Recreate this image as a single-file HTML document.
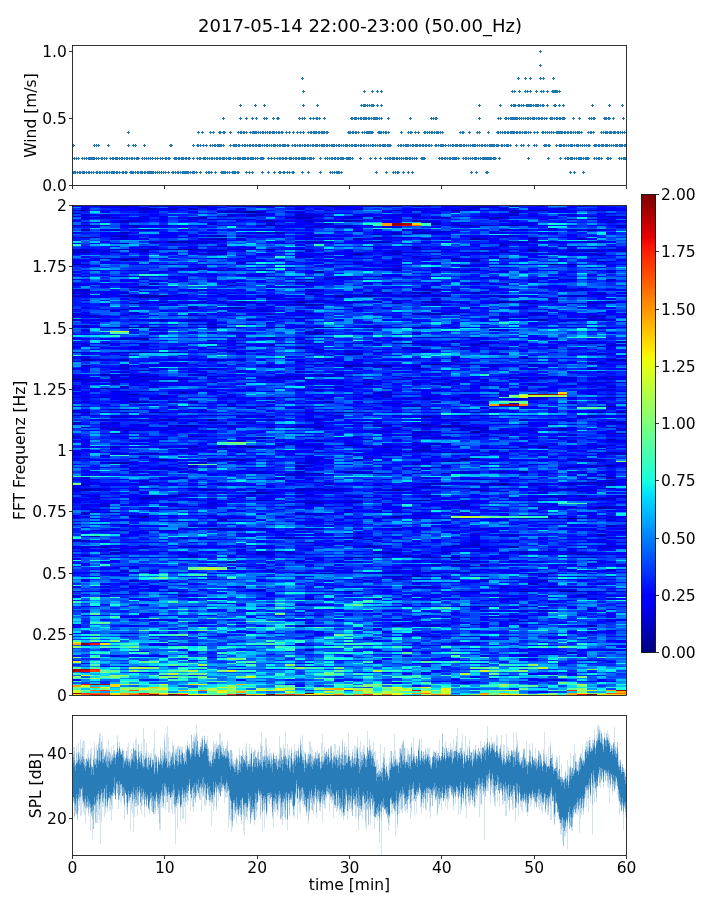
<!DOCTYPE html>
<html><head><meta charset="utf-8"><title>Spectrogram 2017-05-14</title>
<style>html,body{margin:0;padding:0;background:#fff;width:720px;height:900px;overflow:hidden}svg{display:block}</style>
</head><body>
<svg width="720" height="900" viewBox="0 0 720 900" font-family="'DejaVu Sans', 'Liberation Sans', sans-serif" font-size="15.5" fill="#000">
<clipPath id="cs"><rect x="72.5" y="205.5" width="554" height="490"/></clipPath><g clip-path="url(#cs)"><g transform="translate(71.018 206.2470) scale(9.732 1.49390)" fill="none" stroke-width="1" shape-rendering="crispEdges"><path stroke="#000096" d="M18 4h1M49 39h1M37 106h1M18 161h1M44 186h1M51 258h1"/><path stroke="#0000ad" d="M20 0h1M26 0h1M41 1h1M1 3h1M39 3h1M48 3h1M20 10h1M28 10h1M35 10h1M41 13h2M45 13h1M53 16h1M1 21h1M15 22h1M41 22h1M10 24h2M5 25h1M5 29h1M7 29h1M11 29h2M20 29h1M42 29h1M47 29h1M47 30h1M1 31h1M29 32h1M6 35h1M5 36h1M51 39h1M40 40h1M15 43h1M19 43h1M25 44h1M24 49h1M23 51h2M36 58h1M7 60h3M27 60h1M30 60h1M7 61h1M23 64h1M37 64h1M44 64h1M6 65h1M24 66h1M37 72h1M57 72h1M48 76h1M5 81h4M14 81h2M25 81h2M35 81h2M25 85h1M20 88h1M7 89h1M34 92h1M42 92h1M53 92h1M6 98h2M9 98h2M46 102h1M1 103h1M28 107h1M32 107h1M7 114h1M0 116h1M5 116h1M3 122h1M6 126h1M6 131h1M19 134h1M36 134h1M55 134h1M4 136h1M1 138h1M27 138h2M56 138h1M40 140h1M36 141h1M14 143h1M36 146h1M38 147h2M22 148h1M50 149h1M41 151h1M56 152h1M12 154h1M19 155h1M28 160h1M15 161h1M48 161h1M39 165h1M55 165h1M40 169h2M16 170h1M40 170h1M4 172h2M51 175h1M28 178h1M46 178h1M24 179h1M31 179h1M53 185h1M55 185h1M1 190h1M33 190h1M19 192h1M19 197h1M36 197h1M54 202h1M11 203h1M7 208h1M33 208h1M48 209h1M50 209h2M14 216h1M54 220h1M45 228h1M31 231h1M29 235h1M38 235h2M16 238h1M35 248h1M10 258h1M28 258h1M46 258h1M50 258h1M23 281h1"/><path stroke="#0000c8" d="M5 0h1M18 0h2M22 0h1M27 0h1M30 0h1M32 0h2M13 1h1M7 2h2M10 2h1M12 2h1M50 2h1M0 3h1M16 3h1M33 3h1M45 3h1M47 3h1M53 3h3M15 4h1M17 4h1M19 4h1M45 4h1M0 5h1M18 6h2M23 6h1M45 6h1M3 7h1M15 7h1M29 7h1M35 7h1M53 7h1M55 7h2M13 8h1M23 8h2M31 8h1M43 8h1M17 9h1M51 9h1M54 9h1M5 10h2M24 10h1M29 10h1M36 10h1M5 11h1M36 11h2M55 11h1M26 12h1M37 12h1M0 13h4M9 13h1M19 13h3M25 13h1M28 13h1M30 13h1M39 13h2M44 13h1M56 13h1M6 14h1M27 14h2M1 16h1M4 16h1M7 16h1M35 16h1M44 16h1M29 17h1M38 17h1M5 18h1M19 18h1M21 18h1M33 18h1M35 18h2M31 19h1M33 19h1M4 20h2M14 20h2M17 20h1M25 20h1M44 20h1M2 21h1M5 21h1M24 21h1M31 21h2M14 22h1M29 22h1M36 22h1M42 22h1M47 22h1M52 22h1M25 24h1M31 24h2M45 24h1M47 24h1M53 24h2M44 26h1M35 28h1M0 29h2M8 29h1M10 29h1M17 29h2M23 29h1M51 29h1M55 29h1M1 30h1M7 30h1M15 30h1M51 30h3M56 30h1M0 31h1M4 31h1M32 31h1M37 31h1M41 31h2M14 32h1M33 32h1M54 33h1M3 35h1M37 35h1M39 35h1M44 35h1M39 36h1M41 36h1M41 37h1M54 37h2M0 39h2M11 42h1M13 42h1M2 43h1M33 43h1M39 43h1M1 47h1M6 47h2M20 47h1M28 47h1M50 49h1M55 49h1M41 51h1M8 52h1M16 53h1M7 54h1M1 56h1M37 56h1M32 58h1M35 58h1M41 58h1M54 59h1M0 60h1M6 60h1M35 60h1M37 60h1M51 60h2M57 60h1M44 61h1M25 63h1M13 64h1M17 64h1M29 64h1M36 64h1M46 64h1M55 64h1M7 65h1M19 65h1M33 65h1M47 65h1M53 65h1M23 66h1M25 66h1M12 68h1M16 68h2M5 69h1M19 69h1M39 71h2M20 72h1M35 72h2M38 72h1M47 72h1M1 73h2M12 73h1M53 74h1M23 75h1M9 76h1M12 76h1M54 76h1M12 79h1M14 79h1M1 80h1M1 81h1M3 81h2M12 81h1M20 81h1M23 81h2M29 81h3M33 81h1M40 81h1M51 81h2M54 81h1M43 83h1M24 84h1M24 85h1M17 88h1M36 88h3M41 88h1M5 89h1M33 89h1M14 90h1M56 91h2M0 92h1M3 92h1M14 92h1M24 92h2M29 92h1M35 92h1M52 92h1M20 93h1M36 93h1M41 93h1M38 94h1M54 94h1M23 95h1M25 96h1M44 96h1M16 97h1M36 97h1M1 98h1M4 98h1M8 98h1M35 98h1M28 99h2M47 102h1M2 103h1M5 103h1M14 103h1M55 103h2M53 105h1M36 106h1M39 106h3M46 106h2M29 107h1M31 107h1M35 107h1M14 109h1M53 109h1M7 110h1M3 113h1M25 113h1M22 114h1M26 114h1M21 115h1M46 115h1M48 115h1M1 116h1M7 116h1M9 116h3M24 116h1M30 116h1M33 116h1M4 117h1M10 118h1M14 118h1M54 118h2M57 118h1M30 119h1M47 119h1M42 120h2M51 120h1M5 121h1M25 123h1M11 125h1M5 126h1M9 127h1M30 127h1M32 127h1M1 128h1M3 128h1M20 128h1M22 128h1M41 128h2M47 128h1M55 128h2M25 129h1M36 129h1M46 129h1M7 131h1M10 131h1M12 131h1M26 131h1M37 131h1M51 132h1M57 132h1M10 134h1M12 134h1M16 134h1M34 134h2M46 134h1M5 136h1M37 136h1M3 138h1M5 138h1M8 138h2M24 138h1M29 138h1M41 138h1M14 140h1M27 140h1M42 140h1M53 140h1M4 141h1M3 143h1M9 143h2M20 143h1M38 143h1M46 143h1M12 144h1M55 144h1M0 145h1M56 145h1M3 146h1M46 146h1M49 146h1M11 147h2M16 147h1M23 147h1M25 147h1M31 147h1M36 147h1M40 147h1M1 148h1M3 148h1M12 148h1M20 148h1M25 148h1M41 148h1M55 148h1M4 149h1M7 150h1M9 150h1M13 150h1M39 150h1M42 150h1M47 150h1M36 151h1M4 152h1M44 152h1M55 152h1M0 154h1M7 154h1M13 154h1M35 154h1M55 156h1M25 157h1M37 159h1M21 160h1M23 160h2M55 160h1M4 161h1M12 161h1M19 161h1M30 161h1M32 161h1M36 161h1M46 161h1M54 161h1M57 161h1M44 162h1M51 162h1M12 163h1M36 163h1M35 164h2M17 165h1M25 165h1M32 165h1M38 165h1M43 165h1M8 166h1M56 166h1M1 169h1M6 169h1M9 170h1M14 170h1M17 170h1M29 170h1M39 170h1M52 170h2M14 171h1M20 171h1M36 171h1M38 171h2M13 172h1M35 173h1M23 174h1M53 174h3M36 175h2M9 176h1M23 178h1M29 178h1M44 178h1M25 179h1M40 179h1M22 180h1M54 181h1M1 182h1M55 182h1M41 183h1M25 185h1M54 185h1M26 186h1M36 186h3M41 186h1M43 186h1M51 186h1M1 187h1M31 187h1M47 187h1M55 187h1M36 188h1M0 189h1M24 189h1M40 189h1M48 189h1M51 189h1M55 189h1M2 190h2M13 190h2M23 190h1M26 190h1M34 190h1M41 190h2M50 190h1M52 191h1M18 192h1M11 193h1M8 194h1M10 194h1M36 194h1M49 194h2M52 194h1M7 195h2M7 196h1M53 196h3M35 197h1M47 197h1M24 198h2M29 198h1M24 199h2M3 201h1M12 201h1M22 201h1M40 201h1M48 201h1M54 201h1M55 202h1M2 203h1M8 203h1M28 203h1M2 205h1M4 205h1M1 206h1M23 206h1M25 206h1M9 207h1M14 207h1M15 209h2M35 209h1M38 209h3M46 209h2M49 209h1M52 209h3M15 210h1M10 211h2M5 213h1M55 214h1M15 216h1M17 216h1M19 216h1M33 216h1M5 217h1M7 217h1M9 217h1M17 217h1M41 217h1M28 219h1M45 220h1M2 221h1M22 222h1M29 222h1M14 223h1M1 224h1M28 225h1M41 226h1M28 227h1M30 227h1M39 227h1M41 227h1M1 228h1M3 228h1M30 228h2M42 229h1M4 230h1M21 231h1M39 231h1M46 231h1M48 231h1M4 232h2M19 232h1M22 232h1M32 232h1M46 232h1M51 232h1M3 233h1M19 233h1M50 233h1M52 233h2M1 234h1M12 234h1M34 234h1M31 235h2M36 235h2M40 235h2M53 235h1M39 238h1M37 240h1M39 240h1M42 240h1M40 241h2M55 243h1M5 245h1M7 245h1M24 245h1M32 245h2M36 245h1M39 245h1M26 246h1M47 246h3M33 248h2M14 250h1M33 250h1M42 250h1M6 251h1M48 251h1M47 253h1M35 255h2M19 257h1M50 257h1M11 258h1M26 258h1M29 258h1M39 258h1M41 258h1M47 258h1M53 258h1M55 258h1M57 258h1M53 260h1M52 261h1M24 263h1M42 268h1M46 268h1M48 271h1M46 278h1M33 281h1M36 281h2M53 281h1M37 288h1M40 288h1M39 293h1M23 294h1M24 297h1M55 297h1M51 299h1M46 301h1M36 304h1"/><path stroke="#0000df" d="M3 0h2M13 0h1M16 0h2M21 0h1M23 0h1M31 0h1M35 0h1M42 0h1M45 0h1M5 1h2M14 1h1M40 1h1M42 1h2M1 2h1M17 2h1M23 2h1M29 2h1M40 2h2M44 2h1M6 3h2M26 3h1M35 3h2M38 3h1M40 3h1M44 3h1M46 3h1M52 3h1M57 3h1M7 4h1M16 4h1M23 4h1M39 4h1M26 5h1M45 5h1M55 5h1M1 6h1M3 6h1M16 6h1M24 6h2M30 6h1M33 6h1M35 6h1M44 6h1M51 6h1M0 7h1M9 7h1M16 7h1M18 7h1M23 7h4M28 7h1M32 7h1M42 7h1M47 7h1M1 8h4M7 8h1M12 8h1M22 8h1M28 8h1M37 8h2M44 8h1M1 9h1M12 9h1M14 9h1M53 9h1M55 9h1M19 10h1M25 10h3M55 10h1M1 11h1M47 11h1M54 11h1M14 12h1M20 12h1M39 12h1M46 12h1M6 13h1M10 13h1M17 13h1M27 13h1M43 13h1M46 13h2M57 13h1M24 14h2M32 14h1M56 14h1M49 15h1M8 16h1M34 16h1M46 16h1M49 16h1M51 16h2M54 16h1M36 17h2M39 17h1M20 18h1M37 18h1M43 18h1M32 19h1M45 20h1M0 21h1M33 21h2M38 21h1M41 21h1M47 21h1M5 22h1M13 22h1M17 22h1M31 22h1M17 23h1M57 23h1M8 24h1M12 24h3M23 24h2M30 24h1M46 24h1M48 24h2M52 24h1M12 25h2M21 25h2M24 25h1M44 25h1M14 27h2M30 27h1M34 27h1M50 27h2M53 27h3M57 28h1M2 29h3M6 29h1M9 29h1M13 29h1M16 29h1M24 29h1M35 29h2M38 29h1M43 29h1M45 29h1M49 29h1M53 29h1M56 29h1M0 30h1M3 30h1M14 30h1M24 30h1M33 30h1M44 30h1M54 30h1M23 31h1M30 31h1M33 31h3M44 31h1M13 32h1M15 32h1M26 32h1M49 32h2M53 32h2M57 33h1M23 34h2M35 34h1M5 35h1M14 35h2M29 35h1M36 35h1M43 35h1M6 36h1M33 36h1M18 37h1M32 37h1M40 37h1M53 37h1M17 38h1M29 38h1M9 39h2M13 39h1M26 39h1M44 39h1M50 39h1M33 40h1M41 40h1M43 41h1M12 42h1M16 42h1M32 42h2M37 42h1M5 43h3M10 43h1M22 43h1M38 43h1M40 43h2M49 43h1M53 43h1M55 43h1M44 44h1M55 44h1M19 45h1M5 47h1M10 47h1M19 47h1M29 47h3M33 47h2M26 48h2M0 49h1M23 49h1M26 49h1M29 49h1M47 49h1M51 49h1M53 49h1M47 50h1M55 50h1M16 51h1M22 51h1M30 51h1M32 51h2M37 51h1M0 52h1M44 52h1M24 53h1M6 54h1M21 54h2M48 54h1M35 55h1M52 55h1M0 56h1M12 56h2M24 56h2M36 56h1M39 56h1M50 56h3M55 56h1M1 57h1M24 57h2M31 57h1M0 58h2M5 58h1M30 58h1M34 58h1M42 58h1M54 58h1M3 59h1M11 59h1M15 59h1M24 59h2M53 59h1M5 60h1M10 60h1M19 60h1M28 60h2M31 60h1M33 60h2M38 60h1M43 60h2M46 60h1M50 60h1M8 61h1M20 61h1M27 61h1M20 62h1M22 62h1M49 62h1M1 63h1M34 63h1M9 64h1M11 64h1M15 64h1M18 64h1M24 64h1M26 64h1M28 64h1M31 64h1M33 64h1M43 64h1M45 64h1M49 64h1M53 64h2M57 64h1M12 65h1M16 65h1M28 65h1M40 65h1M51 65h2M9 66h1M22 66h1M36 66h2M47 67h1M29 68h1M46 68h1M12 69h1M18 69h1M4 70h1M19 70h2M23 70h1M6 71h1M48 71h1M0 72h1M6 72h1M24 72h1M31 72h1M48 72h1M5 73h1M11 73h1M13 73h1M16 73h2M47 73h1M53 73h2M2 74h1M44 74h3M54 74h1M24 75h1M53 75h1M0 76h1M8 76h1M13 76h1M18 76h1M47 76h1M51 76h1M53 76h1M55 76h1M1 77h1M9 77h1M12 77h1M24 77h1M29 77h1M50 77h1M14 78h1M30 78h1M7 79h1M13 79h1M31 80h1M16 81h1M21 81h1M34 81h1M37 81h1M39 81h1M42 81h2M54 82h1M44 83h1M25 84h1M9 85h1M16 85h1M35 85h1M24 86h1M8 88h1M21 88h2M24 88h1M35 88h1M39 88h2M44 88h1M6 89h1M20 89h1M23 89h1M16 90h1M24 90h1M39 91h1M42 91h1M4 92h1M7 92h1M17 92h1M21 92h1M23 92h1M31 92h1M33 92h1M36 92h1M41 92h1M51 92h1M54 92h1M1 93h1M7 93h1M55 93h2M2 94h1M14 94h2M17 94h1M39 94h1M10 95h1M34 95h2M40 95h1M43 95h1M49 95h1M35 96h1M40 96h1M51 96h1M18 97h1M28 97h1M0 98h1M5 98h1M11 98h1M14 98h1M17 98h1M25 98h1M28 98h2M44 99h1M53 99h2M5 100h1M1 101h1M10 102h1M12 102h1M25 102h1M35 102h1M39 102h1M45 102h1M48 102h1M3 103h1M15 103h1M17 103h1M26 103h1M0 104h1M14 104h1M23 104h1M39 104h1M47 104h1M10 105h2M54 105h1M9 106h1M11 106h1M24 106h2M28 106h3M38 106h1M43 106h1M1 107h1M5 107h1M8 107h1M20 107h1M27 107h1M30 107h1M43 107h1M47 107h2M5 108h1M7 108h1M5 109h1M9 109h1M35 109h2M42 109h1M47 109h1M57 109h1M8 110h1M5 111h1M17 111h1M23 111h1M54 111h1M29 112h1M37 112h1M4 113h3M12 113h2M27 113h1M0 114h1M4 114h1M8 114h1M14 114h2M21 114h1M23 114h1M28 114h1M49 114h1M55 114h1M57 114h1M0 115h1M4 115h1M6 115h1M8 115h1M19 115h2M23 115h1M34 115h2M45 115h1M51 115h1M54 115h2M2 116h1M8 116h1M20 116h1M37 116h2M40 116h3M47 116h1M50 116h1M53 116h1M57 116h1M1 117h2M7 117h1M31 117h1M39 117h1M51 117h1M1 118h1M4 118h1M9 118h1M19 118h1M25 118h3M35 118h1M56 118h1M4 119h1M8 119h1M35 119h1M37 119h2M42 119h1M53 119h1M8 121h1M27 121h1M55 121h1M0 122h1M4 122h1M13 123h1M18 123h1M23 123h1M35 123h1M37 123h1M46 123h1M48 123h1M54 123h2M4 124h2M7 124h2M10 124h3M14 124h1M20 124h1M40 124h1M43 124h1M31 125h2M28 126h2M32 126h2M40 126h1M44 126h1M53 126h1M55 126h1M16 127h1M37 127h1M0 128h1M2 128h1M5 128h1M8 128h1M10 128h1M15 128h1M23 128h1M26 128h1M30 128h1M32 128h1M34 128h1M36 128h1M39 128h1M48 128h1M51 128h1M57 128h1M8 129h1M34 129h1M39 129h1M47 129h2M1 131h1M20 131h1M42 131h1M16 132h1M31 132h1M33 132h1M41 132h1M55 132h1M8 133h1M35 133h1M0 134h2M11 134h1M15 134h1M17 134h1M24 134h1M45 134h1M54 134h1M18 135h1M23 135h1M0 137h1M13 137h1M43 137h1M54 137h1M0 138h1M6 138h1M12 138h1M14 138h1M23 138h1M25 138h2M30 138h1M53 138h3M0 140h2M5 140h4M12 140h1M17 140h3M26 140h1M33 140h1M39 140h1M43 140h1M54 140h1M56 140h1M5 141h1M17 141h1M20 141h1M34 141h1M37 141h1M52 141h2M55 141h1M10 142h1M43 142h1M51 142h1M6 143h3M18 143h1M24 143h2M39 143h3M50 143h1M51 144h1M4 145h1M14 145h2M17 145h2M25 145h1M29 145h3M39 145h1M54 145h2M0 146h1M6 146h1M35 146h1M37 146h1M55 146h1M7 147h1M10 147h1M24 147h1M32 147h1M34 147h2M37 147h1M4 148h1M10 148h1M14 148h1M23 148h2M38 148h1M40 148h1M42 148h1M6 149h1M10 149h1M33 149h1M40 149h3M49 149h1M56 149h1M5 150h2M11 150h1M14 150h1M30 150h2M34 150h1M40 150h1M44 150h1M49 150h2M32 151h1M35 151h1M37 151h1M42 151h1M5 152h1M18 152h1M23 152h1M35 152h1M39 152h1M45 152h1M54 152h1M57 152h1M35 153h2M42 153h1M51 153h1M6 154h1M9 154h1M23 154h1M25 154h1M41 154h2M36 155h3M46 155h1M50 155h1M9 156h1M24 156h1M30 156h1M17 157h1M51 157h1M55 157h1M28 158h1M22 159h1M35 159h1M17 160h1M29 160h1M36 160h1M52 160h2M1 161h1M7 161h1M9 161h1M11 161h1M17 161h1M25 161h1M31 161h1M34 161h1M42 161h1M13 162h2M36 162h1M42 162h1M45 162h1M10 163h1M32 163h1M35 163h1M11 164h1M22 164h1M41 164h1M4 165h1M11 165h1M31 165h1M33 165h3M37 165h1M42 165h1M44 165h1M53 165h2M56 165h1M0 166h1M5 166h1M7 166h1M55 166h1M3 167h1M23 167h1M29 167h1M32 167h2M57 168h1M0 169h1M25 169h1M30 169h2M51 169h1M15 170h1M18 170h1M24 170h1M38 170h1M42 170h1M51 170h1M54 170h1M17 171h1M24 171h2M31 171h1M50 171h1M53 171h2M3 172h1M12 172h1M23 172h2M35 172h1M47 173h1M56 173h1M12 174h1M24 174h1M10 175h1M12 175h1M14 175h1M19 175h1M35 175h1M38 175h1M44 175h1M50 175h1M8 176h1M23 176h1M6 178h1M11 178h1M16 178h1M18 178h2M30 178h1M40 178h2M43 178h1M51 178h2M18 179h2M22 179h2M30 179h1M32 179h1M35 179h1M38 179h1M52 179h1M54 179h1M23 180h1M25 180h1M53 181h1M11 182h1M21 182h1M36 182h1M2 183h1M20 183h1M24 183h1M32 183h1M42 183h2M53 183h1M7 184h1M55 184h1M7 185h1M52 185h1M1 186h1M7 186h2M15 186h1M42 186h1M47 186h2M52 186h4M57 186h1M3 187h1M42 187h1M54 187h1M35 188h1M37 188h1M1 189h2M8 189h1M12 189h1M23 189h1M25 189h1M27 189h2M33 189h1M38 189h1M45 189h1M52 189h1M54 189h1M0 190h1M6 190h1M17 190h1M19 190h1M24 190h2M27 190h1M31 190h2M48 190h2M51 190h1M53 190h1M27 191h1M42 191h1M44 191h1M14 192h2M20 192h1M23 192h1M48 192h1M1 193h1M2 194h1M18 194h1M23 194h2M28 194h2M37 194h1M56 194h1M9 195h1M26 195h1M29 195h3M39 195h2M44 195h1M47 195h1M50 195h1M55 195h3M2 196h1M8 196h1M14 196h1M1 197h1M12 197h2M18 197h1M24 197h1M28 197h1M40 197h1M48 197h1M51 197h1M57 197h1M4 198h1M23 198h1M27 198h2M40 198h1M3 199h1M7 199h1M10 199h1M14 199h1M32 199h1M34 199h2M1 200h1M3 200h1M10 200h1M14 200h1M39 200h2M1 201h1M13 201h2M23 201h1M26 201h1M47 201h1M49 201h2M55 201h2M51 202h1M53 202h1M1 203h1M6 203h1M10 203h1M37 203h1M31 204h1M1 205h1M3 205h1M28 205h1M33 205h1M40 205h1M24 206h1M36 206h1M5 207h2M35 207h1M46 207h1M6 208h1M32 208h1M55 208h1M2 209h1M14 209h1M17 209h1M29 209h1M31 209h1M37 209h1M44 210h1M55 210h1M24 211h1M56 211h1M37 212h1M0 213h1M3 213h2M20 213h1M24 213h1M29 213h1M52 213h1M12 214h1M14 214h1M56 214h1M38 215h2M11 216h1M16 216h1M23 216h3M42 216h1M56 216h1M3 217h1M8 217h1M10 217h1M15 217h1M42 217h1M53 217h2M7 219h1M17 219h1M25 219h1M29 219h1M41 220h1M44 220h1M11 222h1M21 222h1M23 222h1M28 222h1M31 222h1M55 222h2M30 223h1M52 223h1M54 223h1M0 224h1M31 224h1M41 224h1M7 225h1M23 225h2M54 225h1M56 225h1M18 227h1M20 227h1M24 227h1M40 227h1M51 227h1M55 227h1M2 228h1M7 228h2M11 228h2M17 228h1M19 228h1M38 228h3M54 228h2M6 229h1M54 229h1M56 229h1M33 230h1M42 230h1M9 231h1M19 231h1M38 231h1M41 231h1M45 231h1M47 231h1M49 231h1M51 231h1M11 232h1M20 232h1M31 232h1M33 232h1M38 232h1M44 232h1M52 232h1M20 233h1M23 233h1M36 233h1M48 233h1M55 233h1M57 233h1M36 234h1M9 235h1M12 235h1M16 235h2M25 235h1M27 235h2M30 235h1M35 235h1M44 235h1M56 235h1M43 236h1M23 238h1M29 238h1M40 238h2M45 238h1M53 239h2M34 240h1M56 240h1M6 241h1M17 241h2M35 241h1M33 242h1M42 243h1M46 243h1M5 244h1M20 244h1M26 244h1M33 244h1M35 244h1M51 244h1M53 244h1M55 244h1M6 245h1M28 245h4M37 245h2M40 245h2M23 246h1M25 246h1M31 246h1M37 246h1M40 246h1M35 247h1M32 248h1M36 248h1M42 248h1M50 248h1M52 248h1M55 248h1M33 249h1M1 250h1M34 250h2M9 251h1M30 251h1M42 251h1M36 252h1M57 252h1M54 253h1M17 255h1M37 255h1M44 255h1M49 255h1M51 255h1M53 255h1M5 256h1M57 256h1M46 257h1M51 257h1M24 258h1M40 258h1M52 258h1M54 258h1M4 260h1M6 260h1M3 261h1M11 261h1M57 261h1M24 262h1M31 263h1M44 263h2M53 263h1M55 263h1M49 265h1M15 266h1M36 266h1M24 267h1M12 268h1M39 268h3M47 268h1M14 270h1M53 270h1M1 271h1M42 271h1M46 271h1M13 274h1M23 274h1M25 274h1M36 274h1M45 274h1M43 275h1M8 277h2M33 277h1M45 277h1M55 277h1M45 278h1M47 278h1M55 278h1M12 279h1M35 279h1M33 280h1M38 280h1M41 280h1M24 281h1M46 281h1M55 284h1M53 285h1M5 286h2M35 286h1M49 286h1M36 288h1M41 288h1M44 288h1M30 290h1M42 290h1M41 292h1M24 294h1M36 294h1M47 296h1M32 298h1M34 298h1M49 300h1M4 301h1M34 301h1M42 301h1M52 304h2M24 306h1M42 306h1M24 308h1M36 312h1M49 317h2M55 318h1M40 319h1"/><path stroke="#0000fa" d="M1 0h1M6 0h1M9 0h1M14 0h1M24 0h2M28 0h1M36 0h1M43 0h1M48 0h1M51 0h1M1 1h1M7 1h1M10 1h2M27 1h1M29 1h1M38 1h1M47 1h1M54 1h2M57 1h1M5 2h1M14 2h1M27 2h2M35 2h2M47 2h1M49 2h1M54 2h1M3 3h1M5 3h1M9 3h2M15 3h1M24 3h1M32 3h1M41 3h2M49 3h1M56 3h1M8 4h1M22 4h1M32 4h1M36 4h1M49 4h1M19 5h1M28 5h1M37 5h1M42 5h1M44 5h1M2 6h1M50 6h1M57 6h1M21 7h2M27 7h1M30 7h1M33 7h2M37 7h1M48 7h1M51 7h1M57 7h1M6 8h1M11 8h1M29 8h1M33 8h1M35 8h1M42 8h1M48 8h1M7 9h1M15 9h1M23 9h2M27 9h1M33 9h1M43 9h1M48 9h1M4 10h1M7 10h1M11 10h2M32 10h2M44 10h1M54 10h1M56 10h1M2 11h1M4 11h1M14 11h1M24 11h1M32 11h1M39 11h1M56 11h1M24 12h1M5 13h1M7 13h1M12 13h2M15 13h2M23 13h1M26 13h1M29 13h1M48 13h2M51 13h1M55 13h1M2 14h1M5 14h1M7 14h1M26 14h1M29 14h1M33 14h1M37 14h1M40 14h2M3 16h1M14 16h1M17 16h2M21 16h2M55 16h1M27 17h1M35 17h1M3 18h2M6 18h1M10 18h2M14 18h1M18 18h1M23 18h1M31 18h1M44 18h2M48 18h2M55 18h1M9 19h1M11 19h1M37 19h1M51 19h1M3 20h1M8 20h2M18 20h1M26 20h3M40 20h1M46 20h1M51 20h1M57 20h1M9 21h2M18 21h2M23 21h1M35 21h1M44 21h1M46 21h1M4 22h1M23 22h2M26 22h2M30 22h1M32 22h1M38 22h1M43 22h1M15 23h2M43 23h1M9 24h1M15 24h1M20 24h1M26 24h1M36 24h1M44 24h1M55 24h1M2 25h1M27 25h1M29 25h1M34 25h1M42 25h2M45 25h2M50 25h1M23 26h1M46 26h1M7 27h1M35 27h1M38 27h1M40 27h1M52 27h1M8 28h1M16 28h2M31 28h1M42 28h2M48 28h1M56 28h1M19 29h1M22 29h1M46 29h1M48 29h1M2 30h1M17 30h1M28 30h1M31 30h2M38 30h1M46 30h1M49 30h1M55 30h1M3 31h1M6 31h1M12 31h1M14 31h2M27 31h1M40 31h1M45 31h1M50 31h1M1 32h1M5 32h1M10 32h1M19 32h1M23 32h1M27 32h2M30 32h1M32 32h1M41 32h2M47 32h1M51 32h2M19 33h1M23 33h3M28 33h1M34 33h1M40 33h1M47 33h1M51 33h1M53 33h1M55 33h2M26 34h2M36 34h1M38 34h1M47 34h2M4 35h1M7 35h1M9 35h1M12 35h1M17 35h2M30 35h1M35 35h1M40 35h1M42 35h1M46 35h1M50 35h1M54 35h1M0 36h1M2 36h1M7 36h1M19 36h1M21 36h1M25 36h1M40 36h1M57 36h1M3 37h1M17 37h1M19 37h2M22 37h1M28 37h2M34 37h1M39 37h1M8 38h1M24 38h1M36 38h2M11 39h2M21 39h2M27 39h2M30 39h2M34 39h1M42 39h2M48 39h1M52 39h1M55 39h1M1 40h1M25 40h2M31 40h1M51 40h1M13 41h1M19 41h1M22 41h1M53 41h1M14 42h1M29 42h2M38 42h2M41 42h1M12 43h1M14 43h1M16 43h3M20 43h1M24 43h1M32 43h1M36 43h1M42 43h1M47 43h1M54 43h1M37 44h1M43 44h1M46 44h1M5 45h1M8 45h1M13 45h1M27 45h1M36 45h1M0 46h1M18 46h2M32 46h1M11 47h1M14 47h1M21 47h1M27 47h1M32 47h1M35 47h1M37 47h1M40 47h1M57 47h1M10 48h1M28 48h1M42 48h1M48 48h2M57 48h1M7 49h1M14 49h1M28 49h1M45 49h1M48 49h1M5 50h1M11 50h1M14 50h1M17 50h1M27 50h1M51 50h1M57 50h1M19 51h1M25 51h1M31 51h1M34 51h1M38 51h1M48 51h2M2 52h2M5 52h2M23 52h2M27 52h1M30 52h1M40 52h1M1 53h1M37 53h1M8 54h1M33 54h1M41 54h1M50 54h1M8 55h1M32 55h1M42 55h2M20 56h1M29 56h1M38 56h1M0 57h1M3 57h2M7 57h1M23 57h1M28 57h1M3 58h1M16 58h1M24 58h1M38 58h1M53 58h1M56 58h2M1 59h1M6 59h2M28 59h1M55 59h1M1 60h2M11 60h1M14 60h1M16 60h1M20 60h1M22 60h1M26 60h1M47 60h1M53 60h1M56 60h1M6 61h1M12 61h1M16 61h2M19 61h1M28 61h1M42 61h1M45 61h1M48 61h1M5 62h1M9 62h1M13 62h1M23 62h1M32 62h1M54 62h2M14 63h1M23 63h1M47 63h1M20 64h1M22 64h1M30 64h1M38 64h2M47 64h1M56 64h1M3 65h1M8 65h1M14 65h2M21 65h1M43 65h1M48 65h1M54 65h1M10 66h1M53 66h1M28 67h1M53 67h1M1 68h1M19 68h2M30 68h1M32 68h1M54 68h1M0 69h1M3 69h1M6 69h1M14 69h1M20 69h1M28 69h2M39 69h1M48 69h1M11 70h1M16 70h1M29 70h1M38 70h3M1 71h1M24 71h1M33 71h1M38 71h1M41 71h1M47 71h1M50 71h1M19 72h1M25 72h1M53 72h1M56 72h1M10 73h1M15 73h1M22 73h2M25 73h1M32 73h2M51 73h1M0 74h1M3 74h2M20 74h1M43 74h1M52 74h1M21 75h1M42 75h1M1 76h2M6 76h1M14 76h1M19 76h1M27 76h1M50 76h1M52 76h1M3 77h1M11 77h1M23 77h1M36 77h1M42 77h1M56 77h1M2 78h1M15 78h1M20 78h1M8 79h1M22 79h1M42 79h1M48 79h1M51 79h1M53 79h1M0 80h1M23 80h1M25 80h1M30 80h1M2 81h1M9 81h1M11 81h1M27 81h1M32 81h1M41 81h1M44 81h1M48 81h3M53 81h1M55 81h1M57 81h1M55 82h1M8 83h1M54 84h1M8 85h1M17 85h1M30 85h1M1 86h1M25 86h1M33 86h1M35 86h1M5 88h1M12 88h1M19 88h1M26 88h1M32 88h1M42 88h1M45 88h1M48 88h1M0 89h1M3 89h2M19 89h1M31 89h1M41 89h1M48 89h1M53 89h1M32 90h1M39 90h1M16 91h1M38 91h1M43 91h1M46 91h1M50 91h1M1 92h1M6 92h1M12 92h2M15 92h2M28 92h1M30 92h1M37 92h1M43 92h1M50 92h1M55 92h1M38 93h1M40 93h1M47 93h1M49 93h1M6 94h1M41 94h2M46 94h1M55 94h1M3 95h1M5 95h3M11 95h1M24 95h1M47 95h1M52 95h1M55 95h1M2 96h1M6 96h1M8 96h2M11 96h1M14 96h1M36 96h1M41 96h1M43 96h1M25 97h2M57 97h1M2 98h1M12 98h2M31 98h2M36 98h1M56 98h1M19 99h1M27 99h1M31 99h1M43 99h1M33 100h1M51 100h1M0 101h1M22 101h1M30 101h1M1 102h1M17 102h1M26 102h1M43 102h1M49 102h2M53 102h2M4 103h1M8 103h1M10 103h2M16 103h1M19 103h1M29 103h1M33 103h1M37 103h1M39 103h1M53 103h1M24 104h1M29 104h1M48 104h2M55 104h2M9 105h1M26 105h1M28 105h2M37 105h2M50 105h2M5 106h1M10 106h1M12 106h1M17 106h1M31 106h1M34 106h2M44 106h2M48 106h1M55 106h1M57 106h1M6 107h2M9 107h3M13 107h1M19 107h1M21 107h1M33 107h2M42 107h1M44 107h2M3 108h1M20 108h1M28 108h1M32 108h1M43 108h1M0 109h1M4 109h1M11 109h1M23 109h1M33 109h1M43 109h1M46 109h1M55 109h2M1 110h1M17 110h1M37 110h1M13 111h1M24 111h1M27 111h1M34 111h1M7 112h1M27 112h1M46 112h1M52 112h1M0 113h1M8 113h1M16 113h1M23 113h2M26 113h1M36 113h2M45 113h1M47 113h1M18 114h2M24 114h2M27 114h1M41 114h1M44 114h1M2 115h1M7 115h1M9 115h1M11 115h1M22 115h1M38 115h2M50 115h1M53 115h1M4 116h1M6 116h1M14 116h1M16 116h2M21 116h1M23 116h1M34 116h1M46 116h1M51 116h1M54 116h3M0 117h1M3 117h1M5 117h1M20 117h1M24 117h1M27 117h1M30 117h1M42 117h1M5 118h4M18 118h1M20 118h2M29 118h2M36 118h1M40 118h1M43 118h2M52 118h2M1 119h1M3 119h1M9 119h2M12 119h1M26 119h2M39 119h1M46 119h1M48 119h1M52 119h1M54 119h1M0 120h1M7 120h2M10 120h2M28 120h2M41 120h1M47 120h1M50 120h1M54 120h2M0 121h1M26 121h1M29 121h2M50 121h2M53 121h1M1 122h2M5 122h1M18 122h1M32 122h1M39 122h1M41 122h1M45 122h2M48 122h1M2 123h1M14 123h1M16 123h2M24 123h1M27 123h1M33 123h1M38 123h1M41 123h2M49 123h1M53 123h1M6 124h1M30 124h1M32 124h1M39 124h1M44 124h1M47 124h1M49 124h1M52 124h1M0 125h1M4 125h1M10 125h1M36 125h1M53 125h1M3 126h2M14 126h1M25 126h2M35 126h1M41 126h1M57 126h1M1 127h1M4 127h3M10 127h1M27 127h1M31 127h1M44 127h1M4 128h1M13 128h1M16 128h3M24 128h1M35 128h1M38 128h1M40 128h1M43 128h1M50 128h1M54 128h1M5 129h2M17 129h1M20 129h1M29 129h1M31 129h1M33 129h1M35 129h1M37 129h1M41 129h1M44 129h2M51 129h1M54 129h1M5 131h1M11 131h1M15 131h1M17 131h1M22 131h1M25 131h1M29 131h1M41 131h1M47 131h1M54 131h1M0 132h1M2 132h1M15 132h1M24 132h2M32 132h1M42 132h1M45 132h1M48 132h2M56 132h1M33 133h2M13 134h1M18 134h1M20 134h1M25 134h1M30 134h1M39 134h2M43 134h2M47 134h1M10 135h1M42 135h1M46 135h1M55 135h1M3 136h1M8 136h1M13 136h1M30 136h1M41 136h1M8 137h1M11 137h1M20 137h1M39 137h1M44 137h2M51 137h3M56 137h1M13 138h1M15 138h1M17 138h1M32 138h2M36 138h2M40 138h1M42 138h2M49 138h1M57 138h1M2 140h1M4 140h1M15 140h1M35 140h1M38 140h1M41 140h1M47 140h1M50 140h1M55 140h1M6 141h1M10 141h2M18 141h2M24 141h1M35 141h1M57 141h1M8 142h1M24 142h1M37 142h1M2 143h1M4 143h1M11 143h3M16 143h2M26 143h1M28 143h1M30 143h1M36 143h2M47 143h1M43 144h2M13 145h1M26 145h1M37 145h1M47 145h2M57 145h1M1 146h1M19 146h2M44 146h1M47 146h1M56 146h1M3 147h1M6 147h1M13 147h1M17 147h1M20 147h1M28 147h1M41 147h1M47 147h2M5 148h2M8 148h1M11 148h1M17 148h1M26 148h2M33 148h1M39 148h1M51 148h1M3 149h1M5 149h1M8 149h1M11 149h2M46 149h2M51 149h1M53 149h1M1 150h1M12 150h1M28 150h2M32 150h1M45 150h1M48 150h1M56 150h1M10 151h1M13 151h2M30 151h1M43 151h5M24 152h1M36 152h1M38 152h1M41 152h1M43 152h1M13 153h1M33 153h1M37 153h1M49 153h1M8 154h1M24 154h1M55 154h1M17 155h2M27 155h3M39 155h1M1 156h1M8 156h1M13 156h1M21 156h1M27 156h1M0 157h2M7 157h1M19 157h1M21 157h1M24 157h1M33 157h1M54 157h1M56 157h1M23 158h1M46 158h1M56 158h1M1 159h1M6 159h2M21 159h1M25 159h1M29 159h1M32 159h1M36 159h1M38 159h1M53 159h1M26 160h2M35 160h1M47 160h1M49 160h1M54 160h1M2 161h1M5 161h2M8 161h1M10 161h1M14 161h1M26 161h1M33 161h1M35 161h1M38 161h2M47 161h1M51 161h1M12 162h1M35 162h1M55 162h1M16 163h1M38 163h1M40 163h1M2 164h1M12 164h1M14 164h1M16 164h2M24 164h1M31 164h3M37 164h1M39 164h2M43 164h1M48 164h1M52 164h1M2 165h2M24 165h1M26 165h2M4 166h1M6 166h1M9 166h1M12 166h1M28 166h1M30 166h2M33 166h1M44 166h1M48 166h1M57 166h1M0 167h1M35 167h2M39 167h1M47 167h1M51 167h2M54 167h1M35 168h1M37 168h1M7 169h1M16 169h1M18 169h1M20 169h1M23 169h1M32 169h1M36 169h1M38 169h1M44 169h1M8 170h1M12 170h1M25 170h2M37 170h1M45 170h4M26 171h1M28 171h1M37 171h1M43 171h1M48 171h1M52 171h1M6 172h1M56 172h1M25 173h1M32 173h1M34 173h1M42 173h1M44 173h1M48 173h1M55 173h1M38 174h1M46 174h1M51 174h2M8 175h1M20 175h1M23 175h1M34 175h1M52 175h1M10 176h1M25 176h1M30 176h1M34 176h1M57 176h1M24 177h1M2 178h1M7 178h2M12 178h1M17 178h1M20 178h2M27 178h1M39 178h1M55 178h1M14 179h2M29 179h1M33 179h1M45 179h1M53 179h1M55 179h1M3 180h1M7 180h1M14 180h1M16 180h1M24 180h1M48 180h1M51 180h1M23 181h1M55 181h1M9 182h2M23 182h2M45 182h1M0 183h2M9 183h1M13 183h1M40 183h1M44 183h1M47 183h1M1 184h1M6 184h1M22 184h2M1 185h1M8 185h2M23 185h2M39 185h2M2 186h3M6 186h1M10 186h1M14 186h1M22 186h1M27 186h2M31 186h2M35 186h1M45 186h1M49 186h2M56 186h1M4 187h1M9 187h1M12 187h2M16 187h2M25 187h1M33 187h2M50 187h2M20 188h1M52 188h1M3 189h1M5 189h3M18 189h1M35 189h1M37 189h1M39 189h1M41 189h2M44 189h1M46 189h1M49 189h1M53 189h1M57 189h1M12 190h1M15 190h2M28 190h1M46 190h2M52 190h1M56 190h1M0 191h1M19 191h1M22 191h3M28 191h1M37 191h1M43 191h1M48 191h1M33 192h4M47 192h1M24 193h1M7 194h1M9 194h1M11 194h2M17 194h1M25 194h1M42 194h1M48 194h1M51 194h1M55 194h1M3 195h1M5 195h2M10 195h1M20 195h1M23 195h1M36 195h1M41 195h1M45 195h1M52 195h1M54 195h1M0 196h1M9 196h1M32 196h1M47 196h1M51 196h1M0 197h1M3 197h2M8 197h1M14 197h2M20 197h2M41 197h1M45 197h2M50 197h1M52 197h2M7 198h1M22 198h1M26 198h1M39 198h1M41 198h1M6 199h1M21 199h1M33 199h1M38 199h1M40 199h1M55 199h1M6 200h1M15 200h1M24 200h1M36 200h3M49 200h1M17 201h1M27 201h1M29 201h1M32 201h1M41 201h1M43 201h1M1 202h1M8 202h1M14 202h1M24 202h1M34 202h1M38 202h1M40 202h1M48 202h1M56 202h1M3 203h1M7 203h1M21 203h1M32 203h2M42 203h1M48 203h2M2 204h1M28 204h1M33 204h1M42 204h3M47 204h1M55 204h1M12 205h1M27 205h1M32 205h1M35 205h2M48 205h1M52 205h2M19 206h1M26 206h1M35 206h1M37 206h1M39 206h1M44 206h1M52 206h2M4 207h1M8 207h1M36 207h1M41 207h1M50 207h1M53 207h1M0 208h2M10 208h1M14 208h1M16 208h1M21 208h1M30 208h1M35 208h1M49 208h1M53 208h1M56 208h1M7 209h2M13 209h1M23 209h2M30 209h1M43 209h2M4 210h3M19 210h1M25 210h1M43 210h1M14 211h2M23 211h1M25 211h2M29 211h1M38 211h1M47 211h1M49 211h2M24 212h1M28 212h1M27 213h1M45 213h1M51 213h1M5 214h3M9 214h1M13 214h1M32 214h1M38 214h1M47 214h1M53 214h1M34 215h2M44 215h1M12 216h1M18 216h1M20 216h1M32 216h1M35 216h1M47 216h1M52 216h2M4 217h1M18 217h3M35 217h1M40 217h1M43 217h1M1 218h1M6 218h1M23 218h1M39 218h1M43 218h1M54 218h2M1 219h1M4 219h1M21 219h1M56 219h1M5 220h1M21 220h1M23 220h2M43 220h1M55 220h1M5 221h1M33 221h1M41 221h1M44 221h1M52 221h2M27 222h1M48 222h1M13 223h1M15 223h1M37 223h1M46 223h1M48 223h1M53 223h1M3 224h1M19 224h1M35 224h1M53 224h1M55 224h1M5 225h2M8 225h1M25 225h1M27 225h1M32 225h2M40 225h3M44 225h2M53 225h1M55 225h1M57 225h1M25 226h2M34 226h1M55 226h1M4 227h1M7 227h1M12 227h1M16 227h1M19 227h1M26 227h1M29 227h1M32 227h1M52 227h3M57 227h1M0 228h1M13 228h1M20 228h1M29 228h1M41 228h4M49 228h1M56 228h1M0 229h2M7 229h1M23 229h1M32 229h1M51 229h1M55 229h1M5 230h1M24 230h1M41 230h1M43 230h1M51 230h1M55 230h1M0 231h1M3 231h1M14 231h1M20 231h1M22 231h1M32 231h1M35 231h1M40 231h1M43 231h1M6 232h1M10 232h1M17 232h1M37 232h1M45 232h1M47 232h1M49 232h2M54 232h1M56 232h1M0 233h2M11 233h1M30 233h1M33 233h1M46 233h1M49 233h1M51 233h1M54 233h1M56 233h1M20 234h1M4 235h1M6 235h3M10 235h2M13 235h3M22 235h1M26 235h1M42 235h2M51 235h2M0 236h1M24 236h1M28 236h1M39 236h1M36 237h1M40 237h1M46 237h1M53 237h1M27 238h1M35 238h1M37 238h1M42 238h1M44 238h1M47 238h1M51 238h1M21 240h1M36 240h1M38 240h1M40 240h1M44 240h1M46 240h1M50 240h2M53 240h1M5 241h1M32 241h3M42 241h1M52 241h1M4 242h1M16 242h1M19 242h1M44 243h1M47 243h1M56 243h1M34 244h1M41 244h1M43 244h3M52 244h1M54 244h1M1 245h1M8 245h1M10 245h1M12 245h2M23 245h1M34 245h1M45 245h1M14 246h1M24 246h1M30 246h1M32 246h2M35 246h2M5 247h1M20 248h1M24 248h1M51 248h1M57 248h1M28 250h2M39 250h1M46 250h1M50 250h1M54 250h1M19 251h1M41 251h1M47 251h1M35 252h1M38 252h1M41 252h1M44 252h2M47 252h1M3 253h1M12 253h1M25 253h1M35 253h1M8 254h1M26 254h1M42 254h1M44 254h1M3 255h1M8 255h2M29 255h1M31 255h2M34 255h1M48 255h1M50 255h1M8 256h1M26 256h1M34 256h1M36 256h1M55 256h2M3 257h1M8 257h1M13 257h1M43 257h2M49 257h1M2 258h1M9 258h1M17 258h1M27 258h1M37 258h2M44 258h2M48 258h1M5 260h1M33 260h1M35 260h1M39 260h2M52 260h1M54 260h1M35 261h1M38 261h1M43 261h2M56 261h1M37 262h1M51 262h1M12 263h1M15 263h1M19 263h1M35 263h1M38 263h1M46 263h1M42 264h3M51 264h1M41 266h1M7 267h1M23 267h1M1 268h2M32 268h1M36 268h1M43 268h1M45 268h1M41 269h1M45 269h1M55 270h1M18 271h1M32 271h1M36 271h1M44 271h1M49 271h1M54 271h1M7 273h1M48 273h1M1 274h3M8 274h1M14 274h1M46 274h1M5 275h1M42 275h1M44 275h2M55 275h1M16 277h1M23 277h1M56 277h2M44 278h1M24 279h1M39 279h2M42 279h1M44 279h1M50 279h1M0 280h1M34 280h2M37 280h1M45 280h1M13 281h1M25 281h1M35 281h1M42 281h1M51 281h2M40 282h1M31 283h1M23 285h1M25 285h1M32 285h1M37 285h1M55 285h1M10 286h1M21 286h1M25 286h1M36 286h1M9 288h1M14 288h1M34 288h1M42 288h1M45 288h1M50 288h1M42 289h1M50 289h1M43 290h2M31 291h1M39 292h1M53 292h1M57 292h1M40 293h1M8 294h2M12 294h1M26 294h1M34 294h1M37 294h1M47 294h1M45 296h1M48 297h1M53 297h2M29 298h1M31 298h1M50 298h1M12 299h1M47 300h1M9 301h1M28 301h1M45 301h1M32 303h1M39 303h1M47 303h1M12 304h1M40 304h1M47 304h1M1 306h1M7 308h1M10 308h2M17 308h1M25 308h1M17 310h1M47 313h1M51 313h1M44 314h1M47 316h1M17 317h1M53 318h2M22 320h1"/><path stroke="#0000ff" d="M0 0h1M2 0h1M8 0h1M10 0h1M12 0h1M29 0h1M38 0h4M52 0h1M54 0h1M3 1h2M15 1h1M19 1h2M23 1h1M28 1h1M44 1h1M51 1h1M6 2h1M9 2h1M25 2h1M34 2h1M37 2h3M48 2h1M55 2h2M4 3h1M8 3h1M11 3h1M17 3h1M34 3h1M43 3h1M50 3h2M3 4h1M12 4h1M34 4h1M37 4h1M46 4h1M50 4h2M14 5h1M20 5h1M23 5h2M27 5h1M47 5h1M54 5h1M4 6h2M8 6h1M17 6h1M20 6h1M29 6h1M31 6h2M34 6h1M42 6h2M47 6h1M54 6h1M1 7h1M7 7h2M39 7h1M41 7h1M44 7h1M49 7h1M52 7h1M54 7h1M5 8h1M9 8h1M27 8h1M32 8h1M36 8h1M49 8h1M54 8h4M6 9h1M8 9h2M16 9h1M18 9h1M25 9h1M0 10h1M9 10h1M17 10h1M21 10h3M37 10h1M45 10h1M3 11h1M13 11h1M16 11h1M19 11h2M23 11h1M40 11h1M45 11h2M50 11h2M23 12h1M25 12h1M44 12h2M47 12h1M8 13h1M11 13h1M22 13h1M38 13h1M53 13h2M8 14h2M11 14h1M13 14h1M19 14h1M21 14h3M57 14h1M29 15h1M6 16h1M11 16h1M16 16h1M19 16h2M24 16h1M29 16h1M31 16h1M36 16h1M45 16h1M48 16h1M32 17h1M43 17h1M57 17h1M0 18h1M9 18h1M13 18h1M24 18h1M32 18h1M38 18h1M46 18h1M3 19h3M10 19h1M12 19h1M24 19h3M28 19h1M34 19h1M38 19h1M49 19h1M6 20h1M10 20h1M12 20h2M20 20h2M23 20h2M41 20h3M53 20h1M6 21h1M8 21h1M11 21h1M20 21h2M37 21h1M42 21h1M48 21h1M50 21h2M6 22h2M25 22h1M34 22h1M51 22h1M53 22h1M12 23h2M29 23h1M33 23h1M47 23h1M3 24h1M21 24h1M28 24h2M38 24h1M43 24h1M50 24h2M0 25h1M4 25h1M28 25h1M30 25h1M35 25h2M15 26h1M41 26h1M47 26h1M4 27h1M8 27h1M12 27h1M17 27h1M31 27h3M36 27h1M41 27h1M44 27h1M57 27h1M6 28h1M11 28h2M18 28h1M23 28h1M32 28h1M37 28h1M47 28h1M51 28h1M14 29h1M37 29h1M39 29h1M41 29h1M44 29h1M52 29h1M54 29h1M6 30h1M12 30h2M20 30h1M50 30h1M2 31h1M7 31h2M10 31h1M21 31h1M26 31h1M28 31h2M36 31h1M39 31h1M43 31h1M0 32h1M3 32h1M7 32h1M9 32h1M12 32h1M20 32h1M24 32h2M40 32h1M43 32h1M46 32h1M48 32h1M11 33h1M17 33h1M20 33h1M29 33h1M32 33h1M52 33h1M1 34h1M7 34h1M18 34h1M28 34h1M31 34h1M43 34h1M57 34h1M2 35h1M28 35h1M33 35h1M38 35h1M41 35h1M53 35h1M1 36h1M4 36h1M26 36h1M36 36h1M46 36h1M56 36h1M0 37h2M13 37h1M26 37h2M33 37h1M43 37h1M50 37h1M0 38h1M3 38h2M6 38h1M25 38h1M30 38h1M32 38h2M54 38h1M57 38h1M6 39h2M14 39h2M18 39h1M20 39h1M29 39h1M37 39h1M39 39h1M41 39h1M45 39h3M56 39h2M2 40h1M30 40h1M32 40h1M42 40h1M55 40h1M15 41h1M18 41h1M20 41h2M33 41h1M37 41h1M44 41h1M54 41h1M10 42h1M28 42h1M31 42h1M1 43h1M4 43h1M30 43h1M35 43h1M37 43h1M44 43h1M48 43h1M0 44h1M8 44h2M24 44h1M40 44h1M51 44h1M1 45h1M24 45h1M3 46h1M12 46h1M14 46h1M17 46h1M33 46h1M50 46h1M53 46h1M4 47h1M8 47h2M18 47h1M22 47h2M36 47h1M41 47h1M51 47h1M54 47h1M11 48h1M43 48h2M1 49h1M5 49h2M11 49h1M22 49h1M30 49h1M44 49h1M3 50h1M6 50h1M8 50h2M16 50h1M19 50h1M39 50h1M49 50h2M10 51h1M15 51h1M35 51h2M42 51h1M45 51h1M47 51h1M57 51h1M1 52h1M4 52h1M25 52h1M32 52h1M37 52h1M41 52h1M43 52h1M0 53h1M5 53h1M17 53h1M36 53h1M49 53h1M3 54h1M5 54h1M20 54h1M23 54h1M36 54h1M49 54h1M7 55h1M36 55h1M49 55h2M53 55h1M11 56h1M14 56h1M17 56h1M31 56h1M35 56h1M43 56h3M53 56h1M56 56h1M2 57h1M8 57h1M12 57h1M27 57h1M37 57h1M42 57h1M50 57h1M4 58h1M14 58h1M18 58h1M31 58h1M39 58h2M44 58h1M48 58h1M4 59h1M29 59h1M32 59h1M36 59h2M3 60h2M15 60h1M17 60h1M21 60h1M23 60h1M25 60h1M32 60h1M36 60h1M42 60h1M45 60h1M54 60h1M1 61h3M9 61h3M21 61h1M40 61h2M54 61h1M10 62h2M16 62h3M21 62h1M37 62h1M24 63h1M26 63h1M32 63h2M37 63h1M7 64h2M12 64h1M21 64h1M25 64h1M27 64h1M40 64h1M42 64h1M48 64h1M1 65h1M10 65h2M17 65h2M20 65h1M23 65h1M27 65h1M37 65h1M42 65h1M57 65h1M3 66h1M16 66h2M19 66h1M21 66h1M38 66h1M41 66h1M50 66h1M12 67h1M20 67h1M46 67h1M6 68h1M15 68h1M24 68h2M38 68h2M41 68h2M45 68h1M55 68h1M4 69h1M15 69h1M27 69h1M9 70h1M17 70h2M21 70h1M37 70h1M49 70h1M55 70h1M57 70h1M15 71h1M22 71h2M51 71h1M54 71h2M1 72h1M7 72h1M12 72h1M14 72h1M18 72h1M22 72h2M44 72h1M51 72h2M55 72h1M0 73h1M8 73h1M24 73h1M40 73h1M46 73h1M48 73h2M1 74h1M33 74h1M51 74h1M56 74h1M22 75h1M25 75h1M44 75h1M49 75h1M54 75h1M3 76h1M7 76h1M10 76h2M23 76h1M32 76h1M34 76h1M42 76h1M44 76h3M13 77h2M21 77h1M35 77h1M43 77h1M39 78h1M47 78h1M6 79h1M9 79h2M17 79h2M47 79h1M2 80h1M7 80h1M14 80h1M22 80h1M38 80h1M0 81h1M10 81h1M13 81h1M17 81h1M19 81h1M22 81h1M28 81h1M45 81h1M56 81h1M35 82h1M1 83h1M6 83h1M9 83h1M25 83h1M1 84h1M26 84h1M38 84h1M53 84h1M12 85h1M14 85h1M18 85h1M29 85h1M55 85h1M0 86h1M8 86h1M26 86h1M30 86h1M47 87h1M6 88h1M15 88h1M23 88h1M25 88h1M46 88h2M1 89h1M34 89h1M42 89h1M47 89h1M49 89h1M9 90h1M31 90h1M36 90h1M40 90h2M30 91h1M35 91h3M45 91h1M49 91h1M52 91h3M2 92h1M5 92h1M8 92h1M22 92h1M44 92h2M47 92h1M4 93h1M16 93h1M18 93h2M31 93h1M37 93h1M42 93h1M45 93h1M48 93h1M57 93h1M0 94h1M7 94h2M19 94h1M21 94h1M24 94h1M49 94h1M0 95h1M4 95h1M13 95h1M16 95h1M29 95h1M41 95h1M44 95h1M10 96h1M13 96h1M15 96h1M31 96h2M34 96h1M46 96h1M53 96h1M55 96h1M15 97h1M17 97h1M29 97h1M35 97h1M37 97h1M41 97h1M46 97h1M20 98h1M24 98h1M49 98h1M53 98h1M1 99h1M3 99h2M17 99h1M52 99h1M55 99h1M26 100h1M47 100h1M56 100h1M39 101h1M46 101h1M56 101h1M0 102h1M27 102h1M40 102h1M42 102h1M44 102h1M51 102h1M55 102h1M9 103h1M12 103h2M22 103h2M27 103h1M32 103h1M34 103h1M7 104h1M25 104h1M27 104h2M40 104h1M51 104h1M54 104h1M23 105h1M36 105h1M57 105h1M7 106h2M15 106h1M20 106h1M23 106h1M27 106h1M32 106h2M42 106h1M54 106h1M56 106h1M15 107h1M25 107h1M40 107h1M49 107h1M55 107h1M1 108h1M4 108h1M21 108h1M24 108h1M31 108h1M35 108h1M48 108h1M53 108h1M1 109h1M8 109h1M12 109h2M15 109h1M29 109h1M6 110h1M12 110h1M30 110h1M38 110h2M42 110h1M4 111h1M12 111h1M18 111h1M26 111h1M33 111h1M51 111h1M14 112h1M20 112h1M28 112h1M32 112h1M47 112h1M55 112h1M1 113h1M7 113h1M17 113h1M21 113h2M46 113h1M48 113h1M1 114h1M6 114h1M16 114h1M33 114h1M42 114h2M54 114h1M56 114h1M1 115h1M5 115h1M10 115h1M14 115h1M36 115h1M40 115h2M47 115h1M49 115h1M56 115h1M3 116h1M12 116h1M15 116h1M18 116h1M22 116h1M26 116h1M32 116h1M44 116h1M6 117h1M11 117h1M15 117h1M21 117h1M25 117h2M35 117h2M40 117h1M45 117h2M50 117h1M57 117h1M11 118h1M13 118h1M24 118h1M28 118h1M31 118h2M38 118h2M41 118h1M50 118h1M2 119h1M6 119h1M11 119h1M17 119h1M23 119h2M31 119h1M33 119h1M6 120h1M9 120h1M12 120h2M23 120h1M38 120h1M44 120h1M48 120h1M14 121h2M25 121h1M31 121h1M41 121h1M44 121h1M46 121h1M49 121h1M21 122h1M27 122h2M49 122h1M0 123h1M15 123h1M26 123h1M28 123h1M36 123h1M43 123h1M45 123h1M1 124h2M13 124h1M17 124h1M19 124h1M25 124h1M28 124h1M36 124h1M41 124h1M53 124h1M56 124h2M1 125h1M5 125h1M12 125h1M14 125h2M44 125h1M52 125h1M0 126h3M16 126h1M31 126h1M34 126h1M36 126h2M42 126h1M54 126h1M3 127h1M7 127h2M24 127h1M26 127h1M36 127h1M38 127h1M40 127h2M9 128h1M12 128h1M14 128h1M19 128h1M21 128h1M25 128h1M29 128h1M37 128h1M49 128h1M53 128h1M1 129h1M4 129h1M9 129h1M15 129h1M18 129h1M55 129h1M57 129h1M5 130h2M45 130h1M4 131h1M24 131h1M32 131h3M40 131h1M51 131h1M57 131h1M5 132h1M12 132h3M17 132h1M23 132h1M29 132h1M40 132h1M54 132h1M3 133h1M7 133h1M16 133h1M20 133h1M28 133h1M32 133h1M55 133h1M4 134h1M14 134h1M23 134h1M29 134h1M33 134h1M37 134h1M51 134h1M22 135h1M31 135h1M47 135h1M56 135h1M1 136h1M6 136h2M12 136h1M24 136h1M26 136h1M28 136h1M31 136h2M36 136h1M39 136h1M43 136h1M49 136h1M55 136h1M1 137h1M24 137h1M33 137h1M49 137h1M57 137h1M4 138h1M10 138h2M18 138h1M39 138h1M45 138h1M51 138h2M1 139h1M24 139h2M3 140h1M13 140h1M16 140h1M22 140h1M24 140h1M30 140h2M34 140h1M36 140h2M45 140h1M49 140h1M52 140h1M7 141h3M12 141h1M23 141h1M27 141h1M33 141h1M40 141h1M54 141h1M56 141h1M25 142h2M40 142h1M42 142h1M44 142h1M52 142h1M57 142h1M5 143h1M19 143h1M21 143h2M29 143h1M31 143h1M35 143h1M48 143h2M51 143h1M7 144h2M25 144h1M28 144h1M38 144h1M53 144h1M56 144h1M3 145h1M9 145h1M11 145h1M27 145h2M35 145h1M4 146h1M7 146h1M21 146h1M23 146h3M32 146h3M39 146h1M41 146h1M43 146h1M48 146h1M51 146h1M54 146h1M57 146h1M4 147h1M15 147h1M29 147h1M42 147h1M54 147h1M7 148h1M9 148h1M16 148h1M36 148h2M7 149h1M9 149h1M16 149h1M25 149h2M32 149h1M36 149h1M44 149h1M57 149h1M2 150h1M4 150h1M8 150h1M22 150h1M43 150h1M46 150h1M51 150h1M55 150h1M5 151h1M9 151h1M11 151h1M19 151h1M29 151h1M31 151h1M54 151h2M3 152h1M6 152h1M10 152h1M25 152h1M27 152h1M31 152h1M40 152h1M47 152h1M50 152h1M12 153h1M32 153h1M34 153h1M45 153h1M48 153h1M50 153h1M55 153h1M4 154h2M14 154h1M29 154h1M37 154h2M43 154h1M56 154h1M0 155h1M5 155h1M20 155h1M35 155h1M41 155h1M44 155h1M47 155h1M49 155h1M15 156h1M18 156h1M28 156h2M33 156h1M46 156h1M50 156h1M53 156h1M6 157h1M8 157h1M23 157h1M26 157h1M28 157h1M47 157h1M1 158h1M8 158h1M14 158h1M22 158h1M35 158h1M51 158h1M55 158h1M5 159h1M13 159h1M23 159h2M28 159h1M45 159h2M49 159h1M1 160h1M11 160h2M15 160h1M25 160h1M30 160h1M32 160h2M38 160h1M42 160h1M45 160h1M48 160h1M51 160h1M16 161h1M20 161h1M23 161h2M29 161h1M53 161h1M56 161h1M4 162h1M25 162h1M31 162h2M37 162h1M43 162h1M48 162h2M53 162h1M1 163h1M4 163h1M11 163h1M13 163h1M15 163h1M25 163h1M31 163h1M54 163h1M0 164h2M13 164h1M21 164h1M23 164h1M29 164h1M45 164h1M47 164h1M51 164h1M0 165h1M14 165h1M18 165h2M22 165h2M30 165h1M40 165h1M50 165h1M10 166h1M22 166h1M29 166h1M43 166h1M54 166h1M14 167h1M16 167h2M19 167h1M22 167h1M24 167h1M31 167h1M41 167h2M48 167h1M50 167h1M53 167h1M3 168h1M7 168h1M24 168h2M30 168h1M49 168h1M54 168h1M8 169h1M14 169h1M19 169h1M21 169h1M24 169h1M53 169h1M57 169h1M0 170h1M2 170h2M10 170h2M13 170h1M32 170h1M36 170h1M41 170h1M43 170h2M49 170h1M8 171h1M10 171h1M18 171h1M7 172h1M11 172h1M16 172h2M25 172h2M36 172h1M0 173h1M6 173h1M10 173h1M18 173h1M20 173h1M28 173h1M31 173h1M33 173h1M36 173h1M43 173h1M52 173h1M57 173h1M5 174h1M7 174h1M9 174h1M56 174h1M1 175h3M5 175h3M9 175h1M17 175h2M25 175h1M32 175h1M42 175h1M53 175h1M55 175h1M6 176h1M11 176h1M24 176h1M32 176h1M36 176h1M50 176h1M1 177h1M5 177h1M12 177h1M17 177h1M35 177h1M44 177h1M1 178h1M13 178h1M45 178h1M48 178h1M54 178h1M3 179h1M8 179h1M13 179h1M17 179h1M20 179h1M36 179h1M39 179h1M41 179h1M46 179h1M49 179h1M1 180h1M21 180h1M26 180h1M34 180h1M53 180h1M55 180h1M37 182h1M40 182h2M4 183h2M8 183h1M10 183h1M21 183h1M30 183h1M46 183h1M52 183h1M56 183h2M12 184h1M37 184h1M44 184h1M54 184h1M56 184h2M2 185h1M26 185h1M29 185h1M50 185h2M56 185h1M5 186h1M12 186h1M16 186h1M18 186h1M29 186h1M39 186h2M0 187h1M5 187h1M10 187h1M15 187h1M18 187h3M30 187h1M36 187h1M43 187h4M0 188h1M48 188h1M53 188h1M4 189h1M11 189h1M13 189h1M31 189h1M34 189h1M36 189h1M21 190h2M35 190h1M7 191h1M20 191h2M26 191h1M30 191h1M35 191h2M53 191h1M57 191h1M4 192h1M7 192h1M21 192h1M24 192h3M32 192h1M53 192h1M55 192h1M0 193h1M2 193h1M6 193h1M41 193h1M1 194h1M5 194h2M16 194h1M20 194h2M31 194h1M33 194h1M35 194h1M41 194h1M47 194h1M57 194h1M0 195h1M2 195h1M4 195h1M17 195h1M19 195h1M21 195h1M25 195h1M27 195h1M38 195h1M42 195h1M46 195h1M48 195h2M1 196h1M6 196h1M11 196h2M16 196h1M19 196h2M33 196h1M37 196h2M45 196h1M50 196h1M52 196h1M7 197h1M10 197h1M17 197h1M23 197h1M25 197h3M29 197h1M31 197h1M33 197h1M42 197h1M44 197h1M49 197h1M55 197h1M0 198h1M2 198h2M14 198h3M38 198h1M42 198h1M56 198h1M4 199h1M8 199h2M26 199h1M28 199h1M36 199h2M39 199h1M42 199h1M44 199h1M48 199h1M54 199h1M57 199h1M2 200h1M5 200h1M9 200h1M13 200h1M25 200h1M28 200h1M32 200h1M2 201h1M10 201h2M15 201h1M18 201h1M20 201h1M24 201h1M31 201h1M33 201h1M36 201h1M42 201h1M46 201h1M51 201h1M53 201h1M29 202h1M32 202h2M41 202h1M50 202h1M0 203h1M4 203h1M9 203h1M16 203h1M36 203h1M50 203h1M16 204h2M29 204h2M56 204h1M15 205h1M23 205h1M31 205h1M34 205h1M38 205h1M27 206h1M40 206h1M0 207h1M7 207h1M10 207h1M12 207h2M25 207h1M34 207h1M40 207h1M44 207h1M47 207h1M54 207h1M15 208h1M17 208h1M28 208h1M34 208h1M36 208h1M51 208h1M0 209h1M3 209h1M9 209h1M18 209h1M28 209h1M32 209h2M36 209h1M45 209h1M55 209h2M7 210h1M27 210h1M31 210h1M42 210h1M51 210h1M57 210h1M0 211h1M2 211h2M9 211h1M12 211h1M16 211h2M22 211h1M31 211h1M41 211h1M48 211h1M51 211h1M57 211h1M23 212h1M25 212h1M27 212h1M38 212h1M46 212h1M14 213h1M16 213h1M30 213h1M48 213h3M8 214h1M26 214h1M33 214h1M37 214h1M51 214h2M1 215h1M36 215h1M40 215h1M4 216h1M13 216h1M29 216h1M31 216h1M34 216h1M36 216h1M41 216h1M43 216h2M48 216h1M50 216h2M55 216h1M57 216h1M2 217h1M16 217h1M22 217h1M33 217h1M52 217h1M7 218h1M9 218h2M20 218h2M35 218h1M38 218h1M56 218h1M6 219h1M19 219h1M30 219h1M32 219h1M39 219h1M41 219h1M49 219h1M6 220h1M18 220h1M22 220h1M25 220h2M53 220h1M1 221h1M17 221h2M29 221h2M32 221h1M45 221h1M51 221h1M54 221h1M13 222h1M20 222h1M24 222h2M33 222h1M39 222h1M41 222h1M0 223h1M7 223h1M9 223h1M16 223h1M41 223h1M51 223h1M26 224h1M28 224h1M37 224h1M42 224h1M44 224h2M54 224h1M3 225h1M9 225h1M12 225h1M14 225h1M20 225h1M36 225h2M39 225h1M43 225h1M48 225h1M51 225h2M27 226h1M35 226h1M40 226h1M3 227h1M5 227h1M10 227h1M14 227h1M23 227h1M25 227h1M47 227h1M56 227h1M4 228h3M14 228h2M34 228h3M5 229h1M19 229h2M24 229h1M38 229h2M52 229h1M1 230h3M17 230h1M38 230h1M40 230h1M49 230h1M54 230h1M1 231h1M5 231h1M7 231h2M13 231h1M17 231h1M28 231h2M42 231h1M50 231h1M7 232h2M14 232h1M35 232h1M48 232h1M53 232h1M57 232h1M4 233h1M8 233h1M12 233h1M17 233h2M24 233h1M16 234h1M33 234h1M35 234h1M39 234h1M43 234h2M20 235h2M47 235h1M50 235h1M57 235h1M25 236h1M41 236h1M4 237h1M11 237h1M22 237h2M25 237h1M27 237h1M35 237h1M45 237h1M54 237h1M3 238h2M17 238h1M20 238h1M24 238h1M28 238h1M38 238h1M48 238h1M54 238h2M1 239h1M1 240h1M19 240h1M24 240h1M27 240h1M35 240h1M45 240h1M49 240h1M9 241h2M24 241h1M30 241h1M39 241h1M49 241h1M51 241h1M53 241h1M56 241h1M3 242h1M6 242h1M27 242h1M49 242h1M3 243h1M20 243h1M28 243h1M50 243h2M8 244h1M15 244h3M19 244h1M25 244h1M27 244h2M46 244h1M0 245h1M2 245h3M21 245h2M27 245h1M35 245h1M42 245h1M44 245h1M56 245h1M0 246h2M3 246h2M6 246h1M8 246h1M15 246h1M34 246h1M45 246h2M50 246h1M53 246h1M55 246h1M4 247h1M48 247h1M1 248h2M13 248h2M23 248h1M37 248h2M48 248h2M38 249h1M47 249h1M4 250h1M12 250h2M16 250h1M19 250h1M36 250h1M45 250h1M51 250h3M55 250h1M1 251h1M26 251h1M40 251h1M52 251h1M10 252h1M29 252h1M31 252h1M37 252h1M39 252h2M48 252h1M56 252h1M5 253h1M7 253h1M49 253h1M53 253h1M25 254h1M27 254h1M43 254h1M0 255h1M6 255h2M16 255h1M28 255h1M30 255h1M45 255h1M47 255h1M52 255h1M6 256h1M37 256h2M44 256h1M46 256h1M7 257h1M18 257h1M31 257h2M42 257h1M45 257h1M47 257h2M0 258h2M3 258h1M6 258h1M8 258h1M18 258h2M21 258h1M25 258h1M32 258h2M42 258h1M56 258h1M20 259h1M28 259h1M32 259h1M40 259h2M53 259h1M1 260h1M9 260h2M12 260h1M20 260h1M25 260h1M30 260h1M37 260h1M42 260h2M0 261h1M12 261h1M20 261h1M24 261h1M28 261h1M34 261h1M36 261h2M40 261h1M45 261h2M48 261h1M51 261h1M55 261h1M0 262h1M46 262h1M49 262h1M6 263h2M14 263h1M26 263h1M33 263h1M36 263h1M39 263h1M56 263h1M8 264h1M37 264h1M48 264h1M50 264h1M44 265h1M33 266h1M45 266h1M47 266h1M56 266h1M17 267h1M25 267h2M34 267h1M49 267h1M33 268h3M51 268h1M56 268h1M48 269h1M51 269h1M53 269h1M57 269h1M26 270h1M41 270h1M24 271h1M27 271h1M30 271h1M33 271h1M45 271h1M53 271h1M23 272h1M37 272h1M39 272h1M55 272h1M28 273h1M31 273h1M39 273h1M43 273h1M55 273h1M57 273h1M7 274h1M9 274h2M21 274h1M24 274h1M28 274h1M47 274h2M52 274h1M54 274h2M6 275h2M18 275h1M35 275h1M38 275h1M46 275h1M34 276h2M39 276h1M46 276h1M6 277h1M10 277h1M22 277h1M24 277h1M27 277h1M32 277h1M34 277h1M42 277h1M36 278h1M54 278h1M13 279h1M17 279h1M34 279h1M42 280h1M44 280h1M46 280h1M48 280h1M0 281h1M5 281h2M17 281h1M19 281h1M44 281h1M0 282h1M42 282h1M12 285h1M17 285h2M41 285h1M43 285h1M51 285h1M54 285h1M8 286h1M38 286h2M44 286h1M51 286h1M53 286h1M55 286h1M25 287h1M35 287h1M5 288h1M11 288h1M15 288h1M24 288h1M32 288h2M48 288h1M55 288h1M49 289h1M57 289h1M55 291h2M40 292h1M48 292h1M56 292h1M8 293h2M23 293h1M38 293h1M41 293h1M10 294h1M43 294h1M49 294h1M55 294h2M56 295h1M40 296h1M31 297h1M34 297h1M46 297h2M49 297h1M52 297h1M56 297h1M7 298h1M33 298h1M36 298h1M46 298h1M36 299h1M20 300h1M45 300h2M48 300h1M52 300h1M7 301h2M47 301h1M52 301h1M14 302h1M38 302h1M37 303h1M27 304h1M31 304h1M38 304h1M46 304h1M54 304h1M31 305h1M55 305h1M23 306h1M35 306h2M50 306h1M3 308h1M5 308h1M8 308h1M23 308h1M36 308h1M38 308h1M20 310h1M37 311h1M7 312h1M30 312h1M32 312h1M50 312h1M53 312h1M34 313h1M36 313h1M48 313h2M51 314h1M41 315h1M43 316h1M0 317h1M39 317h1M47 317h2M54 317h1M37 318h2M41 318h1M33 319h1M23 321h1M35 321h1M48 325h1"/><path stroke="#0018ff" d="M11 0h1M46 0h2M53 0h1M55 0h2M12 1h1M24 1h3M34 1h1M39 1h1M46 1h1M48 1h1M56 1h1M4 2h1M11 2h1M13 2h1M22 2h1M26 2h1M43 2h1M45 2h1M51 2h1M53 2h1M57 2h1M19 3h2M37 3h1M1 4h1M5 4h2M10 4h1M47 4h1M57 4h1M7 5h2M13 5h1M25 5h1M30 5h1M34 5h3M56 5h1M6 6h2M9 6h3M41 6h1M46 6h1M48 6h1M52 6h2M4 7h1M13 7h2M17 7h1M36 7h1M40 7h1M43 7h1M46 7h1M25 8h1M41 8h1M45 8h3M5 9h1M13 9h1M20 9h1M22 9h1M31 9h1M39 9h1M52 9h1M8 10h1M18 10h1M30 10h2M49 10h2M9 11h1M15 11h1M21 11h1M33 11h1M38 11h1M41 11h1M52 11h1M1 12h1M5 12h1M22 12h1M38 12h1M40 12h3M55 12h1M24 13h1M50 13h1M0 14h2M10 14h1M14 14h1M18 14h1M30 14h2M39 14h1M47 14h2M55 14h1M5 15h1M21 15h1M24 15h1M5 16h1M9 16h1M12 16h1M15 16h1M23 16h1M39 16h1M42 16h1M47 16h1M50 16h1M57 16h1M9 17h1M28 17h1M31 17h1M33 17h1M41 17h1M51 17h1M1 18h2M17 18h1M22 18h1M27 18h1M30 18h1M39 18h1M41 18h1M47 18h1M52 18h1M7 19h2M21 19h1M30 19h1M55 19h1M7 20h1M19 20h1M22 20h1M29 20h1M32 20h1M3 21h2M12 21h1M40 21h1M43 21h1M52 21h1M54 21h1M57 21h1M0 22h2M33 22h1M35 22h1M37 22h1M39 22h2M46 22h1M0 23h1M9 23h1M14 23h1M32 23h1M39 23h1M44 23h1M37 24h1M41 24h1M8 25h4M14 25h1M25 25h2M33 25h1M41 25h1M48 25h2M9 26h4M45 26h1M50 26h1M55 26h1M1 27h1M3 27h1M24 27h1M27 27h1M29 27h1M37 27h1M47 27h1M56 27h1M1 28h3M7 28h1M9 28h1M14 28h1M21 28h2M33 28h2M36 28h1M38 28h3M44 28h1M46 28h1M49 28h1M15 29h1M21 29h1M25 29h2M28 29h1M31 29h1M33 29h2M40 29h1M50 29h1M16 30h1M25 30h1M27 30h1M34 30h2M39 30h1M43 30h1M48 30h1M57 30h1M24 31h1M31 31h1M38 31h1M51 31h1M54 31h1M2 32h1M31 32h1M35 32h1M38 32h1M45 32h1M18 33h1M22 33h1M30 33h1M33 33h1M37 33h1M46 33h1M10 34h1M25 34h1M34 34h1M39 34h1M55 34h1M8 35h1M13 35h1M16 35h1M27 35h1M31 35h1M34 35h1M49 35h1M10 36h1M16 36h3M24 36h1M31 36h2M35 36h1M47 36h1M50 36h1M52 36h2M30 37h2M35 37h1M42 37h1M44 37h3M49 37h1M52 37h1M56 37h1M5 38h1M23 38h1M35 38h1M42 38h1M44 38h1M55 38h1M8 39h1M17 39h1M19 39h1M23 39h2M32 39h2M54 39h1M0 40h1M12 40h2M39 40h1M1 41h1M8 41h1M12 41h1M24 41h1M28 41h1M45 41h1M48 41h1M51 41h1M15 42h1M17 42h1M27 42h1M35 42h1M40 42h1M47 42h1M3 43h1M11 43h1M23 43h1M27 43h1M56 43h2M3 44h1M6 44h1M10 44h1M21 44h1M23 44h1M42 44h1M50 44h1M54 44h1M6 45h2M11 45h1M14 45h1M18 45h1M20 45h1M26 45h1M35 45h1M42 45h1M50 45h1M2 46h1M13 46h1M15 46h1M26 46h1M41 46h1M49 46h1M55 46h1M13 47h1M24 47h1M39 47h1M43 47h1M47 47h1M53 47h1M56 47h1M14 48h1M29 48h1M32 48h1M34 48h1M36 48h1M40 48h2M47 48h1M10 49h1M25 49h1M27 49h1M31 49h1M36 49h1M39 49h4M1 50h1M15 50h1M25 50h2M46 50h1M56 50h1M1 51h1M7 51h1M20 51h2M26 51h2M40 51h1M50 51h1M15 52h1M17 52h1M26 52h1M3 53h2M6 53h1M20 53h1M25 53h1M29 53h1M50 53h1M56 53h1M0 54h1M9 54h2M15 54h1M24 54h1M30 54h3M34 54h1M39 54h2M42 54h2M47 54h1M30 55h2M39 55h1M44 55h1M48 55h1M51 55h1M55 55h1M57 55h1M4 56h1M6 56h1M9 56h1M15 56h2M49 56h1M54 56h1M5 57h1M9 57h3M14 57h2M17 57h1M26 57h1M29 57h1M39 57h2M43 57h1M51 57h1M2 58h1M10 58h1M15 58h1M17 58h1M20 58h1M25 58h2M28 58h1M46 58h2M0 59h1M10 59h1M20 59h2M30 59h1M33 59h2M12 60h2M18 60h1M40 60h2M55 60h1M0 61h1M14 61h1M18 61h1M26 61h1M35 61h1M49 61h1M0 62h1M7 62h1M12 62h1M14 62h1M25 62h1M27 62h1M31 62h1M41 62h1M0 63h1M3 63h1M6 63h1M9 63h1M42 63h2M46 63h1M49 63h1M57 63h1M0 64h1M5 64h1M10 64h1M14 64h1M16 64h1M34 64h1M0 65h1M5 65h1M13 65h1M22 65h1M26 65h1M32 65h1M35 65h2M46 65h1M49 65h2M55 65h1M0 66h3M7 66h2M27 66h1M40 66h1M47 66h1M49 66h1M54 66h1M1 67h1M14 67h1M24 67h1M30 67h1M2 68h1M7 68h2M13 68h1M44 68h1M47 68h1M52 68h2M7 69h2M10 69h1M13 69h1M16 69h2M33 69h1M38 69h1M42 69h2M46 69h1M49 69h1M0 70h1M10 70h1M13 70h1M42 70h1M36 71h1M42 71h1M44 71h1M46 71h1M5 72h1M15 72h2M21 72h1M27 72h1M30 72h1M32 72h2M39 72h1M41 72h2M46 72h1M50 72h1M3 73h1M18 73h2M41 73h1M45 73h1M52 73h1M55 73h2M7 74h1M15 74h1M21 74h1M24 74h2M37 74h1M49 74h1M3 75h1M13 75h1M16 75h1M19 75h1M40 75h2M4 76h1M20 76h1M29 76h1M33 76h1M35 76h2M41 76h1M49 76h1M5 77h1M8 77h1M25 77h2M30 77h1M49 77h1M1 78h1M24 78h1M29 78h1M48 78h2M55 78h1M57 78h1M16 79h1M20 79h1M33 79h1M38 79h2M45 79h1M49 79h2M52 79h1M54 79h2M5 80h1M15 80h1M20 80h1M24 80h1M29 80h1M32 80h1M36 80h1M39 80h1M46 80h2M38 81h1M10 82h1M14 82h1M22 82h1M36 82h1M19 83h1M28 83h1M31 83h1M27 84h1M1 85h1M6 85h1M23 85h1M28 85h1M37 85h1M43 85h1M2 86h1M4 86h1M17 86h1M27 86h1M29 86h1M17 87h1M0 88h1M7 88h1M13 88h2M16 88h1M30 88h1M55 88h1M16 89h1M18 89h1M21 89h1M27 89h2M32 89h1M43 89h1M55 89h1M7 90h1M15 90h1M17 90h2M21 90h1M28 90h1M33 90h1M51 90h1M0 91h2M3 91h1M14 91h1M23 91h2M26 91h1M32 91h1M40 91h2M51 91h1M55 91h1M10 92h2M19 92h1M26 92h1M40 92h1M0 93h1M10 93h2M25 93h2M28 93h1M35 93h1M50 93h1M1 94h1M12 94h1M20 94h1M22 94h2M25 94h1M28 94h1M47 94h1M12 95h1M17 95h1M22 95h1M25 95h1M27 95h1M32 95h1M48 95h1M51 95h1M57 95h1M5 96h1M7 96h1M20 96h1M24 96h1M33 96h1M42 96h1M45 96h1M48 96h1M52 96h1M56 96h1M12 97h1M19 97h1M24 97h1M27 97h1M30 97h1M32 97h1M34 97h1M54 97h3M16 98h1M23 98h1M26 98h2M30 98h1M33 98h2M37 98h1M43 98h1M51 98h1M55 98h1M57 98h1M2 99h1M5 99h1M25 99h1M48 99h1M51 99h1M3 100h1M6 100h1M11 100h2M20 100h1M24 100h1M32 100h1M55 100h1M10 101h1M12 101h2M23 101h1M27 101h1M31 101h1M57 101h1M2 102h1M5 102h1M7 102h2M14 102h1M20 102h1M24 102h1M32 102h3M36 102h3M52 102h1M7 103h1M25 103h1M30 103h2M41 103h1M49 103h1M54 103h1M57 103h1M6 104h1M8 104h1M30 104h1M43 104h1M3 105h1M6 105h1M14 105h1M20 105h1M31 105h1M33 105h1M39 105h1M55 105h2M19 106h1M21 106h2M26 106h1M49 106h1M53 106h1M2 107h3M12 107h1M14 107h1M16 107h2M22 107h2M26 107h1M38 107h1M54 107h1M57 107h1M2 108h1M23 108h1M34 108h1M46 108h1M3 109h1M16 109h1M27 109h2M34 109h1M40 109h1M50 109h1M52 109h1M54 109h1M18 110h1M35 110h2M40 110h1M44 110h1M57 110h1M1 111h1M6 111h1M11 111h1M16 111h1M20 111h2M28 111h3M35 111h1M45 111h1M48 111h1M52 111h2M55 111h1M6 112h1M13 112h1M22 112h1M36 112h1M38 112h1M53 112h1M2 113h1M15 113h1M32 113h1M44 113h1M53 113h3M9 114h1M20 114h1M29 114h2M45 114h1M47 114h1M50 114h1M12 115h1M17 115h1M37 115h1M44 115h1M19 116h1M27 116h2M48 116h1M14 117h1M16 117h1M19 117h1M28 117h1M37 117h2M47 117h1M53 117h1M55 117h1M12 118h1M23 118h1M34 118h1M42 118h1M49 118h1M7 119h1M13 119h1M16 119h1M22 119h1M25 119h1M28 119h1M36 119h1M41 119h1M43 119h2M49 119h1M55 119h1M57 119h1M1 120h1M30 120h1M33 120h1M35 120h1M40 120h1M45 120h1M49 120h1M52 120h2M1 121h1M16 121h1M18 121h1M24 121h1M33 121h2M39 121h1M56 121h1M7 122h1M24 122h1M33 122h1M37 122h1M54 122h2M4 123h1M10 123h3M29 123h2M40 123h1M47 123h1M51 123h2M56 123h1M9 124h1M16 124h1M18 124h1M23 124h1M33 124h1M37 124h2M54 124h2M3 125h1M6 125h1M23 125h1M29 125h1M45 125h1M55 125h1M7 126h2M17 126h1M23 126h2M27 126h1M56 126h1M0 127h1M2 127h1M15 127h1M23 127h1M29 127h1M39 127h1M6 128h1M28 128h1M31 128h1M33 128h1M52 128h1M0 129h1M10 129h2M16 129h1M19 129h1M24 129h1M26 129h1M28 129h1M32 129h1M38 129h1M40 129h1M42 129h1M53 129h1M1 130h2M10 130h1M17 130h2M21 130h1M23 130h1M33 130h1M36 130h1M38 130h3M47 130h1M55 130h1M0 131h1M2 131h2M8 131h2M19 131h1M49 131h1M53 131h1M1 132h1M18 132h2M21 132h2M27 132h1M30 132h1M50 132h1M6 133h1M14 133h1M29 133h1M37 133h2M41 133h2M3 134h1M21 134h2M38 134h1M52 134h1M14 135h1M33 135h1M36 135h1M48 135h2M9 136h1M19 136h1M25 136h1M33 136h1M35 136h1M40 136h1M10 137h1M12 137h1M40 137h1M42 137h1M21 138h2M34 138h2M46 138h1M19 139h1M21 139h1M26 139h1M30 139h1M9 140h1M11 140h1M21 140h1M23 140h1M32 140h1M46 140h1M48 140h1M57 140h1M2 141h1M26 141h1M39 141h1M42 141h1M50 141h1M21 142h1M23 142h1M27 142h1M23 143h1M32 143h3M42 143h1M44 143h1M54 143h2M5 144h1M10 144h2M18 144h1M24 144h1M31 144h1M37 144h1M54 144h1M1 145h1M8 145h1M34 145h1M36 145h1M38 145h1M40 145h1M2 146h1M9 146h1M14 146h1M18 146h1M22 146h1M26 146h1M29 146h1M31 146h1M42 146h1M45 146h1M50 146h1M53 146h1M5 147h1M14 147h1M18 147h2M22 147h1M26 147h1M56 147h2M2 148h1M13 148h1M15 148h1M21 148h1M29 148h1M32 148h1M35 148h1M46 148h1M50 148h1M54 148h1M56 148h2M27 149h1M29 149h1M45 149h1M48 149h1M10 150h1M19 150h2M24 150h1M33 150h1M57 150h1M12 151h1M17 151h2M26 151h3M33 151h1M7 152h1M9 152h1M22 152h1M32 152h1M37 152h1M48 152h1M0 153h1M4 153h1M7 153h1M10 153h1M17 153h1M27 153h1M46 153h2M56 153h1M1 154h1M30 154h3M47 154h1M53 154h1M57 154h1M1 155h1M3 155h2M8 155h2M12 155h1M40 155h1M42 155h1M51 155h2M55 155h1M6 156h2M11 156h2M14 156h1M17 156h1M22 156h1M26 156h1M35 156h1M41 156h2M44 156h2M51 156h1M54 156h1M56 156h1M14 157h1M16 157h1M22 157h1M27 157h1M29 157h1M31 157h1M43 157h1M49 157h1M0 158h1M9 158h2M12 158h2M29 158h1M45 158h1M47 158h1M54 158h1M4 159h1M8 159h1M33 159h2M48 159h1M55 159h2M8 160h1M10 160h1M13 160h2M19 160h2M44 160h1M46 160h1M0 161h1M3 161h1M13 161h1M21 161h1M43 161h1M50 161h1M52 161h1M55 161h1M15 162h1M17 162h1M19 162h2M23 162h2M27 162h1M33 162h1M50 162h1M52 162h1M57 162h1M5 163h1M17 163h1M33 163h1M50 163h2M10 164h1M30 164h1M34 164h1M38 164h1M46 164h1M55 164h2M1 165h1M5 165h1M7 165h1M10 165h1M12 165h1M36 165h1M47 165h1M49 165h1M1 166h1M16 166h1M21 166h1M32 166h1M35 166h1M41 166h1M46 166h1M50 166h2M1 167h1M13 167h1M18 167h1M30 167h1M40 167h1M44 167h2M0 168h1M11 168h1M19 168h1M26 168h1M31 168h1M34 168h1M39 168h1M44 168h1M52 168h1M55 168h1M15 169h1M27 169h1M34 169h2M37 169h1M56 169h1M1 170h1M4 170h2M21 170h3M30 170h1M50 170h1M55 170h1M1 171h1M5 171h2M9 171h1M15 171h1M19 171h1M21 171h1M23 171h1M34 171h2M55 171h1M8 172h1M30 172h1M33 172h2M41 172h2M45 172h1M54 172h2M17 173h1M24 173h1M27 173h1M39 173h1M50 173h2M54 173h1M2 174h1M8 174h1M11 174h1M14 174h1M21 174h1M25 174h2M32 174h2M50 174h1M4 175h1M13 175h1M26 175h1M30 175h2M43 175h1M45 175h1M56 175h1M2 176h1M7 176h1M18 176h1M20 176h1M29 176h1M55 176h1M10 177h1M18 177h1M20 177h1M25 177h1M33 177h1M45 177h1M55 177h1M57 177h1M9 178h1M15 178h1M22 178h1M33 178h1M36 178h1M47 178h1M56 178h1M1 179h2M4 179h1M16 179h1M28 179h1M44 179h1M48 179h1M2 180h1M4 180h3M8 180h2M15 180h1M38 180h1M46 180h1M57 180h1M49 181h1M52 181h1M0 182h1M25 182h1M35 182h1M48 182h1M52 182h1M3 183h1M12 183h1M18 183h1M35 183h1M0 184h1M2 184h1M14 184h1M24 184h1M26 184h1M36 184h1M45 184h1M4 185h1M17 185h1M30 185h1M34 185h1M9 186h1M17 186h1M20 186h1M25 186h1M33 186h2M6 187h2M11 187h1M22 187h2M27 187h1M29 187h1M35 187h1M48 187h1M56 187h1M1 188h1M3 188h1M6 188h1M26 188h1M33 188h1M42 188h1M47 188h1M49 188h1M54 188h1M14 189h1M26 189h1M43 189h1M50 189h1M4 190h1M9 190h1M20 190h1M29 190h2M43 190h1M55 190h1M57 190h1M16 191h1M25 191h1M49 191h1M0 192h1M2 192h1M5 192h1M11 192h3M16 192h2M27 192h1M31 192h1M56 192h1M3 193h2M18 193h1M20 193h1M28 193h1M36 193h1M44 193h1M14 194h1M19 194h1M22 194h1M27 194h1M39 194h1M43 194h2M53 194h1M24 195h1M28 195h1M32 195h1M35 195h1M37 195h1M51 195h1M53 195h1M10 196h1M17 196h1M24 196h1M28 196h1M39 196h1M46 196h1M2 197h1M5 197h2M11 197h1M16 197h1M34 197h1M43 197h1M54 197h1M1 198h1M6 198h1M17 198h1M31 198h1M33 198h2M37 198h1M55 198h1M0 199h1M15 199h1M19 199h2M27 199h1M41 199h1M46 199h2M49 199h1M53 199h1M0 200h1M7 200h1M11 200h1M48 200h1M53 200h3M21 201h1M25 201h1M28 201h1M38 201h2M57 201h1M0 202h1M2 202h1M5 202h1M7 202h1M13 202h1M22 202h2M31 202h1M39 202h1M44 202h1M49 202h1M52 202h1M5 203h1M12 203h1M18 203h1M27 203h1M30 203h1M35 203h1M38 203h1M41 203h1M44 203h1M53 203h1M3 204h1M8 204h1M19 204h2M5 205h1M30 205h1M42 205h1M54 205h1M5 206h3M38 206h1M42 206h2M51 206h1M55 206h1M11 207h1M16 207h1M37 207h1M48 207h2M55 207h1M8 208h1M12 208h1M18 208h1M22 208h1M37 208h1M54 208h1M57 208h1M6 209h1M10 209h2M41 209h1M57 209h1M3 210h1M8 210h1M24 210h1M39 210h1M56 210h1M6 211h1M18 211h1M20 211h1M32 211h1M43 211h1M45 211h1M52 211h2M55 211h1M6 212h1M14 212h1M29 212h1M40 212h1M45 212h1M47 212h1M2 213h1M12 213h1M23 213h1M25 213h1M35 213h1M39 213h1M4 214h1M17 214h1M25 214h1M29 214h1M39 214h1M41 214h1M48 214h1M6 215h1M41 215h1M43 215h1M54 215h3M0 216h1M6 216h1M22 216h1M38 216h2M0 217h1M30 217h1M32 217h1M51 217h1M57 217h1M0 218h1M2 218h2M22 218h1M24 218h1M29 218h2M40 218h1M42 218h1M45 218h1M51 218h1M10 219h1M26 219h1M36 219h1M42 219h1M55 219h1M17 220h1M19 220h2M29 220h2M35 220h1M40 220h1M42 220h1M46 220h3M51 220h1M56 220h2M6 221h1M8 221h1M34 221h1M50 221h1M7 222h1M12 222h1M26 222h1M40 222h1M51 222h2M5 223h2M10 223h1M38 223h1M40 223h1M47 223h1M50 223h1M2 224h1M5 224h1M20 224h1M25 224h1M40 224h1M48 224h2M4 225h1M18 225h2M21 225h1M29 225h1M34 225h2M50 225h1M14 226h1M28 226h3M42 226h1M48 226h1M50 226h1M13 227h1M17 227h1M31 227h1M34 227h1M42 227h1M44 227h1M46 227h1M9 228h1M16 228h1M21 228h1M23 228h2M26 228h1M32 228h1M50 228h1M53 228h1M57 228h1M3 229h1M10 229h1M18 229h1M33 229h1M37 229h1M43 229h1M53 229h1M57 229h1M6 230h1M23 230h1M32 230h1M34 230h1M37 230h1M39 230h1M2 231h1M6 231h1M11 231h1M18 231h1M26 231h1M30 231h1M33 231h1M36 231h1M52 231h1M12 232h2M18 232h1M21 232h1M23 232h1M28 232h1M34 232h1M42 232h1M55 232h1M6 233h2M10 233h1M22 233h1M25 233h2M29 233h1M32 233h1M34 233h1M38 233h1M41 233h1M44 233h1M0 234h1M2 234h1M11 234h1M13 234h2M18 234h2M32 234h1M37 234h1M56 234h1M3 235h1M5 235h1M18 235h1M24 235h1M33 235h1M46 235h1M54 235h1M30 236h1M42 236h1M44 236h1M10 237h1M12 237h1M18 237h2M37 237h2M0 238h1M13 238h3M25 238h1M30 238h1M34 238h1M36 238h1M46 238h1M0 239h1M23 239h1M7 240h2M11 240h1M13 240h1M16 240h1M18 240h1M30 240h1M33 240h1M43 240h1M54 240h2M0 241h1M4 241h1M7 241h2M14 241h1M19 241h2M26 241h1M31 241h1M36 241h2M54 241h1M21 242h1M26 242h1M28 242h1M32 242h1M35 242h1M45 242h1M1 243h2M8 243h1M26 243h1M31 243h1M35 243h1M41 243h1M43 243h1M48 243h1M12 244h1M18 244h1M24 244h1M32 244h1M37 244h3M42 244h1M47 244h1M50 244h1M11 245h1M17 245h1M19 245h2M49 245h1M52 245h1M54 245h1M57 245h1M16 246h1M27 246h2M39 246h1M41 246h1M44 246h1M0 247h1M3 247h1M47 247h1M11 248h2M19 248h1M41 248h1M23 249h1M30 249h3M34 249h1M15 250h1M24 250h1M27 250h1M31 250h1M43 250h2M47 250h3M7 251h1M20 251h1M22 251h1M31 251h1M46 251h1M53 251h1M5 252h1M8 252h1M11 252h1M24 252h1M46 252h1M54 252h2M4 253h1M13 253h1M23 253h1M26 253h1M40 253h1M51 253h1M55 253h1M4 254h1M6 254h1M11 254h1M37 254h1M39 254h1M46 254h1M48 254h2M4 255h1M24 255h1M27 255h1M43 255h1M46 255h1M9 256h1M24 256h1M35 256h1M45 256h1M47 256h1M4 257h2M10 257h2M55 257h1M57 257h1M4 258h1M7 258h1M12 258h1M14 258h1M49 258h1M6 259h1M14 259h2M31 259h1M34 259h2M38 259h1M54 259h1M11 260h1M24 260h1M41 260h1M47 260h1M55 260h1M57 260h1M13 261h1M21 261h1M27 261h1M29 261h1M41 261h2M53 261h2M5 262h1M10 262h1M34 262h1M52 262h3M11 263h1M20 263h1M23 263h1M43 263h1M54 263h1M0 264h1M7 264h1M12 264h1M32 264h1M45 264h1M47 265h1M50 265h1M54 265h1M14 266h1M16 266h1M23 266h1M30 266h1M3 267h1M20 267h1M50 267h1M55 267h1M5 268h1M11 268h1M13 268h1M19 268h1M37 268h2M9 269h1M42 269h1M44 269h1M15 270h1M19 270h1M23 270h1M25 270h1M27 270h1M5 271h1M12 271h1M14 271h2M17 271h1M20 271h1M25 271h1M28 271h1M37 271h1M43 271h1M47 271h1M16 272h1M22 272h1M56 272h1M8 273h1M25 273h1M30 273h1M33 273h1M42 273h1M45 273h1M47 273h1M52 273h2M5 274h2M11 274h2M19 274h1M32 274h3M37 274h1M39 274h2M11 275h1M32 275h1M36 275h2M53 275h1M19 276h1M42 276h1M49 276h1M3 277h1M31 277h1M39 277h1M43 277h1M47 277h1M51 277h1M54 277h1M1 278h1M24 278h1M28 278h2M35 278h1M37 278h3M48 278h2M53 278h1M8 279h1M14 279h1M31 279h3M36 279h1M49 279h1M53 279h2M8 280h1M32 280h1M36 280h1M39 280h1M47 280h1M4 281h1M7 281h1M9 281h1M14 281h1M26 281h2M31 281h2M34 281h1M38 281h1M11 282h1M46 282h2M10 283h1M29 283h1M53 283h1M31 284h1M41 284h1M57 284h1M1 285h1M10 285h1M16 285h1M20 285h1M24 285h1M35 285h1M38 285h1M42 285h1M44 285h1M0 286h2M4 286h1M9 286h1M12 286h1M18 286h3M26 286h1M33 286h2M43 286h1M45 286h1M57 286h1M15 287h2M34 287h1M36 287h2M52 287h1M1 288h1M8 288h1M13 288h1M21 288h1M38 288h1M49 288h1M56 288h1M19 289h1M23 289h2M30 289h1M37 289h1M8 290h1M29 290h1M52 290h1M32 291h1M46 291h1M10 292h1M16 292h1M28 292h1M35 292h1M42 292h1M49 292h1M51 292h1M12 293h1M35 293h1M45 293h1M1 294h1M11 294h1M13 294h1M19 294h2M22 294h1M30 294h1M35 294h1M39 294h1M46 294h1M48 294h1M35 296h1M41 296h2M48 296h2M11 297h1M17 297h1M30 297h1M38 297h1M42 297h1M57 297h1M12 298h1M15 298h1M22 298h1M35 298h1M37 298h1M41 298h1M45 298h1M48 298h2M52 298h1M14 299h1M43 299h1M47 299h3M52 299h1M24 300h1M27 300h1M31 300h3M39 300h1M41 300h1M50 300h1M0 301h1M5 301h2M43 301h1M38 303h1M46 303h1M0 304h1M24 304h1M28 304h2M37 304h1M42 304h2M51 304h1M55 304h1M44 305h1M51 305h1M37 306h1M41 306h1M51 306h1M53 306h1M50 307h1M4 308h1M13 308h1M26 308h2M42 308h1M46 308h1M21 310h2M39 310h1M41 310h1M38 311h1M6 312h1M8 312h1M29 312h1M37 312h1M48 312h2M12 314h1M54 314h1M39 316h1M46 316h1M7 317h2M22 317h1M27 317h3M32 317h1M27 318h1M40 318h1M46 318h1M48 318h1M52 318h1M39 319h1M41 319h1M47 319h1M23 320h1M45 323h1M24 324h1M47 325h1"/><path stroke="#002cff" d="M7 0h1M15 0h1M34 0h1M37 0h1M2 1h1M18 1h1M22 1h1M32 1h1M36 1h1M50 1h1M0 2h1M3 2h1M16 2h1M21 2h1M24 2h1M31 2h1M33 2h1M52 2h1M2 3h1M12 3h1M14 3h1M27 3h2M0 4h1M11 4h1M24 4h5M33 4h1M38 4h1M42 4h1M48 4h1M54 4h1M56 4h1M1 5h1M9 5h1M12 5h1M18 5h1M22 5h1M41 5h1M43 5h1M12 6h1M22 6h1M26 6h1M36 6h1M39 6h1M55 6h1M2 7h1M5 7h1M11 7h1M19 7h2M31 7h1M45 7h1M8 8h1M10 8h1M15 8h1M17 8h1M19 8h1M21 8h1M50 8h1M0 9h1M3 9h2M10 9h2M19 9h1M21 9h1M26 9h1M28 9h3M34 9h2M38 9h1M44 9h1M3 10h1M13 10h2M34 10h1M38 10h1M41 10h2M46 10h1M48 10h1M52 10h1M57 10h1M6 11h2M11 11h1M17 11h1M43 11h1M49 11h1M53 11h1M9 12h1M15 12h2M21 12h1M43 12h1M56 12h1M18 13h1M37 13h1M52 13h1M12 14h1M17 14h1M36 14h1M51 14h1M53 14h1M1 15h1M25 15h1M27 15h1M56 15h1M37 16h1M40 16h2M6 17h2M13 17h1M24 17h1M30 17h1M53 17h1M40 18h1M51 18h1M56 18h1M1 19h1M19 19h1M27 19h1M48 19h1M50 19h1M52 19h2M56 19h2M0 20h1M2 20h1M38 20h1M50 20h1M52 20h1M54 20h1M27 21h1M45 21h1M49 21h1M56 21h1M3 22h1M9 22h1M12 22h1M16 22h1M19 22h1M22 22h1M45 22h1M48 22h1M11 23h1M28 23h1M54 23h1M7 24h1M33 24h1M39 24h2M42 24h1M15 25h1M19 25h2M23 25h1M47 25h1M1 26h1M26 26h1M31 26h1M35 26h1M37 26h1M49 26h1M13 27h1M16 27h1M28 27h1M43 27h1M46 27h1M48 27h1M0 28h1M15 28h1M20 28h1M24 28h2M41 28h1M45 28h1M54 28h1M4 30h1M8 30h1M30 30h1M5 31h1M17 31h2M22 31h1M46 31h1M49 31h1M52 31h1M4 32h1M17 32h1M21 32h1M34 32h1M36 32h1M39 32h1M44 32h1M0 33h1M9 33h1M14 33h1M21 33h1M35 33h2M39 33h1M41 33h1M2 34h1M5 34h2M11 34h1M19 34h2M29 34h1M33 34h1M37 34h1M41 34h1M53 34h2M23 35h1M25 35h1M51 35h1M55 35h1M9 36h1M27 36h1M29 36h1M34 36h1M42 36h1M44 36h2M4 37h1M15 37h2M25 37h1M48 37h1M1 38h1M9 38h1M11 38h2M22 38h1M27 38h2M31 38h1M41 38h1M51 38h1M53 38h1M56 38h1M35 39h1M53 39h1M50 40h1M3 41h1M6 41h2M23 41h1M26 41h1M29 41h1M32 41h1M34 41h1M36 41h1M49 41h1M0 42h1M6 42h2M22 42h1M34 42h1M36 42h1M44 42h2M51 42h1M31 43h1M45 43h2M51 43h2M1 44h1M5 44h1M7 44h1M26 44h1M33 44h2M39 44h1M41 44h1M47 44h1M9 45h2M54 45h1M1 46h1M5 46h1M11 46h1M16 46h1M30 46h1M36 46h1M43 46h1M51 46h1M0 47h1M17 47h1M25 47h2M38 47h1M50 47h1M3 48h1M7 48h1M22 48h1M25 48h1M35 48h1M50 48h2M12 49h1M17 49h1M20 49h1M37 49h1M46 49h1M52 49h1M10 50h1M18 50h1M21 50h1M23 50h1M35 50h1M38 50h1M42 50h1M44 50h2M53 50h2M0 51h1M2 51h1M28 51h1M53 51h1M55 51h1M9 52h1M12 52h1M16 52h1M21 52h1M35 52h2M38 52h1M42 52h1M46 52h1M55 52h1M26 53h1M44 53h2M55 53h1M2 54h1M4 54h1M14 54h1M16 54h1M51 54h2M6 55h1M33 55h1M41 55h1M19 56h1M26 56h2M33 56h1M16 57h1M18 57h1M20 57h1M34 57h1M44 57h1M46 57h2M53 57h1M8 58h1M13 58h1M19 58h1M27 58h1M33 58h1M37 58h1M43 58h1M49 58h1M8 59h1M12 59h1M17 59h1M31 59h1M35 59h1M38 59h1M41 59h1M49 59h1M4 61h2M15 61h1M23 61h1M25 61h1M33 61h2M47 61h1M51 61h1M53 61h1M57 61h1M1 62h1M6 62h1M8 62h1M35 62h1M43 62h1M51 62h1M53 62h1M22 63h1M27 63h1M38 63h1M44 63h1M56 63h1M19 64h1M35 64h1M2 65h1M9 65h1M41 65h1M26 66h1M28 66h1M31 66h1M35 66h1M39 66h1M46 66h1M48 66h1M0 67h1M2 67h2M5 67h1M7 67h1M18 67h2M25 67h1M31 67h1M33 67h1M40 67h1M43 67h1M45 67h1M54 67h1M4 68h2M11 68h1M18 68h1M21 68h1M23 68h1M31 68h1M35 68h1M1 69h2M11 69h1M30 69h1M32 69h1M40 69h1M45 69h1M47 69h1M57 69h1M1 70h1M5 70h1M12 70h1M24 70h1M30 70h1M41 70h1M46 70h1M50 70h1M56 70h1M5 71h1M17 71h3M26 71h1M28 71h1M32 71h1M34 71h1M43 71h1M2 72h1M10 72h1M45 72h1M54 72h1M6 73h1M14 73h1M21 73h1M26 73h1M29 73h1M31 73h1M34 73h1M36 73h2M42 73h1M44 73h1M5 74h2M13 74h1M22 74h1M27 74h2M35 74h1M38 74h2M47 74h1M1 75h1M4 75h1M20 75h1M34 75h1M43 75h1M47 75h2M50 75h1M55 75h1M5 76h1M21 76h1M39 76h1M2 77h1M6 77h2M10 77h1M15 77h1M37 77h1M39 77h2M51 77h2M21 78h1M35 78h1M54 78h1M9 80h1M12 80h1M43 80h1M50 80h1M55 80h2M18 81h1M46 81h2M4 82h2M8 82h2M17 82h1M19 82h2M24 82h1M31 82h1M38 82h2M48 82h2M18 83h1M23 83h1M26 83h1M30 83h1M45 83h1M6 84h2M12 84h1M40 84h2M51 84h1M0 85h1M3 85h1M11 85h1M15 85h1M21 85h1M36 85h1M38 85h1M45 85h1M51 85h1M53 85h1M56 85h1M9 86h1M16 86h1M28 86h1M34 86h1M37 86h1M41 86h1M46 86h1M53 86h1M7 87h1M23 87h1M45 87h1M48 87h1M55 87h1M10 88h2M33 88h1M43 88h1M56 88h1M2 89h1M17 89h1M30 89h1M54 89h1M56 89h2M8 90h1M23 90h1M25 90h1M27 90h1M34 90h2M54 90h1M4 91h1M13 91h1M15 91h1M29 91h1M44 91h1M9 92h1M18 92h1M20 92h1M27 92h1M32 92h1M38 92h1M46 92h1M49 92h1M57 92h1M8 93h2M15 93h1M24 93h1M30 93h1M44 93h1M52 93h1M3 94h1M5 94h1M10 94h1M16 94h1M33 94h1M43 94h1M50 94h1M57 94h1M8 95h2M26 95h1M28 95h1M30 95h1M39 95h1M42 95h1M45 95h2M4 96h1M16 96h1M30 96h1M37 96h3M47 96h1M7 97h1M13 97h2M20 97h1M33 97h1M43 97h1M51 97h2M3 98h1M22 98h1M41 98h1M52 98h1M16 99h1M18 99h1M20 99h1M26 99h1M32 99h1M42 99h1M47 99h1M28 100h1M53 100h1M57 100h1M2 101h1M8 101h2M35 101h1M55 101h1M3 102h2M6 102h1M9 102h1M11 102h1M13 102h1M16 102h1M19 102h1M21 102h1M30 102h1M0 103h1M6 103h1M24 103h1M35 103h2M40 103h1M45 103h1M47 103h1M1 104h1M3 104h2M15 104h1M17 104h1M31 104h1M37 104h1M41 104h1M44 104h1M46 104h1M57 104h1M1 105h1M4 105h1M13 105h1M18 105h1M24 105h1M27 105h1M32 105h1M40 105h1M52 105h1M2 106h1M14 106h1M18 107h1M37 107h1M0 108h1M6 108h1M12 108h1M16 108h1M37 108h1M39 108h1M54 108h2M6 109h1M25 109h2M32 109h1M48 109h2M51 109h1M3 110h1M5 110h1M15 110h1M26 110h1M29 110h1M43 110h1M3 111h1M8 111h1M25 111h1M31 111h2M38 111h1M41 111h1M47 111h1M56 111h1M3 112h1M19 112h1M30 112h1M35 112h1M42 112h1M51 112h1M56 112h1M9 113h1M14 113h1M18 113h2M34 113h2M38 113h1M43 113h1M52 113h1M56 113h1M10 114h1M17 114h1M31 114h1M38 114h1M48 114h1M16 115h1M28 115h2M32 115h2M42 115h2M52 115h1M13 116h1M25 116h1M36 116h1M39 116h1M49 116h1M52 116h1M8 117h1M29 117h1M32 117h1M54 117h1M2 118h1M17 118h1M45 118h1M51 118h1M0 119h1M15 119h1M29 119h1M34 119h1M15 120h2M20 120h1M32 120h1M39 120h1M46 120h1M7 121h1M9 121h1M17 121h1M19 121h1M28 121h1M40 121h1M52 121h1M54 121h1M57 121h1M13 122h1M17 122h1M22 122h1M29 122h1M38 122h1M50 122h1M56 122h1M1 123h1M3 123h1M6 123h1M9 123h1M22 123h1M3 124h1M27 124h1M29 124h1M31 124h1M42 124h1M45 124h2M7 125h2M33 125h3M54 125h1M10 126h2M30 126h1M39 126h1M43 126h1M52 126h1M17 127h1M25 127h1M28 127h1M55 127h1M7 128h1M11 128h1M2 129h1M21 129h1M30 129h1M43 129h1M52 129h1M0 130h1M3 130h2M7 130h1M15 130h1M35 130h1M42 130h1M48 130h1M54 130h1M14 131h1M16 131h1M18 131h1M21 131h1M23 131h1M36 131h1M48 131h1M55 131h2M3 132h2M9 132h1M26 132h1M36 132h1M47 132h1M52 132h2M2 133h1M9 133h1M19 133h1M30 133h2M36 133h1M49 133h1M52 133h1M57 133h1M2 134h1M6 134h1M26 134h1M32 134h1M53 134h1M57 134h1M9 135h1M17 135h1M24 135h1M29 135h2M32 135h1M38 135h1M51 135h1M29 136h1M34 136h1M44 136h1M2 137h1M4 137h1M9 137h1M14 137h1M16 137h1M21 137h3M36 137h1M47 137h2M50 137h1M55 137h1M2 138h1M31 138h1M47 138h1M7 139h1M9 139h2M18 139h1M20 139h1M23 139h1M27 139h1M51 139h1M10 140h1M25 140h1M29 140h1M44 140h1M51 140h1M0 141h1M3 141h1M13 141h2M28 141h2M32 141h1M38 141h1M41 141h1M48 141h2M4 142h2M9 142h1M16 142h1M32 142h1M36 142h1M39 142h1M41 142h1M45 142h1M50 142h1M0 143h2M15 143h1M43 143h1M1 144h1M4 144h1M9 144h1M13 144h3M23 144h1M27 144h1M39 144h2M48 144h2M5 145h2M19 145h2M32 145h1M49 145h1M53 145h1M5 146h1M17 146h1M40 146h1M52 146h1M2 147h1M21 147h1M27 147h1M43 147h1M19 148h1M47 148h1M0 149h1M28 149h1M31 149h1M34 149h1M37 149h1M39 149h1M52 149h1M3 150h1M15 150h1M18 150h1M23 150h1M36 150h1M41 150h1M3 151h1M15 151h1M34 151h1M51 151h3M0 152h1M13 152h2M17 152h1M42 152h1M49 152h1M1 153h1M5 153h1M9 153h1M14 153h3M19 153h1M25 153h1M41 153h1M52 153h3M3 154h1M10 154h1M15 154h2M36 154h1M40 154h1M49 154h1M54 154h1M11 155h1M13 155h2M26 155h1M32 155h1M48 155h1M56 155h1M2 156h1M4 156h2M25 156h1M32 156h1M37 156h1M39 156h1M47 156h1M52 156h1M57 156h1M3 157h1M5 157h1M11 157h1M20 157h1M32 157h1M34 157h1M40 157h1M42 157h1M48 157h1M50 157h1M53 157h1M3 158h2M11 158h1M20 158h1M27 158h1M42 158h1M48 158h1M54 159h1M0 160h1M9 160h1M16 160h1M18 160h1M31 160h1M34 160h1M40 160h1M43 160h1M50 160h1M28 161h1M37 161h1M41 161h1M44 161h1M49 161h1M9 162h1M16 162h1M18 162h1M34 162h1M38 162h1M41 162h1M46 162h1M3 163h1M18 163h1M24 163h1M26 163h1M30 163h1M37 163h1M39 163h1M52 163h2M55 163h1M4 164h3M26 164h3M57 164h1M8 165h1M13 165h1M16 165h1M21 165h1M41 165h1M45 165h1M48 165h1M52 165h1M57 165h1M11 166h1M18 166h1M25 166h3M34 166h1M42 166h1M47 166h1M52 166h1M15 167h1M20 167h2M49 167h1M55 167h1M1 168h1M12 168h1M17 168h1M20 168h1M28 168h1M40 168h1M47 168h1M51 168h1M2 169h1M5 169h1M17 169h1M22 169h1M39 169h1M42 169h1M48 169h1M52 169h1M7 170h1M20 170h1M27 171h1M42 171h1M44 171h3M10 172h1M20 172h1M50 172h1M57 172h1M1 173h1M7 173h3M15 173h1M21 173h1M37 173h1M40 173h1M46 173h1M6 174h1M10 174h1M30 174h1M45 174h1M47 174h1M0 175h1M21 175h1M24 175h1M29 175h1M39 175h1M49 175h1M57 175h1M1 176h1M19 176h1M21 176h1M26 176h1M28 176h1M31 176h1M38 176h1M47 176h1M51 176h2M54 176h1M6 177h1M11 177h1M15 177h1M19 177h1M27 177h1M43 177h1M47 177h3M0 178h1M14 178h1M42 178h1M49 178h1M6 179h1M9 179h1M43 179h1M50 179h2M11 180h1M32 180h1M37 180h1M49 180h1M10 181h1M17 181h1M57 181h1M20 182h1M26 182h1M28 182h2M33 182h1M39 182h1M42 182h3M56 182h2M7 183h1M16 183h1M19 183h1M25 183h1M27 183h1M31 183h1M39 183h1M45 183h1M49 183h1M55 183h1M3 184h2M9 184h1M31 184h1M46 184h1M48 184h2M53 184h1M3 185h1M5 185h1M11 185h1M15 185h1M22 185h1M28 185h1M31 185h2M35 185h1M37 185h2M41 185h1M43 185h2M21 186h1M23 186h2M30 186h1M46 186h1M21 187h1M28 187h1M32 187h1M53 187h1M2 188h1M14 188h1M21 188h1M25 188h1M27 188h1M32 188h1M34 188h1M38 188h1M51 188h1M10 189h1M15 189h1M17 189h1M29 189h2M47 189h1M10 190h2M18 190h1M37 190h4M45 190h1M1 191h1M3 191h1M13 191h1M33 191h1M40 191h1M46 191h1M51 191h1M1 192h1M3 192h1M37 192h1M46 192h1M52 192h1M57 192h1M10 193h1M12 193h1M14 193h1M21 193h1M27 193h1M29 193h2M33 193h1M4 194h1M15 194h1M32 194h1M34 194h1M40 194h1M46 194h1M54 194h1M1 195h1M33 195h2M3 196h1M13 196h1M22 196h1M25 196h1M27 196h1M41 196h1M43 196h1M48 196h1M56 196h1M37 197h1M56 197h1M8 198h1M13 198h1M18 198h4M30 198h1M35 198h1M54 198h1M1 199h2M13 199h1M29 199h1M43 199h1M56 199h1M17 200h1M20 200h1M23 200h1M27 200h1M41 200h1M47 200h1M0 201h1M16 201h1M19 201h1M30 201h1M35 201h1M37 201h1M45 201h1M11 202h2M20 202h1M26 202h1M35 202h1M24 203h1M29 203h1M40 203h1M45 203h1M56 203h1M21 204h1M27 204h1M34 204h1M36 204h1M39 204h1M41 204h1M45 204h1M48 204h1M51 204h1M54 204h1M6 205h1M11 205h1M13 205h1M20 205h1M29 205h1M37 205h1M49 205h1M51 205h1M55 205h1M14 206h1M22 206h1M29 206h1M41 206h1M2 207h2M17 207h1M24 207h1M26 207h1M29 207h1M33 207h1M39 207h1M51 207h1M4 208h1M11 208h1M13 208h1M24 208h1M26 208h1M29 208h1M38 208h1M1 209h1M12 209h1M21 209h1M25 209h1M27 209h1M34 209h1M42 209h1M22 210h1M29 210h1M35 210h1M54 210h1M1 211h1M4 211h1M7 211h1M13 211h1M27 211h2M34 211h1M46 211h1M12 212h1M26 212h1M36 212h1M50 212h1M13 213h1M15 213h1M28 213h1M34 213h1M40 213h1M44 213h1M47 213h1M53 213h1M56 213h1M15 214h1M24 214h1M27 214h2M30 214h2M35 214h1M17 215h2M37 215h1M45 215h2M50 215h1M57 215h1M3 216h1M5 216h1M7 216h2M21 216h1M26 216h2M40 216h1M45 216h2M6 217h1M11 217h2M21 217h1M24 217h1M28 217h1M31 217h1M34 217h1M36 217h1M55 217h1M11 218h1M14 218h1M25 218h1M32 218h1M41 218h1M44 218h1M53 218h1M57 218h1M3 219h1M18 219h1M20 219h1M33 219h3M48 219h1M53 219h1M57 219h1M0 220h1M7 220h1M15 220h1M34 220h1M37 220h1M49 220h2M14 221h1M21 221h2M31 221h1M55 221h1M4 222h2M10 222h1M15 222h1M30 222h1M32 222h1M46 222h1M49 222h1M54 222h1M11 223h1M17 223h1M29 223h1M31 223h1M33 223h2M42 223h3M6 224h1M10 224h1M21 224h1M23 224h1M29 224h1M32 224h1M38 224h1M43 224h1M47 224h1M51 224h1M56 224h1M1 225h2M26 225h1M47 225h1M11 226h1M17 226h1M22 226h3M37 226h1M43 226h1M46 226h1M51 226h1M11 227h1M15 227h1M36 227h1M43 227h1M50 227h1M27 228h1M37 228h1M9 229h1M13 229h3M25 229h1M31 229h1M35 229h2M48 229h2M0 230h1M8 230h2M16 230h1M30 230h1M36 230h1M57 230h1M10 231h1M15 231h2M23 231h1M37 231h1M1 232h1M3 232h1M30 232h1M36 232h1M5 233h1M9 233h1M15 233h2M27 233h1M37 233h1M45 233h1M47 233h1M5 234h1M21 234h2M24 234h1M41 234h1M45 234h1M49 234h1M53 234h2M57 234h1M19 235h1M23 235h1M34 235h1M55 235h1M14 236h1M20 236h1M37 236h1M17 237h1M21 237h1M26 237h1M34 237h1M41 237h1M49 237h3M7 238h1M9 238h1M18 238h2M21 238h1M26 238h1M33 238h1M49 238h2M3 239h1M6 239h1M11 239h1M18 239h1M20 239h2M38 239h1M41 239h1M55 239h1M6 240h1M9 240h1M17 240h1M47 240h2M15 241h1M25 241h1M28 241h1M43 241h1M48 241h1M55 241h1M1 242h2M9 242h2M18 242h1M29 242h1M34 242h1M40 242h1M50 242h1M53 242h1M0 243h1M4 243h1M29 243h1M32 243h2M40 243h1M45 243h1M0 244h2M7 244h1M21 244h2M9 245h1M18 245h1M43 245h1M55 245h1M5 246h1M10 246h1M21 246h1M42 246h2M52 246h1M1 247h1M20 247h1M34 247h1M36 247h1M38 247h1M40 247h1M5 248h1M39 248h1M45 248h1M53 248h2M56 248h1M14 249h1M54 249h1M2 250h1M6 250h1M23 250h1M25 250h1M4 251h2M8 251h1M11 251h1M21 251h1M25 251h1M28 251h2M33 251h1M55 251h1M57 251h1M7 252h1M18 252h1M32 252h1M34 252h1M49 252h1M0 253h1M6 253h1M27 253h1M31 253h1M36 253h2M41 253h1M48 253h1M57 253h1M10 254h1M24 254h1M40 254h1M45 254h1M2 255h1M12 255h1M15 255h1M19 255h1M21 255h1M26 255h1M41 255h1M54 255h2M1 256h1M4 256h1M17 256h1M20 256h1M23 256h1M25 256h1M6 257h1M14 257h4M24 257h1M30 257h1M33 257h1M37 257h1M41 257h1M22 258h2M31 258h1M43 258h1M0 259h1M3 259h1M11 259h1M19 259h1M27 259h1M33 259h1M36 259h1M39 259h1M44 259h1M46 259h1M48 259h1M51 259h1M56 259h2M7 260h1M19 260h1M26 260h1M31 260h2M36 260h1M38 260h1M44 260h1M46 260h1M49 260h1M51 260h1M56 260h1M1 261h1M4 261h2M22 261h1M47 261h1M16 262h1M19 262h2M32 262h1M36 262h1M45 262h1M47 262h1M8 263h1M13 263h1M16 263h1M18 263h1M25 263h1M28 263h3M34 263h1M41 263h1M47 263h2M1 264h1M26 264h2M29 264h1M36 264h1M46 264h1M49 264h1M38 265h1M41 265h2M45 265h1M48 265h1M1 266h1M17 266h1M25 266h1M31 266h1M38 266h2M42 266h3M51 266h2M55 266h1M6 267h1M27 267h1M36 267h1M39 267h1M46 267h1M48 267h1M54 267h1M0 268h1M20 268h1M31 268h1M44 268h1M49 268h1M54 268h1M57 268h1M0 269h1M4 269h1M49 269h1M17 270h1M24 270h1M33 270h1M0 271h1M3 271h2M10 271h1M21 271h2M26 271h1M29 271h1M34 271h1M39 271h1M41 271h1M52 271h1M1 272h1M4 272h2M17 272h1M25 272h2M34 272h2M38 272h1M46 272h1M48 272h1M52 272h1M57 272h1M23 273h1M40 273h1M18 274h1M20 274h1M22 274h1M30 274h1M44 274h1M12 275h1M25 275h1M27 275h1M34 275h1M40 275h1M51 275h1M1 276h1M31 276h1M51 276h1M1 277h1M4 277h1M7 277h1M13 277h2M17 277h1M21 277h1M30 277h1M35 277h1M38 277h1M44 277h1M49 277h2M7 278h1M10 278h1M13 278h2M27 278h1M43 278h1M50 278h1M52 278h1M1 279h1M25 279h1M38 279h1M45 279h1M55 279h1M15 280h1M18 280h1M53 280h1M55 280h1M1 281h1M8 281h1M12 281h1M15 281h1M22 281h1M43 281h1M50 281h1M1 282h1M29 282h1M39 282h1M50 282h1M55 282h1M27 283h1M17 284h1M23 284h1M30 284h1M39 284h2M44 284h1M51 284h1M56 284h1M8 285h1M13 285h1M29 285h1M36 285h1M39 285h1M52 285h1M57 285h1M14 286h1M23 286h1M29 286h1M32 286h1M42 286h1M47 286h1M52 286h1M54 286h1M17 287h1M26 287h1M38 287h1M53 287h1M55 287h1M0 288h1M2 288h1M6 288h1M10 288h1M39 288h1M52 288h1M12 289h1M38 289h1M43 289h2M46 289h1M53 289h1M10 290h1M28 290h1M37 290h1M12 291h1M17 291h1M36 291h1M2 292h2M15 292h1M27 292h1M34 292h1M37 292h1M46 292h1M52 292h1M55 292h1M11 293h1M15 293h1M24 293h1M42 293h1M51 293h1M15 294h1M17 294h2M25 294h1M28 294h2M32 294h1M41 294h2M50 294h1M36 295h1M3 296h2M26 296h2M50 296h1M53 296h2M3 297h1M18 297h1M23 297h1M29 297h1M45 297h1M50 297h1M6 298h1M14 298h1M39 298h2M44 298h1M47 298h1M23 299h1M42 299h1M50 299h1M55 299h1M57 299h1M1 300h1M6 300h1M8 300h1M11 300h1M13 300h2M23 300h1M25 300h1M44 300h1M56 300h1M1 301h1M3 301h1M12 301h1M14 301h1M24 301h1M32 301h1M36 301h1M54 301h1M29 302h1M1 303h2M11 303h1M22 303h1M53 303h2M5 304h1M21 304h1M23 304h1M26 304h1M39 304h1M48 304h2M15 305h1M27 305h1M50 305h1M54 305h1M5 306h1M18 306h1M20 306h1M30 306h2M33 306h1M40 306h1M52 306h1M54 306h1M0 307h1M34 307h1M36 307h1M54 307h2M16 308h1M28 308h1M32 308h1M38 309h2M16 310h1M26 310h1M40 310h1M46 310h1M49 310h1M51 311h1M53 311h1M18 312h1M23 312h1M34 312h1M40 312h1M51 312h2M55 312h1M38 313h1M56 313h1M9 314h1M43 314h1M45 314h1M52 314h2M27 315h1M42 315h1M10 316h1M33 316h1M23 317h1M51 317h1M55 317h1M3 318h1M19 318h1M39 318h1M3 319h1M23 319h1M32 319h1M42 319h1M46 319h1M49 319h1M25 321h1M54 321h1M48 322h1M49 325h1"/><path stroke="#0044ff" d="M44 0h1M57 0h1M8 1h1M37 1h1M49 1h1M53 1h1M15 2h1M20 2h1M30 2h1M13 3h1M18 3h1M21 3h1M23 3h1M29 3h1M4 4h1M9 4h1M14 4h1M20 4h2M53 4h1M5 5h2M17 5h1M29 5h1M31 5h1M33 5h1M38 5h1M0 6h1M15 6h1M40 6h1M56 6h1M16 8h1M18 8h1M2 9h1M32 9h1M36 9h2M50 9h1M57 9h1M1 10h1M10 10h1M16 10h1M43 10h1M18 11h1M42 11h1M44 11h1M48 11h1M17 12h1M19 12h1M27 12h1M52 12h1M54 12h1M57 12h1M4 13h1M14 13h1M4 14h1M20 14h1M34 14h1M45 14h1M52 14h1M12 15h1M20 15h1M22 15h1M38 15h1M48 15h1M55 15h1M57 15h1M0 16h1M2 16h1M13 16h1M25 16h1M30 16h1M56 16h1M1 17h1M5 17h1M8 17h1M11 17h1M14 17h1M16 17h1M22 17h2M25 17h2M44 17h3M55 17h1M12 18h1M15 18h1M28 18h1M50 18h1M2 19h1M6 19h1M17 19h2M23 19h1M41 19h1M1 20h1M11 20h1M30 20h1M37 20h1M47 20h1M49 20h1M7 21h1M22 21h1M25 21h2M30 21h1M36 21h1M55 21h1M10 22h1M18 22h1M44 22h1M50 22h1M55 22h1M2 23h2M8 23h1M10 23h1M18 23h1M22 23h1M25 23h1M36 23h1M40 23h1M42 23h1M56 23h1M4 24h1M18 24h1M22 24h1M1 25h1M17 25h1M31 25h2M56 25h1M7 26h1M20 26h1M24 26h1M32 26h1M36 26h1M39 26h1M56 26h1M2 27h1M6 27h1M9 27h1M11 27h1M18 27h1M39 27h1M55 28h1M27 29h1M29 29h1M32 29h1M29 30h1M41 30h1M45 30h1M11 31h1M13 31h1M20 31h1M53 31h1M55 31h1M6 32h1M8 32h1M55 32h1M57 32h1M3 33h3M7 33h1M13 33h1M26 33h1M31 33h1M42 33h2M50 33h1M17 34h1M30 34h1M42 34h1M0 35h1M11 35h1M56 35h1M11 36h1M13 36h1M20 36h1M28 36h1M37 36h1M48 36h1M55 36h1M5 37h1M21 37h1M24 37h1M51 37h1M2 39h1M16 39h1M38 39h1M40 39h1M4 40h1M6 40h3M16 40h1M20 40h1M24 40h1M27 40h1M29 40h1M49 40h1M56 40h2M0 41h1M10 41h1M25 41h1M35 41h1M47 41h1M52 41h1M55 41h1M5 42h1M8 42h2M19 42h1M24 42h2M42 42h2M55 42h1M9 43h1M29 43h1M43 43h1M50 43h1M38 44h1M52 44h1M0 45h1M3 45h1M12 45h1M15 45h1M51 45h1M53 45h1M4 46h1M10 46h1M20 46h1M24 46h1M38 46h1M40 46h1M47 46h1M3 47h1M12 47h1M52 47h1M55 47h1M9 48h1M13 48h1M33 48h1M46 48h1M53 48h1M3 49h1M8 49h2M13 49h1M32 49h1M38 49h1M43 49h1M4 50h1M28 50h1M33 50h1M48 50h1M6 51h1M12 51h1M29 51h1M43 51h2M46 51h1M51 51h1M19 52h1M22 52h1M29 52h1M33 52h2M54 52h1M7 53h1M18 53h1M41 53h1M48 53h1M54 53h1M13 54h1M18 54h2M26 54h1M35 54h1M38 54h1M57 54h1M2 55h2M10 55h1M37 55h1M54 55h1M10 56h1M30 56h1M40 56h1M47 56h1M21 57h2M30 57h1M33 57h1M36 57h1M49 57h1M52 57h1M6 58h1M9 58h1M12 58h1M22 58h2M29 58h1M55 58h1M5 59h1M14 59h1M19 59h1M27 59h1M24 60h1M48 60h1M13 61h1M36 61h2M39 61h1M15 62h1M24 62h1M26 62h1M36 62h1M15 63h1M21 63h1M1 64h1M4 64h1M6 64h1M41 64h1M4 65h1M24 65h1M29 65h2M34 65h1M38 65h2M5 66h1M15 66h1M18 66h1M20 66h1M34 66h1M52 66h1M8 67h1M27 67h1M29 67h1M35 67h1M51 67h1M0 68h1M3 68h1M14 68h1M28 68h1M33 68h1M36 68h2M9 69h1M21 69h1M26 69h1M31 69h1M35 69h3M41 69h1M54 69h1M56 69h1M8 70h1M14 70h1M28 70h1M31 70h1M51 70h1M0 71h1M8 71h1M20 71h1M31 71h1M13 72h1M26 72h1M28 72h2M40 72h1M49 72h1M4 73h1M7 73h1M28 73h1M35 73h1M50 73h1M12 74h1M14 74h1M16 74h1M19 74h1M36 74h1M40 74h1M48 74h1M50 74h1M55 74h1M6 75h1M14 75h1M18 75h1M26 75h1M31 75h1M33 75h1M22 76h1M26 76h1M4 77h1M22 77h1M41 77h1M55 77h1M0 78h1M5 78h2M12 78h2M18 78h1M31 78h1M34 78h1M52 78h1M2 79h1M5 79h1M23 79h2M28 79h1M31 79h2M41 79h1M57 79h1M28 80h1M35 80h1M37 80h1M42 80h1M48 80h1M52 80h1M3 82h1M11 82h2M18 82h1M42 82h1M56 82h1M3 83h1M5 83h1M11 83h1M14 83h1M27 83h1M29 83h1M47 83h1M54 83h1M9 84h1M28 84h1M39 84h1M44 84h1M2 85h1M10 85h1M13 85h1M19 85h1M26 85h2M32 85h1M44 85h1M3 86h1M5 86h1M11 86h1M15 86h1M18 86h1M23 86h1M38 86h3M50 86h1M39 87h1M50 87h1M1 88h1M9 88h1M18 88h1M31 88h1M49 88h1M26 89h1M35 89h2M40 89h1M51 89h2M1 90h1M10 90h1M19 90h1M22 90h1M37 90h2M44 90h1M53 90h1M55 90h1M6 91h1M8 91h1M12 91h1M17 91h1M21 91h1M31 91h1M3 93h1M5 93h1M17 93h1M33 93h1M43 93h1M46 93h1M51 93h1M53 93h1M9 94h1M18 94h1M37 94h1M44 94h1M56 94h1M14 95h1M20 95h1M31 95h1M33 95h1M36 95h1M53 95h1M0 96h1M3 96h1M19 96h1M21 96h1M50 96h1M54 96h1M8 97h1M11 97h1M48 97h2M53 97h1M19 98h1M21 98h1M38 98h1M40 98h1M50 98h1M54 98h1M12 99h1M15 99h1M21 99h1M23 99h1M34 99h1M40 99h1M46 99h1M49 99h2M4 100h1M13 100h1M25 100h1M29 100h3M48 100h2M54 100h1M3 101h3M11 101h1M17 101h1M29 101h1M37 101h1M18 102h1M23 102h1M29 102h1M18 103h1M43 103h1M46 103h1M51 103h2M2 104h1M5 104h1M13 104h1M26 104h1M35 104h2M50 104h1M12 105h1M17 105h1M44 105h3M49 105h1M13 106h1M18 106h1M50 106h1M24 107h1M39 107h1M46 107h1M50 107h1M18 108h2M29 108h1M44 108h1M7 109h1M10 109h1M22 109h1M37 109h1M41 109h1M0 110h1M9 110h1M11 110h1M13 110h1M16 110h1M23 110h1M31 110h2M47 110h1M50 110h1M0 111h1M9 111h1M14 111h2M19 111h1M42 111h1M46 111h1M57 111h1M5 112h1M12 112h1M15 112h1M18 112h1M23 112h1M31 112h1M40 112h1M49 112h1M54 112h1M11 113h1M20 113h1M28 113h1M40 113h1M51 113h1M57 113h1M3 114h1M5 114h1M13 114h1M32 114h1M34 114h1M36 114h1M40 114h1M46 114h1M51 114h1M53 114h1M15 115h1M31 115h1M29 116h1M31 116h1M13 117h1M22 117h1M33 117h1M41 117h1M48 117h1M52 117h1M0 118h1M37 118h1M46 118h1M5 119h1M32 119h1M50 119h1M56 119h1M14 120h1M19 120h1M21 120h1M24 120h1M27 120h1M6 121h1M32 121h1M35 121h3M6 122h1M19 122h2M23 122h1M40 122h1M47 122h1M53 122h1M5 123h1M7 123h1M19 123h2M34 123h1M39 123h1M15 124h1M22 124h1M24 124h1M26 124h1M48 124h1M50 124h1M9 125h1M16 125h1M48 125h1M12 126h1M15 126h1M21 126h1M45 126h1M12 127h1M14 127h1M20 127h1M22 127h1M33 127h1M42 127h1M54 127h1M57 127h1M49 129h1M56 129h1M12 130h1M16 130h1M26 130h1M30 130h2M34 130h1M41 130h1M43 130h1M46 130h1M49 130h1M27 131h1M31 131h1M35 131h1M52 131h1M6 132h1M34 132h2M1 133h1M4 133h1M10 133h1M13 133h1M17 133h1M23 133h1M27 133h1M47 133h1M5 134h1M28 134h1M31 134h1M50 134h1M56 134h1M3 135h1M7 135h1M11 135h1M19 135h1M57 135h1M11 136h1M15 136h1M20 136h1M27 136h1M38 136h1M42 136h1M54 136h1M3 137h1M17 137h1M26 137h1M29 137h1M31 137h2M34 137h1M37 137h1M16 138h1M19 138h1M44 138h1M0 139h1M2 139h1M5 139h1M8 139h1M13 139h2M16 139h2M29 139h1M36 139h2M20 140h1M21 141h2M25 141h1M31 141h1M43 141h1M47 141h1M51 141h1M11 142h2M17 142h1M20 142h1M38 142h1M49 142h1M52 143h2M56 143h1M3 144h1M6 144h1M16 144h2M20 144h1M36 144h1M42 144h1M47 144h1M50 144h1M7 145h1M10 145h1M12 145h1M16 145h1M24 145h1M33 145h1M41 145h2M44 145h1M8 146h1M10 146h2M13 146h1M15 146h1M30 146h1M30 147h1M33 147h1M44 147h1M46 147h1M53 147h1M45 148h1M49 148h1M13 149h1M15 149h1M30 149h1M35 149h1M54 149h1M0 150h1M21 150h1M25 150h3M54 150h1M1 151h1M6 151h2M38 151h1M40 151h1M11 152h1M19 152h1M29 152h1M46 152h1M51 152h1M53 152h1M3 153h1M20 153h1M26 153h1M40 153h1M43 153h2M17 154h1M44 154h1M46 154h1M51 154h1M2 155h1M7 155h1M15 155h1M23 155h1M25 155h1M30 155h1M33 155h2M43 155h1M53 155h1M0 156h1M3 156h1M10 156h1M23 156h1M38 156h1M40 156h1M48 156h1M13 157h1M15 157h1M35 157h1M52 157h1M2 158h1M5 158h2M21 158h1M24 158h1M26 158h1M30 158h1M52 158h1M57 158h1M9 159h2M12 159h1M30 159h1M47 159h1M52 159h1M57 159h1M22 160h1M39 160h1M56 160h2M27 161h1M45 161h1M5 162h1M26 162h1M29 162h2M39 162h1M47 162h1M6 163h1M14 163h1M23 163h1M41 163h1M49 163h1M56 163h1M3 164h1M9 164h1M44 164h1M49 164h1M28 165h1M46 165h1M36 166h2M45 166h1M53 166h1M37 167h1M5 168h1M13 168h1M15 168h1M22 168h2M36 168h1M45 168h2M50 168h1M56 168h1M33 169h1M43 169h1M49 169h1M28 170h1M57 170h1M3 171h2M13 171h1M16 171h1M22 171h1M32 171h2M40 171h1M47 171h1M49 171h1M51 171h1M1 172h1M9 172h1M14 172h1M18 172h1M37 172h1M46 172h1M51 172h1M2 173h1M5 173h1M11 173h1M22 173h2M26 173h1M38 173h1M41 173h1M45 173h1M53 173h1M4 174h1M13 174h1M20 174h1M22 174h1M39 174h1M41 174h1M44 174h1M57 174h1M11 175h1M28 175h1M47 175h1M54 175h1M12 176h1M33 176h1M40 176h1M42 176h1M56 176h1M7 177h1M14 177h1M16 177h1M21 177h1M28 177h2M32 177h1M41 177h2M3 178h2M24 178h1M37 178h2M57 178h1M12 179h1M21 179h1M37 179h1M47 179h1M56 179h2M10 180h1M17 180h1M27 180h1M31 180h1M47 180h1M56 180h1M16 181h1M18 181h1M24 181h1M35 181h1M3 182h2M8 182h1M13 182h3M17 182h1M22 182h1M30 182h2M54 182h1M14 183h2M22 183h1M36 183h2M48 183h1M50 183h1M8 184h1M32 184h1M35 184h1M51 184h1M12 185h1M14 185h1M16 185h1M27 185h1M36 185h1M47 185h2M11 186h1M2 187h1M14 187h1M24 187h1M40 187h2M4 188h2M12 188h1M24 188h1M28 188h1M31 188h1M39 188h1M45 188h1M9 189h1M56 189h1M5 190h1M8 190h1M36 190h1M44 190h1M54 190h1M6 191h1M11 191h2M15 191h1M29 191h1M31 191h2M34 191h1M38 191h1M54 191h1M6 192h1M22 192h1M40 192h1M42 192h1M51 192h1M7 193h1M17 193h1M19 193h1M23 193h1M25 193h1M31 193h1M35 193h1M3 194h1M13 194h1M26 194h1M11 195h1M16 195h1M4 196h1M23 196h1M26 196h1M29 196h3M36 196h1M49 196h1M30 197h1M5 198h1M12 198h1M32 198h1M36 198h1M47 198h1M57 198h1M23 199h1M45 199h1M12 200h1M16 200h1M26 200h1M29 200h1M31 200h1M35 200h1M45 200h1M52 200h1M4 201h1M44 201h1M3 202h1M6 202h1M10 202h1M17 202h1M27 202h2M30 202h1M36 202h1M43 202h1M22 203h1M26 203h1M31 203h1M47 203h1M54 203h1M5 204h1M12 204h1M14 204h1M18 204h1M46 204h1M18 205h1M47 205h1M0 206h1M12 206h1M48 206h1M1 207h1M15 207h1M20 207h4M27 207h1M31 207h1M43 207h1M45 207h1M57 207h1M3 208h1M9 208h1M31 208h1M50 208h1M52 208h1M26 209h1M10 210h1M13 210h1M16 210h2M26 210h1M28 210h1M33 210h1M40 210h2M46 210h1M49 210h2M53 210h1M8 211h1M21 211h1M40 211h1M48 212h2M57 212h1M1 213h1M19 213h1M21 213h1M32 213h1M54 213h1M0 214h1M19 214h1M42 214h1M46 214h1M49 214h1M54 214h1M2 215h1M5 215h1M15 215h2M27 215h1M29 215h1M42 215h1M48 215h1M51 215h1M37 216h1M49 216h1M54 216h1M1 217h1M37 217h2M45 217h1M56 217h1M4 218h1M15 218h1M31 218h1M33 218h2M47 218h1M5 219h1M8 219h1M13 219h1M27 219h1M37 219h1M44 219h1M8 220h1M27 220h2M32 220h1M52 220h1M16 221h1M25 221h1M37 221h1M39 221h2M14 222h1M35 222h1M38 222h1M42 222h1M44 222h1M8 223h1M18 223h1M22 223h2M26 223h1M36 223h1M39 223h1M45 223h1M55 223h2M7 224h2M15 224h2M18 224h1M27 224h1M30 224h1M36 224h1M39 224h1M46 224h1M50 224h1M52 224h1M0 225h1M13 225h1M15 225h1M22 225h1M30 225h1M38 225h1M46 225h1M1 226h1M6 226h2M9 226h1M21 226h1M36 226h1M44 226h2M49 226h1M56 226h1M6 227h1M8 227h1M35 227h1M38 227h1M45 227h1M49 227h1M10 228h1M18 228h1M22 228h1M25 228h1M33 228h1M47 228h2M2 229h1M8 229h1M12 229h1M17 229h1M21 229h1M34 229h1M40 229h1M12 230h1M46 230h1M48 230h1M52 230h1M24 231h1M27 231h1M53 231h1M57 231h1M9 232h1M25 232h1M29 232h1M41 232h1M43 232h1M2 233h1M13 233h2M21 233h1M28 233h1M35 233h1M10 234h1M17 234h1M23 234h1M25 234h1M28 234h1M30 234h2M42 234h1M51 234h2M55 234h1M2 235h1M45 235h1M1 236h1M3 236h1M6 236h1M26 236h2M29 236h1M36 236h1M48 236h1M51 236h1M54 236h2M57 236h1M5 237h1M8 237h1M32 237h2M48 237h1M52 237h1M55 237h1M5 238h1M12 238h1M22 238h1M57 238h1M15 239h1M24 239h2M31 239h1M40 239h1M43 239h1M56 239h1M4 240h2M12 240h1M14 240h1M22 240h2M28 240h2M31 240h1M57 240h1M3 241h1M11 241h1M13 241h1M29 241h1M44 241h1M50 241h1M8 242h1M11 242h1M30 242h1M46 242h1M57 242h1M5 243h1M11 243h1M21 243h1M24 243h2M27 243h1M30 243h1M36 243h1M57 243h1M3 244h1M13 244h1M23 244h1M36 244h1M56 244h1M25 245h1M17 246h1M29 246h1M38 246h1M51 246h1M54 246h1M56 246h2M49 247h1M6 248h1M21 248h1M40 248h1M15 249h1M29 249h1M39 249h1M45 249h2M55 249h1M17 250h1M20 250h1M30 250h1M38 250h1M40 250h1M10 251h1M34 251h1M51 251h1M54 251h1M25 252h1M28 252h1M30 252h1M42 252h1M53 252h1M9 253h1M18 253h1M24 253h1M34 253h1M39 253h1M42 253h1M45 253h1M5 254h1M9 254h1M12 254h1M14 254h1M29 254h2M41 254h1M47 254h1M53 254h1M57 254h1M13 255h2M38 255h1M40 255h1M57 255h1M3 256h1M21 256h1M41 256h1M49 256h2M54 256h1M1 257h2M21 257h1M25 257h1M34 257h1M40 257h1M13 258h1M30 258h1M35 258h2M17 259h2M30 259h1M50 259h1M52 259h1M29 260h1M50 260h1M2 261h1M6 261h1M10 261h1M19 261h1M23 261h1M25 261h1M33 261h1M9 262h1M21 262h1M41 262h1M44 262h1M48 262h1M50 262h1M17 263h1M40 263h1M42 263h1M51 263h1M5 264h1M13 264h1M18 264h1M34 264h2M41 264h1M5 265h1M20 265h1M23 265h1M28 265h1M43 265h1M56 265h1M26 266h1M34 266h2M48 266h1M57 266h1M43 267h1M7 268h1M10 268h1M14 268h1M22 268h1M27 268h1M50 268h1M1 269h1M8 269h1M10 269h1M56 269h1M6 270h1M22 270h1M32 270h1M40 270h1M47 270h1M56 270h1M19 271h1M51 271h1M57 271h1M0 272h1M6 272h1M10 272h1M32 272h1M0 273h1M16 273h2M20 273h1M26 273h2M29 273h1M41 273h1M46 273h1M54 273h1M4 274h1M16 274h2M26 274h1M29 274h1M38 274h1M41 274h1M53 274h1M15 275h1M21 275h1M23 275h1M39 275h1M41 275h1M47 275h1M54 275h1M30 276h1M45 276h1M47 276h1M15 277h1M20 277h1M25 277h2M37 277h1M40 277h2M46 277h1M52 277h1M30 278h1M41 278h1M16 279h1M37 279h1M41 279h1M48 279h1M51 279h1M1 280h1M4 280h2M9 280h2M27 280h1M16 281h1M18 281h1M28 281h1M30 281h1M39 281h1M41 281h1M47 281h1M49 281h1M55 281h1M32 282h1M41 282h1M52 282h1M4 283h1M35 283h2M45 283h1M47 283h1M57 283h1M24 284h1M36 284h1M38 284h1M42 284h1M54 284h1M6 285h1M22 285h1M46 285h1M2 286h1M7 286h1M22 286h1M24 286h1M41 286h1M46 286h1M50 286h1M24 287h1M31 287h2M46 287h1M4 288h1M22 288h1M25 288h1M46 288h1M51 288h1M6 289h1M9 289h1M11 289h1M14 289h2M20 289h1M22 289h1M31 289h1M36 289h1M48 289h1M55 289h1M0 290h2M3 290h1M11 290h1M16 290h1M21 290h1M27 290h1M40 290h2M53 290h1M55 290h1M9 291h1M13 291h1M16 291h1M30 291h1M39 291h1M47 291h1M24 292h1M29 292h1M38 292h1M7 293h1M14 293h1M25 293h1M37 293h1M44 293h1M14 294h1M16 294h1M31 294h1M33 294h1M38 294h1M40 294h1M44 294h1M57 294h1M35 295h1M54 295h1M0 296h2M17 296h1M24 296h1M37 296h1M44 296h1M51 296h1M1 297h1M25 297h1M36 297h2M44 297h1M51 297h1M1 298h1M23 298h2M26 298h3M38 298h1M42 298h1M54 299h1M12 300h1M15 300h1M21 300h1M28 300h1M30 300h1M38 300h1M40 300h1M43 300h1M16 301h1M19 301h3M25 301h1M27 301h1M31 301h1M35 301h1M44 301h1M50 301h2M57 301h1M15 302h1M24 302h1M6 303h1M14 303h1M35 303h2M43 303h1M48 303h1M51 303h1M4 304h1M7 304h1M13 304h1M17 304h1M30 304h1M35 304h1M41 304h1M14 305h1M16 305h1M21 306h1M27 306h1M49 306h1M55 306h1M3 307h1M35 307h1M43 307h1M53 307h1M1 308h1M6 308h1M14 308h1M30 308h1M45 308h1M51 308h1M56 308h1M15 309h1M31 309h1M5 310h1M13 310h1M19 310h1M38 310h1M48 310h1M23 311h1M39 311h1M56 311h1M1 312h1M5 312h1M15 312h2M31 312h1M33 312h1M39 312h1M44 312h3M23 313h1M42 313h1M50 313h1M13 314h1M29 314h1M56 314h1M49 315h1M55 315h2M28 316h1M37 316h1M48 316h2M53 316h1M21 317h1M24 317h1M33 317h1M37 317h2M40 317h1M42 317h2M20 318h1M36 318h1M43 318h1M45 318h1M57 318h1M1 319h1M14 319h1M47 320h1M11 321h1M36 321h1M50 321h1M30 322h1M41 323h1M55 323h1M28 324h1M50 325h1"/><path stroke="#0058ff" d="M16 1h2M30 1h1M33 1h1M35 1h1M52 1h1M2 2h1M18 2h1M32 2h1M42 2h1M22 3h1M25 3h1M29 4h1M31 4h1M35 4h1M44 4h1M40 5h1M46 5h1M53 5h1M21 6h1M37 6h1M49 6h1M50 7h1M14 8h1M26 8h1M34 8h1M39 8h1M53 8h1M40 9h3M49 9h1M15 10h1M51 10h1M53 10h1M8 11h1M10 11h1M12 11h1M25 11h1M29 11h1M4 12h1M7 12h1M28 12h1M35 14h1M38 14h1M43 14h1M0 15h1M13 15h1M16 15h1M18 15h1M28 15h1M43 15h2M53 15h1M10 16h1M27 16h1M38 16h1M43 16h1M2 17h1M12 17h1M34 17h1M42 17h1M34 18h1M42 18h1M14 19h1M20 19h1M35 19h1M16 20h1M33 20h1M39 20h1M56 20h1M17 21h1M28 21h1M8 22h1M28 22h1M57 22h1M21 23h1M24 23h1M30 23h1M49 23h1M1 24h1M27 24h1M35 24h1M3 25h1M37 25h1M40 25h1M51 25h1M13 26h1M29 26h1M42 26h2M21 27h1M25 27h1M5 28h1M10 28h1M19 30h1M21 30h1M23 30h1M36 30h2M40 30h1M9 31h1M25 31h1M47 31h1M56 31h1M18 32h1M10 33h1M38 33h1M3 34h1M12 34h1M16 34h1M32 34h1M49 34h1M1 35h1M45 35h1M47 35h2M15 36h1M22 36h2M54 36h1M6 37h2M23 37h1M38 37h1M10 38h1M14 38h1M4 39h1M36 39h1M15 40h1M34 40h1M5 41h1M11 41h1M14 41h1M16 41h2M27 41h1M31 41h1M38 41h1M41 41h1M50 41h1M1 42h1M23 42h1M46 42h1M50 42h1M52 42h1M57 42h1M0 43h1M26 43h1M28 43h1M36 44h1M48 44h1M53 44h1M56 44h1M2 45h1M16 45h1M21 45h1M25 45h1M41 45h1M55 45h1M31 46h1M35 46h1M42 46h1M56 46h1M2 47h1M15 47h2M44 47h1M49 47h1M8 48h1M18 48h2M21 48h1M31 48h1M39 48h1M4 49h1M16 49h1M21 49h1M56 49h1M2 50h1M7 50h1M12 50h1M20 50h1M24 50h1M34 50h1M41 50h1M52 50h1M5 51h1M8 51h1M11 51h1M14 51h1M18 51h1M54 51h1M7 52h1M18 52h1M20 52h1M31 52h1M49 52h1M51 52h1M53 52h1M2 53h1M15 53h1M42 53h2M51 53h1M53 53h1M11 54h2M17 54h1M46 54h1M55 54h2M9 55h1M11 55h1M14 55h1M19 55h1M29 55h1M34 55h1M2 56h1M5 56h1M23 56h1M42 56h1M46 56h1M48 56h1M41 57h1M48 57h1M45 58h1M51 58h2M16 59h1M42 59h1M51 59h2M56 59h1M39 60h1M49 60h1M22 61h1M29 61h2M32 61h1M38 61h1M43 61h1M52 61h1M4 62h1M34 62h1M39 62h1M42 62h1M50 62h1M52 62h1M56 62h1M5 63h1M7 63h1M11 63h1M13 63h1M20 63h1M30 63h1M35 63h1M51 63h1M50 64h2M25 65h1M44 65h1M56 65h1M6 66h1M11 66h1M33 66h1M42 66h1M56 66h1M13 67h1M39 67h1M41 67h1M34 68h1M43 68h1M48 68h1M50 68h1M56 68h1M22 69h2M34 69h1M53 69h1M55 69h1M2 70h2M32 70h1M47 70h1M52 70h1M3 71h1M16 71h1M25 71h1M27 71h1M29 71h1M35 71h1M3 72h1M34 72h1M43 72h1M9 73h1M20 73h1M57 73h1M9 74h2M23 74h1M26 74h1M32 74h1M34 74h1M2 75h1M5 75h1M11 75h2M15 75h1M37 75h1M51 75h1M15 76h1M17 76h1M24 76h1M17 77h1M19 77h1M27 77h1M48 77h1M3 78h1M7 78h1M32 78h1M50 78h1M0 79h2M11 79h1M15 79h1M19 79h1M21 79h1M27 79h1M36 79h1M46 79h1M10 80h1M13 80h1M33 80h1M51 80h1M1 82h1M51 82h1M0 83h1M10 83h1M17 83h1M24 83h1M0 84h1M16 84h1M20 84h1M32 84h1M35 84h1M50 84h1M52 84h1M55 84h3M7 85h1M40 85h1M42 85h1M54 85h1M57 85h1M21 86h2M31 86h2M56 86h1M5 87h2M12 87h1M22 87h1M24 87h1M38 87h1M40 87h1M44 87h1M2 88h1M4 88h1M34 88h1M24 89h1M29 89h1M37 89h1M44 89h1M6 90h1M11 90h1M26 90h1M45 90h2M48 90h1M52 90h1M5 91h1M7 91h1M11 91h1M28 91h1M48 92h1M2 93h1M6 93h1M23 93h1M27 93h1M39 93h1M54 93h1M4 94h1M11 94h1M29 94h1M36 94h1M48 94h1M2 95h1M15 95h1M38 95h1M50 95h1M1 96h1M17 96h1M23 96h1M29 96h1M49 96h1M1 97h1M6 97h1M31 97h1M40 97h1M44 97h2M47 97h1M18 98h1M46 98h1M0 99h1M14 99h1M22 99h1M24 99h1M30 99h1M41 99h1M17 100h1M19 100h1M21 100h1M50 100h1M16 101h1M18 101h1M15 102h1M41 102h1M56 102h1M20 103h1M42 103h1M44 103h1M20 104h1M34 104h1M53 104h1M16 105h1M22 105h1M25 105h1M30 105h1M35 105h1M42 105h2M3 106h1M52 106h1M41 107h1M51 107h2M56 107h1M22 108h1M26 108h1M33 108h1M36 108h1M40 108h1M45 108h1M50 108h1M24 109h1M30 109h1M44 109h1M14 110h1M22 110h1M27 110h1M2 111h1M22 111h1M36 111h1M0 112h1M8 112h2M11 112h1M16 112h1M25 112h1M41 112h1M45 112h1M57 112h1M10 113h1M33 113h1M49 113h1M12 114h1M39 114h1M3 115h1M35 116h1M45 116h1M12 117h1M17 117h1M34 117h1M43 117h2M49 117h1M3 118h1M22 118h1M33 118h1M47 118h2M51 119h1M4 120h1M22 120h1M31 120h1M36 120h1M56 120h1M3 121h1M13 121h1M20 121h1M42 121h1M47 121h2M14 122h1M16 122h1M25 122h1M34 122h1M42 122h1M51 122h1M44 123h1M50 123h1M0 124h1M21 124h1M35 124h1M2 125h1M20 125h1M27 125h1M30 125h1M39 125h1M41 125h1M56 125h1M9 126h1M13 126h1M22 126h1M11 127h1M13 127h1M21 127h1M35 127h1M43 127h1M51 127h1M3 129h1M7 129h1M14 129h1M23 129h1M27 129h1M22 130h1M24 130h2M27 130h1M29 130h1M32 130h1M37 130h1M44 130h1M13 131h1M8 132h1M20 132h1M28 132h1M18 133h1M24 133h1M26 133h1M39 133h1M7 134h1M9 134h1M27 134h1M1 135h1M4 135h1M27 135h1M39 135h1M0 136h1M16 136h1M23 136h1M5 137h3M18 137h2M25 137h1M27 137h1M38 137h1M41 137h1M7 138h1M50 138h1M15 139h1M22 139h1M28 139h1M41 139h1M56 139h1M15 141h1M46 141h1M0 142h2M6 142h1M19 142h1M33 142h1M46 142h1M48 142h1M53 142h1M45 143h1M2 144h1M29 144h1M33 144h1M41 144h1M52 144h1M2 145h1M43 145h1M46 145h1M51 145h1M12 146h1M16 146h1M38 146h1M8 147h2M45 147h1M55 147h1M18 148h1M34 148h1M52 148h1M1 149h2M20 149h1M24 149h1M38 149h1M55 149h1M16 150h1M37 150h1M53 150h1M8 151h1M22 151h2M39 151h1M50 151h1M1 152h1M20 152h2M26 152h1M34 152h1M52 152h1M8 153h1M11 153h1M18 153h1M29 153h1M2 154h1M26 154h1M52 154h1M10 155h1M16 155h1M45 155h1M54 155h1M19 156h1M34 156h1M4 157h1M18 157h1M44 157h2M7 158h1M25 158h1M36 158h1M43 158h1M49 158h1M2 159h1M19 159h1M42 159h1M5 160h1M37 160h1M41 160h1M21 162h2M56 162h1M7 163h1M29 163h1M45 163h2M7 164h2M18 164h2M25 164h1M42 164h1M50 164h1M53 164h1M15 165h1M20 165h1M51 165h1M24 166h1M40 166h1M49 166h1M7 167h3M43 167h1M57 167h1M2 168h1M4 168h1M8 168h1M14 168h1M18 168h1M32 168h1M38 168h1M3 169h2M9 169h1M26 169h1M28 169h1M50 169h1M54 169h1M6 170h1M19 170h1M34 170h2M0 171h1M11 171h1M29 171h2M0 172h1M2 172h1M21 172h1M31 172h2M44 172h1M49 172h1M53 172h1M19 173h1M1 174h1M29 174h1M35 174h1M37 174h1M15 175h1M27 175h1M33 175h1M46 175h1M48 175h1M3 176h3M14 176h1M16 176h1M22 176h1M27 176h1M35 176h1M37 176h1M39 176h1M41 176h1M49 176h1M9 177h1M31 177h1M34 177h1M37 177h2M52 177h3M5 178h1M10 178h1M26 178h1M34 178h2M53 178h1M0 179h1M5 179h1M27 179h1M34 179h1M42 179h1M19 180h2M28 180h1M33 180h1M35 180h1M50 180h1M54 180h1M11 181h1M19 181h2M22 181h1M25 181h1M34 181h1M2 182h1M32 182h1M46 182h2M23 183h1M26 183h1M29 183h1M33 183h1M51 183h1M5 184h1M13 184h1M15 184h1M25 184h1M30 184h1M43 184h1M47 184h1M0 185h1M6 185h1M10 185h1M21 185h1M45 185h1M57 185h1M13 186h1M8 187h1M49 187h1M9 188h1M19 188h1M22 188h1M40 188h1M50 188h1M19 189h3M32 189h1M7 190h1M4 191h1M14 191h1M47 191h1M50 191h1M10 192h1M28 192h2M38 192h1M44 192h1M5 193h1M16 193h1M32 193h1M40 193h1M45 193h1M51 193h1M0 194h1M30 194h1M43 195h1M34 196h2M44 196h1M9 197h1M22 197h1M32 197h1M10 198h1M5 199h1M11 199h1M19 200h1M22 200h1M33 200h1M57 200h1M52 201h1M9 202h1M21 202h1M37 202h1M42 202h1M45 202h1M13 203h3M17 203h1M20 203h1M34 203h1M39 203h1M1 204h1M9 204h2M15 204h1M22 204h2M32 204h1M35 204h1M50 204h1M16 205h1M19 205h1M21 205h1M24 205h1M43 205h1M45 205h1M3 206h1M16 206h1M33 206h1M28 207h1M32 207h1M42 207h1M20 208h1M23 208h1M25 208h1M27 208h1M4 209h1M20 209h1M0 210h2M18 210h1M21 210h1M23 210h1M32 210h1M48 210h1M37 211h1M39 211h1M44 211h1M54 211h1M0 212h1M10 212h1M20 212h1M31 212h1M35 212h1M39 212h1M55 212h2M7 213h1M17 213h1M33 213h1M38 213h1M46 213h1M55 213h1M57 213h1M40 214h1M45 214h1M8 215h1M11 215h1M13 215h1M19 215h1M31 215h1M33 215h1M52 215h2M2 216h1M30 216h1M14 217h1M23 217h1M39 217h1M46 217h2M49 217h1M5 218h1M12 218h1M17 218h1M0 219h1M2 219h1M16 219h1M22 219h1M45 219h1M50 219h2M54 219h1M10 220h1M31 220h1M3 221h2M7 221h1M9 221h1M15 221h1M26 221h1M28 221h1M35 221h1M42 221h2M1 222h1M6 222h1M8 222h1M16 222h1M19 222h1M34 222h1M43 222h1M53 222h1M57 222h1M1 223h1M3 223h2M12 223h1M24 223h1M32 223h1M49 223h1M4 224h1M11 224h1M14 224h1M22 224h1M11 225h1M16 225h1M31 225h1M49 225h1M0 226h1M5 226h1M12 226h1M20 226h1M31 226h1M33 226h1M39 226h1M54 226h1M0 227h1M9 227h1M22 227h1M33 227h1M37 227h1M28 228h1M46 228h1M51 228h1M4 229h1M11 229h1M16 229h1M22 229h1M27 229h1M29 229h1M41 229h1M44 229h1M46 229h1M50 229h1M18 230h1M20 230h1M28 230h2M45 230h1M50 230h1M4 231h1M12 231h1M25 231h1M34 231h1M44 231h1M54 231h1M15 232h1M24 232h1M26 232h1M39 232h1M31 233h1M40 233h1M42 233h1M3 234h1M7 234h1M40 234h1M0 235h2M48 235h2M8 236h1M19 236h1M23 236h1M32 236h1M40 236h1M46 236h2M49 236h1M1 237h1M13 237h1M31 237h1M42 237h1M44 237h1M1 238h2M8 238h1M43 238h1M52 238h1M56 238h1M4 239h2M26 239h1M39 239h1M42 239h1M46 239h1M2 240h1M15 240h1M20 240h1M25 240h1M32 240h1M41 240h1M12 241h1M27 241h1M57 241h1M7 242h1M20 242h1M24 242h1M36 242h1M42 242h1M47 242h1M7 243h1M19 243h1M49 243h1M4 244h1M14 244h1M40 244h1M48 244h2M16 245h1M26 245h1M46 245h1M48 245h1M50 245h1M10 247h1M27 247h2M32 247h2M37 247h1M0 248h1M4 248h1M8 248h1M10 248h1M22 248h1M27 248h2M31 248h1M47 248h1M3 249h1M19 249h1M48 249h1M3 250h1M21 250h2M37 250h1M56 250h2M12 251h2M16 251h1M45 251h1M4 252h1M6 252h1M12 252h1M14 252h2M17 252h1M20 252h1M27 252h1M1 253h1M19 253h1M28 253h2M32 253h2M3 254h1M7 254h1M13 254h1M28 254h1M34 254h1M38 254h1M51 254h1M5 255h1M11 255h1M23 255h1M39 255h1M0 256h1M7 256h1M10 256h1M12 256h1M31 256h2M43 256h1M20 257h1M39 257h1M53 257h1M20 258h1M4 259h1M13 259h1M26 259h1M45 259h1M49 259h1M55 259h1M0 260h1M13 260h1M18 260h1M21 260h1M28 260h1M45 260h1M30 261h1M39 261h1M8 262h1M11 262h1M23 262h1M27 262h1M40 262h1M1 263h1M10 263h1M22 263h1M27 263h1M37 263h1M52 263h1M11 264h1M16 264h2M28 264h1M39 264h1M47 264h1M54 264h1M6 265h1M14 265h1M51 265h1M55 265h1M13 266h1M24 266h1M37 266h1M50 266h1M1 267h1M13 267h1M35 267h1M37 267h1M41 267h2M51 267h1M56 267h1M3 268h1M17 268h1M24 268h1M30 268h1M52 268h1M55 268h1M7 269h1M23 269h1M46 269h1M55 269h1M1 270h1M3 270h2M7 270h1M34 270h1M42 270h1M44 270h1M46 270h1M6 271h1M8 271h1M31 271h1M50 271h1M56 271h1M3 272h1M8 272h1M29 272h1M33 272h1M40 272h1M10 273h1M12 273h1M24 273h1M34 273h1M38 273h1M44 273h1M1 275h1M14 275h1M28 275h1M30 275h1M26 276h1M36 276h1M41 276h1M11 277h1M28 277h1M48 277h1M53 277h1M4 278h1M6 278h1M22 278h1M32 278h1M40 278h1M57 278h1M6 279h1M11 279h1M29 279h1M46 279h1M52 279h1M56 279h1M2 280h2M12 280h1M24 280h1M31 280h1M10 281h1M20 281h1M48 281h1M54 281h1M57 281h1M4 282h1M8 282h1M17 282h1M34 282h1M48 282h1M51 282h1M54 282h1M6 283h1M11 283h1M14 283h1M39 283h1M46 283h1M56 283h1M1 284h1M37 284h1M2 285h1M4 285h2M11 285h1M26 285h1M40 285h1M45 285h1M56 285h1M3 286h1M11 286h1M15 286h1M27 286h1M30 286h1M37 286h1M40 286h1M48 286h1M56 286h1M22 287h2M39 287h1M44 287h1M48 287h2M54 287h1M3 288h1M43 288h1M47 288h1M57 288h1M5 289h1M10 289h1M21 289h1M34 289h1M51 289h1M56 289h1M6 290h1M12 290h2M15 290h1M20 290h1M23 290h1M36 290h1M39 290h1M49 290h1M51 290h1M5 291h1M14 291h1M29 291h1M53 291h2M4 292h1M12 292h1M17 292h1M20 292h1M47 292h1M54 292h1M33 293h1M36 293h1M46 293h1M49 293h2M0 294h1M2 294h1M27 294h1M51 294h1M14 295h1M37 295h1M14 296h1M19 296h1M25 296h1M30 296h1M34 296h1M46 296h1M2 297h1M7 297h4M15 297h2M26 297h2M43 297h1M0 298h1M13 298h1M19 298h2M20 299h1M2 300h1M10 300h1M22 300h1M34 300h1M36 300h2M54 300h1M13 301h1M37 301h2M40 301h1M56 301h1M5 302h1M9 302h1M22 302h1M25 302h1M30 302h1M0 303h1M7 303h1M10 303h1M18 303h1M20 303h1M24 303h1M34 303h1M40 303h1M55 303h2M1 304h1M3 304h1M14 304h2M18 304h1M25 304h1M12 305h1M23 305h1M32 305h1M47 305h1M19 306h1M22 306h1M32 306h1M39 306h1M44 306h3M33 307h1M39 307h1M51 307h1M9 308h1M19 308h1M21 308h1M29 308h1M40 308h2M50 308h1M55 308h1M29 309h1M40 309h1M18 310h1M27 310h1M34 310h1M42 310h1M50 310h2M17 312h1M28 312h1M38 312h1M42 312h1M54 312h1M20 313h1M32 313h1M45 313h1M10 314h1M1 315h1M26 315h1M38 315h1M40 315h1M53 315h1M19 316h2M38 316h1M55 316h1M20 317h1M31 317h1M41 317h1M53 317h1M2 318h1M4 318h1M12 318h1M32 318h1M42 318h1M47 318h1M49 318h1M0 319h1M8 319h2M20 319h1M25 319h1M34 319h1M37 319h1M45 319h1M48 319h1M40 320h1M49 320h1M55 320h1M6 321h1M12 321h1M26 321h1M12 322h1M40 323h1M41 325h1M39 326h1M47 326h1"/><path stroke="#006cff" d="M9 1h1M31 1h1M13 4h1M30 4h1M43 4h1M55 4h1M4 5h1M16 5h1M21 5h1M48 5h1M51 5h1M14 6h1M28 6h1M6 7h1M12 7h1M38 7h1M0 8h1M51 8h1M47 9h1M56 9h1M0 11h1M22 11h1M0 12h1M6 12h1M3 14h1M15 14h1M42 14h1M46 14h1M6 15h1M14 15h1M17 15h1M19 15h1M23 15h1M35 15h2M40 15h1M46 15h1M50 15h1M26 16h1M32 16h1M3 17h1M15 17h1M21 17h1M47 17h1M54 17h1M16 18h1M0 19h1M13 19h1M15 19h2M29 19h1M36 19h1M46 19h2M31 20h1M48 20h1M13 21h2M29 21h1M39 21h1M2 22h1M20 22h1M4 23h1M34 23h1M41 23h1M55 23h1M16 24h1M19 24h1M56 24h1M6 25h1M16 25h1M52 25h1M57 25h1M8 26h1M14 26h1M19 26h1M0 27h1M10 27h1M20 27h1M26 27h1M42 27h1M13 28h1M29 28h1M30 29h1M9 30h2M26 30h1M42 30h1M16 31h1M57 31h1M16 32h1M37 32h1M15 33h1M44 33h1M4 34h1M13 34h1M40 34h1M44 34h1M56 34h1M19 35h2M22 35h1M24 35h1M32 35h1M3 36h1M14 36h1M30 36h1M38 36h1M51 36h1M14 37h1M2 38h1M15 38h1M26 38h1M5 39h1M25 39h1M3 40h1M9 40h1M28 40h1M38 40h1M46 40h1M2 41h1M4 41h1M9 41h1M30 41h1M40 41h1M42 41h1M18 42h1M48 42h2M53 42h1M8 43h1M21 43h1M34 43h1M4 44h1M13 44h1M15 44h2M18 44h1M27 44h1M31 44h1M35 44h1M4 45h1M37 45h1M46 45h1M21 46h1M34 46h1M39 46h1M45 46h1M1 48h1M12 48h1M23 48h1M30 48h1M55 48h2M34 49h2M49 49h1M0 50h1M13 50h1M29 50h1M4 51h1M17 51h1M52 51h1M56 51h1M11 52h1M13 52h1M28 52h1M50 52h1M9 53h1M28 53h1M35 53h1M27 54h1M45 54h1M53 54h2M0 55h2M5 55h1M17 55h1M38 55h1M47 55h1M56 55h1M3 56h1M7 56h2M21 56h1M32 56h1M13 57h1M19 57h1M32 57h1M35 57h1M54 57h4M11 58h1M21 58h1M40 59h1M43 59h1M48 59h1M24 61h1M31 61h1M2 62h1M19 62h1M33 62h1M38 62h1M40 62h1M44 62h1M31 63h1M36 63h1M41 63h1M48 63h1M32 64h1M52 64h1M29 66h1M32 66h1M44 66h1M51 66h1M22 67h2M10 68h1M22 68h1M51 68h1M25 69h1M22 70h1M35 70h1M48 70h1M2 71h1M4 71h1M7 71h1M10 71h1M37 71h1M45 71h1M53 71h1M56 71h1M4 72h1M9 72h1M17 72h1M43 73h1M8 74h1M42 74h1M57 74h1M10 75h1M52 75h1M56 75h1M16 76h1M30 76h1M38 76h1M40 76h1M0 77h1M18 77h1M16 78h2M19 78h1M33 78h1M51 78h1M56 78h1M4 79h1M25 79h1M29 79h1M34 79h1M44 79h1M56 79h1M6 80h1M8 80h1M11 80h1M34 80h1M0 82h1M23 82h1M32 82h1M37 82h1M47 82h1M53 82h1M13 83h1M20 83h1M42 83h1M46 83h1M57 83h1M15 84h1M17 84h1M31 84h1M34 84h1M47 84h3M20 85h1M31 85h1M34 85h1M48 85h1M7 86h1M19 86h2M51 86h1M57 86h1M8 87h1M11 87h1M21 87h1M30 87h1M42 87h1M53 87h1M28 88h1M50 88h1M57 88h1M8 89h1M11 89h2M22 89h1M38 89h2M46 89h1M4 90h1M12 90h1M42 90h1M9 91h1M27 91h1M33 91h1M47 91h1M29 93h1M32 93h1M34 93h1M27 94h1M21 95h1M54 95h1M12 96h1M28 96h1M57 96h1M3 97h3M10 97h1M23 97h1M39 97h1M42 97h1M50 97h1M15 98h1M42 98h1M44 98h1M48 98h1M6 99h1M13 99h1M18 100h1M23 100h1M44 100h1M52 100h1M28 101h1M38 101h1M44 101h1M47 101h1M49 101h3M22 102h1M31 102h1M57 102h1M38 103h1M50 103h1M9 104h1M12 104h1M16 104h1M18 104h1M32 104h1M7 105h1M15 105h1M41 105h1M47 105h1M1 106h1M4 106h1M16 106h1M36 107h1M11 108h1M14 108h1M25 108h1M30 108h1M2 109h1M19 109h1M2 110h1M4 110h1M19 110h1M21 110h1M24 110h1M34 110h1M41 110h1M46 110h1M49 110h1M7 111h1M39 111h2M43 111h1M49 111h1M10 112h1M33 112h2M44 112h1M11 114h1M35 114h1M37 114h1M13 115h1M25 115h1M43 116h1M18 117h1M15 118h2M14 119h1M20 119h2M18 120h1M37 120h1M10 121h1M21 121h1M45 121h1M12 122h1M30 122h1M44 122h1M52 122h1M57 122h1M32 123h1M57 123h1M17 125h1M24 125h1M37 125h1M40 125h1M46 125h1M49 125h1M51 125h1M19 126h1M51 126h1M18 127h2M34 127h1M56 127h1M50 129h1M8 130h2M11 130h1M13 130h1M28 130h1M56 130h1M28 131h1M30 131h1M38 131h2M39 132h1M12 133h1M15 133h1M51 133h1M53 133h1M15 135h1M20 135h1M25 135h1M28 135h1M43 135h1M2 136h1M22 136h1M53 136h1M56 136h1M30 137h1M35 137h1M46 137h1M20 138h1M38 138h1M48 138h1M12 139h1M35 139h1M54 139h1M57 139h1M1 141h1M16 141h1M30 141h1M45 141h1M13 142h1M54 142h1M56 142h1M27 143h1M26 144h1M32 144h1M45 144h1M23 145h1M50 145h1M51 147h2M43 148h1M48 148h1M19 149h1M23 149h1M43 149h1M17 150h1M38 150h1M16 151h1M56 151h1M2 152h1M8 152h1M12 152h1M16 152h1M28 152h1M33 152h1M21 153h1M24 153h1M30 153h1M38 153h2M11 154h1M18 154h1M21 154h1M33 154h1M39 154h1M24 155h1M20 156h1M36 156h1M49 156h1M9 157h1M12 157h1M30 157h1M41 157h1M57 157h1M19 158h1M31 158h1M33 158h1M37 158h1M40 158h1M44 158h1M50 158h1M53 158h1M3 159h1M11 159h1M14 159h1M26 159h2M39 159h3M43 159h2M50 159h1M4 160h1M22 161h1M3 162h1M10 162h1M2 163h1M20 163h1M42 163h2M57 163h1M20 164h1M54 164h1M6 165h1M9 165h1M3 166h1M23 166h1M39 166h1M6 167h1M10 167h1M26 167h1M34 167h1M38 167h1M46 167h1M6 168h1M16 168h1M33 168h1M55 169h1M41 171h1M29 172h1M47 172h1M3 173h1M16 173h1M49 173h1M0 174h1M17 174h2M34 174h1M48 174h2M16 175h1M17 176h1M0 177h1M23 177h1M26 177h1M30 177h1M40 177h1M56 177h1M25 178h1M31 178h2M12 180h2M36 180h1M44 180h1M26 181h1M33 181h1M48 181h1M51 181h1M12 182h1M19 182h1M50 182h1M6 183h1M11 183h1M20 184h1M29 184h1M39 184h4M52 184h1M19 185h1M46 185h1M49 185h1M26 187h1M37 187h1M39 187h1M52 187h1M8 188h1M11 188h1M18 188h1M23 188h1M30 188h1M44 188h1M16 189h1M22 189h1M2 191h1M9 191h1M41 191h1M30 192h1M39 192h1M41 192h1M45 192h1M49 192h2M13 193h1M42 193h2M38 194h1M14 195h1M22 195h1M15 196h1M18 196h1M42 196h1M39 197h1M9 198h1M43 198h1M46 198h1M52 198h2M12 199h1M31 199h1M21 200h1M30 200h1M42 200h1M50 200h1M56 200h1M6 201h1M15 202h1M18 202h1M46 202h1M25 203h1M43 203h1M51 203h2M55 203h1M7 204h1M24 204h1M26 204h1M57 204h1M14 205h1M39 205h1M44 205h1M46 205h1M4 206h1M13 206h1M17 206h1M21 206h1M34 206h1M45 206h1M47 206h1M5 209h1M22 209h1M9 210h1M14 210h1M30 210h1M37 210h1M45 210h1M47 210h1M5 211h1M35 211h1M42 211h1M4 212h1M11 212h1M19 212h1M22 212h1M30 212h1M32 212h1M43 212h1M53 212h1M6 213h1M22 213h1M26 213h1M42 213h1M1 214h1M3 214h1M11 214h1M18 214h1M23 214h1M34 214h1M3 215h1M7 215h1M14 215h1M23 215h1M47 215h1M49 215h1M13 217h1M25 217h3M50 217h1M8 218h1M13 218h1M36 218h1M46 218h1M48 218h1M52 218h1M9 219h1M11 219h1M15 219h1M31 219h1M40 219h1M43 219h1M46 219h2M52 219h1M14 220h1M20 221h1M36 221h1M48 221h1M2 222h2M36 222h1M45 222h1M50 222h1M25 223h1M27 223h1M57 223h1M13 224h1M17 224h1M34 224h1M10 225h1M8 226h1M15 226h1M38 226h1M52 226h2M21 227h1M26 229h1M47 229h1M7 230h1M35 230h1M53 230h1M0 232h1M16 232h1M4 234h1M9 234h1M27 234h1M29 234h1M2 236h1M5 236h1M10 236h1M18 236h1M22 236h1M38 236h1M45 236h1M56 236h1M9 237h1M24 237h1M39 237h1M47 237h1M11 238h1M32 238h1M7 239h1M22 239h1M28 239h1M32 239h1M51 239h1M10 240h1M52 240h1M21 241h1M38 241h1M47 241h1M0 242h1M5 242h1M22 242h2M31 242h1M41 242h1M43 242h1M52 242h1M6 243h1M9 243h2M18 243h1M22 243h2M34 243h1M54 243h1M10 244h1M57 244h1M14 245h1M51 245h1M53 245h1M2 246h1M11 246h1M22 246h1M14 247h1M18 247h2M42 247h1M46 247h1M53 247h1M56 247h1M3 248h1M7 248h1M30 248h1M43 248h1M17 249h2M26 249h1M36 249h1M43 249h1M53 249h1M0 250h1M10 250h1M18 250h1M26 250h1M2 251h2M14 251h2M17 251h1M23 251h1M27 251h1M32 251h1M44 251h1M50 251h1M56 251h1M0 252h1M9 252h1M19 252h1M21 252h1M23 252h1M33 252h1M52 252h1M8 253h1M10 253h1M15 253h1M38 253h1M43 253h1M56 253h1M31 254h1M35 254h1M50 254h1M56 254h1M1 255h1M20 255h1M33 255h1M2 256h1M16 256h1M22 256h1M30 256h1M48 256h1M51 256h3M9 257h1M12 257h1M22 257h2M26 257h1M36 257h1M52 257h1M54 257h1M56 257h1M5 258h1M1 259h1M5 259h1M7 259h1M9 259h1M12 259h1M2 260h2M23 260h1M7 261h1M18 261h1M22 262h1M25 262h1M33 262h1M42 262h1M4 263h2M9 263h1M50 263h1M3 264h2M3 265h1M17 265h3M22 265h1M24 265h2M34 265h1M53 265h1M3 266h1M6 266h1M10 266h1M12 266h1M49 266h1M53 266h2M8 267h1M10 267h3M19 267h1M33 267h1M44 267h1M47 267h1M8 268h1M21 268h1M2 269h1M5 269h1M12 269h1M24 269h1M35 269h1M40 269h1M50 269h1M0 270h1M31 270h1M35 270h1M43 270h1M48 270h1M54 270h1M11 271h1M13 271h1M40 271h1M7 272h1M9 272h1M28 272h1M31 272h1M36 272h1M41 272h1M53 272h1M3 273h1M5 273h1M15 273h1M22 273h1M32 273h1M35 274h1M42 274h1M49 274h1M56 274h2M0 275h1M8 275h1M16 275h1M29 275h1M31 275h1M33 275h1M52 275h1M5 276h2M22 276h1M25 276h1M32 276h1M44 276h1M48 276h1M56 276h1M5 277h1M12 277h1M29 277h1M25 278h1M42 278h1M56 278h1M5 279h1M9 279h1M27 279h1M43 279h1M11 280h1M13 280h1M17 280h1M25 280h2M43 280h1M52 280h1M54 280h1M40 281h1M56 281h1M16 282h1M28 282h1M9 283h1M28 283h1M30 283h1M44 283h1M55 283h1M21 284h1M32 284h1M43 284h1M46 284h1M49 284h1M3 285h1M9 285h1M14 285h1M49 285h1M5 287h2M12 287h1M14 287h1M51 287h1M56 287h1M28 288h1M35 288h1M53 288h2M17 289h1M9 290h1M17 290h2M26 290h1M32 290h1M34 290h2M34 291h1M38 291h1M41 291h1M48 291h1M50 291h1M52 291h1M57 291h1M18 292h1M44 292h2M10 293h1M13 293h1M34 293h1M57 293h1M3 294h2M7 294h1M21 294h1M54 294h1M20 295h1M53 295h1M57 295h1M18 296h1M29 296h1M38 296h2M43 296h1M55 296h1M35 297h1M8 298h1M21 298h1M43 298h1M51 298h1M55 298h1M4 299h1M8 299h1M24 299h1M35 299h1M56 299h1M3 300h3M55 300h1M29 301h1M48 301h1M55 301h1M23 302h1M37 302h1M43 302h1M53 302h1M8 303h1M52 303h1M10 304h1M20 304h1M22 304h1M34 304h1M50 304h1M5 305h1M9 305h1M11 305h1M43 305h1M48 305h1M56 305h1M4 306h1M15 306h1M34 306h1M19 307h1M32 307h1M56 307h1M0 308h1M12 308h1M33 308h1M44 308h1M47 308h1M57 308h1M10 309h1M14 309h1M51 309h2M7 310h1M12 310h1M24 310h1M19 311h2M29 311h1M40 311h1M47 312h1M57 312h1M8 313h1M35 313h1M55 313h1M0 314h1M19 314h1M42 314h1M55 314h1M14 315h2M32 315h1M37 315h1M6 316h1M12 316h1M15 316h1M23 316h1M32 316h1M35 316h1M42 316h1M50 316h1M56 316h1M3 317h2M9 317h1M15 317h1M25 317h1M10 318h2M18 318h1M29 318h1M44 318h1M51 318h1M10 319h1M22 319h1M26 319h1M52 319h2M57 319h1M21 320h1M29 320h1M54 320h1M20 321h1M32 321h1M39 321h1M55 321h1M29 322h1M47 322h1M18 323h1M23 323h1M42 323h2M49 323h1M13 325h1M20 325h1M46 325h1"/><path stroke="#0084ff" d="M49 0h2M0 1h1M46 2h1M40 4h1M52 4h1M3 5h1M11 5h1M15 5h1M30 8h1M40 8h1M39 10h2M28 11h1M2 12h1M8 12h1M18 12h1M29 12h1M54 14h1M3 15h1M10 15h1M26 15h1M47 15h1M51 15h2M10 17h1M40 17h1M52 17h1M29 18h1M40 19h1M42 19h1M55 20h1M15 21h1M11 22h1M21 22h1M56 22h1M1 23h1M7 23h1M19 23h1M23 23h1M31 23h1M37 23h1M45 23h1M5 24h2M17 24h1M57 24h1M54 25h1M28 26h1M34 26h1M52 26h1M19 27h1M23 27h1M45 27h1M49 27h1M27 28h1M30 28h1M50 28h1M53 28h1M57 29h1M5 30h1M11 30h1M48 31h1M11 32h1M56 32h1M48 33h1M0 34h1M46 34h1M51 34h1M10 35h1M21 35h1M8 36h1M12 36h1M2 37h1M9 37h3M37 37h1M13 38h1M16 38h1M18 38h1M38 38h1M47 38h2M5 40h1M11 40h1M23 40h1M43 40h2M47 40h1M46 41h1M26 42h1M54 42h1M56 42h1M13 43h1M2 44h1M17 44h1M32 44h1M49 44h1M17 45h1M29 45h1M31 45h1M33 45h1M40 45h1M44 45h1M48 45h1M6 46h1M29 46h1M37 46h1M48 46h1M54 46h1M57 46h1M42 47h1M4 48h2M15 48h1M45 48h1M2 49h1M15 49h1M22 50h1M32 50h1M13 51h1M22 53h2M27 53h1M30 53h1M40 53h1M25 54h1M29 54h1M37 54h1M44 54h1M18 55h1M25 55h2M45 55h1M18 56h1M34 56h1M41 56h1M57 56h1M18 59h1M26 59h1M39 59h1M44 59h2M50 59h1M57 59h1M50 61h1M56 61h1M3 62h1M16 63h1M39 63h2M45 63h1M55 63h1M2 64h1M31 65h1M45 65h1M14 66h1M55 66h1M17 67h1M32 67h1M38 67h1M44 67h1M56 67h2M9 68h1M26 68h1M57 68h1M24 69h1M51 69h1M27 70h1M53 70h1M11 71h1M8 72h1M11 74h1M17 74h1M41 74h1M7 75h1M9 75h1M32 75h1M46 75h1M28 76h1M37 76h1M57 76h1M16 77h1M20 77h1M34 77h1M38 77h1M44 77h1M46 77h1M54 77h1M57 77h1M9 78h1M11 78h1M22 78h2M25 78h1M27 78h1M36 78h1M30 79h1M35 79h1M43 79h1M3 80h2M16 80h1M21 80h1M26 80h1M44 80h1M54 80h1M57 80h1M15 82h2M30 82h1M33 82h1M50 82h1M57 82h1M4 83h1M12 83h1M22 83h1M50 83h1M56 83h1M8 84h1M21 84h1M23 84h1M29 84h1M37 84h1M42 84h1M46 84h1M41 85h1M46 85h1M49 85h2M52 85h1M10 86h1M12 86h1M14 86h1M43 86h1M52 86h1M55 86h1M14 87h2M25 87h1M36 87h2M43 87h1M51 87h1M54 87h1M3 88h1M14 89h1M50 89h1M5 90h1M30 90h1M43 90h1M49 90h1M39 92h1M56 92h1M12 93h1M21 93h1M30 94h1M34 94h1M40 94h1M53 94h1M18 96h1M22 96h1M26 96h1M0 97h1M39 98h1M10 100h1M16 100h1M22 100h1M27 100h1M15 101h1M24 101h1M32 101h1M45 101h1M54 101h1M28 102h1M21 103h1M28 103h1M22 104h1M33 104h1M42 104h1M45 104h1M2 105h1M19 105h1M48 105h1M0 106h1M15 108h1M17 108h1M38 108h1M41 108h2M52 108h1M56 108h1M17 109h1M20 109h1M31 109h1M45 109h1M25 110h1M33 110h1M48 110h1M55 110h2M10 111h1M37 111h1M2 112h1M21 112h1M26 112h1M43 112h1M48 112h1M50 112h1M29 113h1M31 113h1M50 113h1M52 114h1M23 117h1M56 117h1M2 120h1M17 120h1M12 121h1M43 121h1M8 122h1M15 122h1M26 122h1M35 122h1M34 124h1M51 124h1M21 125h2M25 125h1M38 125h1M47 125h1M12 129h2M22 129h1M51 130h1M53 130h1M7 132h1M10 132h2M37 132h1M21 133h1M40 133h1M48 133h1M50 133h1M54 133h1M41 134h2M48 134h1M8 135h1M16 135h1M26 135h1M34 135h2M14 136h1M17 136h1M21 136h1M45 136h1M48 136h1M50 136h2M15 137h1M28 137h1M11 139h1M33 139h1M42 139h1M3 142h1M14 142h2M22 142h1M28 142h2M47 142h1M0 144h1M21 144h1M57 144h1M52 145h1M27 146h2M1 147h1M28 148h1M44 148h1M14 149h1M18 149h1M15 152h1M30 152h1M19 154h1M22 154h1M28 154h1M34 154h1M48 154h1M6 155h1M21 155h1M57 155h1M31 156h1M10 157h1M39 158h1M41 158h1M18 159h1M0 162h2M7 162h1M11 162h1M28 162h1M40 162h1M54 162h1M0 163h1M21 163h1M27 163h1M34 163h1M44 163h1M13 166h3M17 166h1M20 166h1M12 167h1M28 167h1M56 167h1M27 168h1M29 168h1M10 169h1M13 169h1M46 169h1M56 170h1M2 171h1M15 172h1M39 172h1M43 172h1M48 172h1M29 173h1M3 174h1M15 174h2M27 174h2M31 174h1M40 174h1M0 176h1M44 176h2M48 176h1M53 176h1M4 177h1M8 177h1M39 177h1M46 177h1M50 177h1M7 179h1M10 179h1M0 180h1M45 180h1M6 181h1M13 181h1M42 181h1M45 181h3M5 182h1M27 182h1M38 182h1M49 182h1M53 182h1M34 183h1M11 184h1M27 184h1M38 184h1M18 185h1M20 185h1M42 185h1M19 186h1M57 187h1M15 188h1M43 188h1M17 191h2M45 191h1M55 191h2M9 192h1M43 192h1M26 193h1M52 193h1M54 193h3M5 196h1M40 196h1M57 196h1M38 197h1M11 198h1M44 198h2M51 198h1M17 199h1M22 199h1M4 200h1M18 200h1M46 200h1M51 200h1M5 201h1M7 201h1M16 202h1M19 202h1M57 202h1M46 203h1M0 204h1M4 204h1M52 204h2M0 205h1M9 205h1M17 205h1M22 205h1M25 205h1M15 206h1M20 206h1M30 206h1M50 206h1M54 206h1M57 206h1M18 207h1M30 207h1M38 207h1M5 208h1M19 208h1M2 210h1M52 210h1M1 212h1M5 212h1M7 212h1M13 212h1M21 212h1M41 212h1M54 212h1M11 213h1M18 213h1M31 213h1M10 214h1M16 214h1M20 214h1M22 214h1M0 215h1M4 215h1M10 215h1M32 215h1M28 216h1M16 218h1M19 218h1M37 218h1M49 218h1M12 219h1M23 219h1M12 220h1M16 220h1M33 220h1M36 220h1M39 220h1M12 221h1M23 221h1M47 222h1M20 223h1M9 224h1M24 224h1M33 224h1M57 224h1M2 226h1M13 226h1M16 226h1M32 226h1M47 226h1M57 226h1M27 227h1M48 227h1M30 229h1M25 230h1M27 230h1M44 230h1M27 232h1M39 233h1M43 233h1M6 234h1M8 234h1M26 234h1M46 234h1M48 234h1M7 236h1M16 236h1M35 236h1M52 236h2M28 237h1M30 237h1M57 237h1M10 238h1M31 238h1M53 238h1M12 239h1M17 239h1M34 239h1M47 239h1M52 239h1M26 240h1M1 241h1M45 241h1M39 242h1M44 242h1M16 243h1M38 243h1M2 244h1M9 244h1M11 244h1M29 244h1M15 245h1M13 246h1M18 246h1M2 247h1M16 247h1M22 247h1M26 247h1M29 247h3M41 247h1M43 247h1M54 247h1M15 248h1M18 248h1M25 248h1M4 249h2M24 249h1M49 249h1M56 249h1M5 250h1M41 250h1M24 251h1M49 251h1M1 252h1M3 252h1M16 252h1M17 253h1M20 253h1M52 253h1M1 254h1M17 254h1M21 254h1M23 254h1M32 254h1M36 254h1M52 254h1M54 254h1M10 255h1M13 256h1M19 256h1M33 256h1M40 256h1M42 256h1M0 257h1M28 257h2M16 258h1M34 258h1M29 259h1M37 259h1M42 259h2M47 259h1M8 260h1M14 260h2M22 260h1M27 260h1M34 260h1M9 261h1M14 261h1M16 261h1M6 262h1M38 262h2M55 262h1M3 263h1M33 264h1M8 265h1M27 265h1M36 265h1M39 265h2M46 265h1M52 265h1M0 266h1M5 266h1M9 266h1M11 266h1M32 266h1M46 266h1M4 268h1M15 268h2M23 268h1M53 268h1M3 269h1M6 269h1M33 269h1M47 269h1M52 269h1M54 269h1M21 270h1M51 270h1M7 271h1M13 272h3M21 272h1M24 272h1M30 272h1M47 272h1M19 273h1M37 273h1M49 273h1M51 273h1M15 274h1M31 274h1M51 274h1M9 275h1M13 275h1M20 275h1M22 275h1M24 275h1M26 275h1M48 275h1M56 275h2M3 276h1M33 276h1M40 276h1M43 276h1M54 276h2M3 278h1M8 278h1M15 278h2M4 279h1M7 279h1M15 279h1M18 279h1M6 280h2M19 280h1M5 282h3M23 282h1M38 282h1M44 282h1M53 282h1M5 283h1M7 283h1M18 283h1M43 283h1M3 284h1M6 284h1M22 284h1M27 284h1M7 285h1M19 285h1M21 285h1M47 285h2M16 286h1M28 286h1M7 287h1M20 287h1M41 287h1M45 287h1M47 287h1M16 288h1M19 288h1M23 288h1M7 289h1M16 289h1M25 289h1M40 289h1M45 289h1M54 289h1M7 290h1M19 290h1M24 290h1M31 290h1M46 290h2M56 290h1M15 291h1M18 291h2M24 291h1M33 291h1M35 291h1M37 291h1M42 291h4M49 291h1M1 292h1M14 292h1M25 292h1M36 292h1M54 293h3M52 294h1M18 295h1M6 296h3M20 296h1M32 296h1M0 297h1M19 297h1M32 297h1M40 297h1M4 298h2M9 298h1M53 298h2M56 298h2M1 299h1M5 299h1M13 299h1M21 299h1M32 299h1M41 299h1M44 299h1M46 299h1M7 300h1M19 300h1M26 300h1M42 300h1M23 301h1M33 301h1M41 301h1M53 301h1M4 302h1M20 302h2M35 302h1M3 303h1M31 303h1M33 303h1M45 303h1M32 304h2M44 304h1M56 304h1M1 305h1M4 305h1M28 305h2M34 305h1M13 306h2M38 306h1M47 306h2M1 307h1M6 307h1M21 307h1M27 307h1M42 307h1M2 308h1M15 308h1M20 308h1M22 308h1M39 308h1M43 308h1M18 309h2M28 309h1M44 309h1M50 309h1M53 309h1M6 310h1M15 310h1M23 310h1M25 310h1M21 311h1M48 311h1M14 312h1M21 312h1M24 312h2M27 312h1M35 312h1M43 312h1M56 312h1M37 313h1M11 314h1M16 314h1M20 314h1M24 314h1M28 314h1M30 314h2M50 314h1M7 315h1M25 315h1M28 315h1M5 316h1M18 316h1M29 316h1M44 316h2M52 316h1M1 317h1M12 317h1M34 317h1M45 317h2M26 318h1M35 318h1M50 318h1M56 318h1M15 319h1M28 319h1M30 319h1M38 319h1M10 320h1M24 320h2M41 320h1M5 321h1M19 321h1M19 322h1M54 322h1M39 323h1M44 323h1M39 324h1M10 325h1M21 325h1M40 325h1"/><path stroke="#0098ff" d="M21 1h1M19 2h1M30 3h1M2 5h1M10 5h1M32 5h1M50 5h1M57 5h1M38 6h1M10 7h1M45 9h2M47 10h1M12 12h2M53 12h1M44 14h1M4 15h1M9 15h1M15 15h1M30 15h1M39 15h1M42 15h1M0 17h1M4 17h1M49 17h2M25 18h2M53 18h1M22 19h1M39 19h1M45 19h1M34 20h2M49 22h1M6 23h1M27 23h1M35 23h1M53 23h1M7 25h1M55 25h1M4 26h2M21 26h2M27 26h1M40 26h1M51 26h1M54 26h1M5 27h1M4 28h1M52 28h1M22 32h1M1 33h2M6 33h1M12 33h1M8 34h2M26 35h1M52 35h1M49 36h1M47 37h1M7 38h1M43 38h1M45 38h1M49 38h1M52 38h1M3 39h1M10 40h1M14 40h1M17 40h1M19 40h1M35 40h1M45 40h1M54 40h1M2 42h1M4 42h1M20 42h1M25 43h1M11 44h1M20 44h1M22 44h1M28 44h2M45 44h1M23 45h1M30 45h1M39 45h1M43 45h1M45 45h1M47 45h1M49 45h1M56 45h1M25 46h1M52 46h1M45 47h1M0 48h1M20 48h1M54 48h1M18 49h2M33 49h1M54 49h1M57 49h1M36 50h2M40 50h1M43 50h1M9 51h1M39 51h1M45 52h1M48 52h1M56 52h1M8 53h1M11 53h1M31 53h2M38 53h2M47 53h1M57 53h1M1 54h1M28 54h1M15 55h2M22 55h3M40 55h1M28 56h1M6 57h1M9 59h1M22 59h1M47 62h2M2 63h1M10 63h1M50 63h1M4 66h1M30 66h1M43 66h1M57 66h1M9 67h3M16 67h1M21 67h1M34 67h1M49 67h2M27 68h1M49 68h1M52 69h1M15 70h1M26 70h1M43 70h1M45 70h1M54 70h1M9 71h1M13 71h1M30 71h1M49 71h1M52 71h1M30 73h1M38 73h2M18 74h1M29 74h1M28 75h1M35 75h2M45 75h1M25 76h1M28 77h1M4 78h1M28 78h1M38 78h1M41 78h1M43 78h1M46 78h1M19 80h1M40 80h1M49 80h1M46 82h1M7 83h1M16 83h1M21 83h1M35 83h1M41 83h1M2 84h1M11 84h1M13 84h2M18 84h2M30 84h1M43 84h1M45 84h1M47 85h1M13 86h1M36 86h1M44 86h1M26 87h1M29 87h1M32 87h1M35 87h1M49 87h1M57 87h1M27 88h1M9 89h1M13 89h1M15 89h1M13 90h1M20 90h1M22 93h1M13 94h1M35 94h1M51 94h1M18 95h1M37 95h1M21 97h1M38 97h1M47 98h1M33 99h1M35 99h1M1 100h2M35 100h2M40 100h1M45 100h1M7 101h1M41 101h1M43 101h1M10 104h1M0 105h1M8 105h1M6 106h1M51 106h1M0 107h1M13 108h1M47 108h1M39 109h1M28 110h1M45 110h1M51 110h1M50 111h1M1 112h1M24 112h1M39 113h1M2 114h1M18 115h1M30 115h1M9 117h1M40 119h1M45 119h1M5 120h1M34 120h1M4 121h1M11 121h1M38 121h1M43 122h1M8 123h1M31 123h1M13 125h1M18 125h1M28 125h1M42 125h2M20 126h1M38 126h1M52 127h1M27 128h1M14 130h1M20 130h1M50 130h1M38 132h1M0 133h1M5 133h1M5 135h1M12 135h2M21 135h1M37 135h1M40 135h1M44 135h1M50 135h1M10 136h1M18 136h1M52 136h1M57 136h1M4 139h1M31 139h2M50 139h1M53 139h1M44 141h1M7 142h1M18 142h1M57 143h1M30 144h1M46 144h1M0 147h1M30 148h2M17 149h1M35 150h1M0 151h1M2 151h1M21 151h1M49 151h1M57 151h1M6 153h1M23 153h1M50 154h1M43 156h1M2 157h1M38 157h1M46 157h1M34 158h1M31 159h1M51 159h1M7 160h1M40 161h1M6 162h1M15 164h1M29 165h1M19 166h1M38 166h1M25 167h1M21 168h1M48 168h1M53 168h1M12 169h1M45 169h1M47 169h1M27 170h1M7 171h1M22 172h1M28 172h1M38 172h1M40 172h1M30 173h1M41 175h1M43 176h1M50 178h1M11 179h1M30 180h1M52 180h1M7 181h1M9 181h1M12 181h1M14 181h2M40 181h1M44 181h1M7 182h1M18 182h1M34 182h1M51 182h1M54 183h1M10 184h1M18 184h1M33 184h1M10 188h1M13 188h1M17 188h1M29 188h1M41 188h1M57 188h1M39 191h1M22 193h1M39 193h1M47 193h1M53 193h1M57 193h1M21 196h1M16 199h1M8 200h1M44 200h1M4 202h1M25 202h1M19 203h1M23 203h1M57 203h1M11 204h1M25 204h1M38 204h1M41 205h1M50 205h1M56 205h2M8 206h1M10 206h1M28 206h1M31 206h1M49 206h1M19 207h1M52 207h1M2 208h1M19 209h1M12 210h1M20 210h1M36 210h1M38 210h1M30 211h1M36 211h1M8 212h2M15 212h2M44 212h1M52 212h1M8 213h1M10 213h1M43 213h1M36 214h1M43 214h2M57 214h1M9 215h1M25 215h1M1 216h1M9 216h2M29 217h1M44 217h1M27 218h1M50 218h1M38 219h1M9 220h1M11 220h1M38 220h1M13 221h1M27 221h1M46 221h2M49 221h1M56 221h1M17 222h1M37 222h1M21 223h1M12 224h1M1 227h2M52 228h1M45 229h1M10 230h1M13 230h1M15 230h1M26 230h1M56 230h1M55 231h1M38 234h1M9 236h1M12 236h1M6 237h2M29 237h1M6 238h1M2 239h1M8 239h1M13 239h1M16 239h1M19 239h1M27 239h1M29 239h1M33 239h1M35 239h1M45 239h1M48 239h1M22 241h1M46 241h1M17 242h1M25 242h1M38 242h1M37 243h1M39 243h1M6 244h1M47 245h1M7 246h1M19 246h1M6 247h1M21 247h1M23 247h3M52 247h1M17 248h1M26 248h1M29 248h1M44 248h1M6 249h1M11 249h2M25 249h1M27 249h1M35 249h1M44 249h1M52 249h1M11 250h1M32 250h1M0 251h1M11 253h1M14 253h1M30 253h1M15 254h2M19 254h1M18 255h1M22 255h1M18 256h1M27 256h1M39 256h1M35 257h1M2 259h1M8 259h1M16 259h1M21 259h1M24 259h2M16 260h2M48 260h1M32 261h1M3 262h1M21 263h1M2 264h1M20 264h1M24 264h2M31 264h1M38 264h1M40 264h1M7 265h1M11 265h1M13 265h1M15 265h1M21 265h1M35 265h1M5 267h1M16 267h1M38 267h1M52 267h2M57 267h1M6 268h1M25 268h2M11 269h1M13 269h1M15 269h1M20 269h1M30 269h1M32 269h1M2 270h1M8 270h2M12 270h1M16 270h1M28 270h2M38 270h1M49 270h1M52 270h1M2 271h1M9 271h1M16 271h1M12 272h1M42 272h1M51 272h1M35 273h2M50 273h1M27 274h1M9 276h2M13 276h1M17 276h1M20 276h1M24 276h1M29 276h1M57 276h1M0 278h1M17 278h1M23 278h1M26 278h1M31 278h1M19 279h3M23 279h1M26 279h1M30 279h1M30 280h1M49 280h1M51 280h1M3 281h1M2 282h1M9 282h2M14 282h1M27 282h1M30 282h1M33 282h1M49 282h1M56 282h1M0 283h1M2 283h1M22 283h2M26 283h1M32 283h1M37 283h1M49 283h1M51 283h1M54 283h1M0 284h1M15 284h1M18 284h1M27 285h1M13 286h1M17 286h1M17 288h1M26 288h1M30 288h1M8 289h1M18 289h1M29 289h1M32 289h1M39 289h1M41 289h1M47 289h1M2 290h1M22 290h1M38 290h1M45 290h1M48 290h1M54 290h1M11 291h1M27 291h1M5 292h1M11 292h1M13 292h1M32 292h1M32 293h1M45 294h1M53 294h1M24 295h1M28 295h1M42 295h1M45 295h1M55 295h1M2 296h1M16 296h1M23 296h1M31 296h1M36 296h1M4 297h1M14 297h1M33 297h1M41 297h1M11 298h1M16 298h1M0 299h1M9 299h2M17 299h1M22 299h1M31 299h1M53 299h1M9 300h1M35 300h1M53 300h1M10 301h1M18 301h1M30 301h1M1 302h1M16 302h1M18 302h1M34 302h1M47 302h2M57 302h1M4 303h1M19 303h1M21 303h1M25 303h1M29 303h1M42 303h1M50 303h1M2 304h1M19 305h2M25 305h1M52 305h1M0 306h1M3 306h1M17 306h1M26 306h1M28 306h1M57 306h1M15 307h2M23 307h1M25 307h1M28 307h2M37 307h1M40 307h1M31 308h1M37 308h1M53 308h1M33 309h1M35 309h3M55 309h1M4 310h1M8 310h2M29 310h1M36 310h1M43 310h1M47 310h1M35 311h1M47 311h1M0 312h1M11 312h1M20 312h1M7 313h1M15 313h1M17 313h1M22 313h1M17 314h1M22 314h1M33 314h2M37 314h1M40 314h1M46 314h1M24 315h1M31 315h1M7 316h1M16 316h1M27 316h1M51 316h1M54 316h1M14 317h1M16 317h1M18 317h1M30 317h1M36 317h1M57 317h1M1 318h1M22 318h2M6 319h1M11 319h1M18 319h1M24 319h1M44 319h1M56 319h1M35 320h1M42 320h1M46 320h1M48 320h1M34 321h1M41 321h1M48 321h1M53 321h1M20 322h1M42 322h2M50 322h1M53 323h1M25 324h1M46 324h3M3 325h1M19 325h1M53 325h1M46 326h1"/><path stroke="#00b0ff" d="M31 3h1M41 4h1M13 6h1M20 8h1M2 10h1M30 11h2M35 11h1M48 12h1M51 12h1M33 15h1M45 15h1M54 15h1M33 16h1M7 18h2M36 20h1M16 21h1M54 22h1M5 23h1M38 23h1M39 25h1M53 25h1M2 26h1M48 26h1M19 28h1M28 28h1M18 30h1M19 31h1M16 33h1M27 33h1M22 34h1M45 34h1M8 37h1M36 37h1M40 38h1M52 40h1M12 44h1M14 44h1M57 44h1M34 45h1M57 45h1M23 46h1M46 47h1M48 47h1M16 48h1M24 48h1M3 51h1M52 52h1M57 52h1M33 53h1M52 53h1M21 55h1M28 55h1M46 55h1M50 58h1M13 59h1M23 59h1M46 61h1M29 62h1M45 62h2M4 63h1M12 63h1M29 63h1M52 63h1M54 63h1M12 66h2M45 66h1M42 67h1M40 68h1M44 69h1M50 69h1M7 70h1M34 70h1M36 70h1M44 70h1M14 71h1M57 71h1M31 74h1M0 75h1M8 75h1M27 75h1M29 75h2M38 75h2M57 75h1M31 76h1M43 76h1M56 76h1M31 77h2M8 78h1M40 78h1M42 78h1M26 79h1M40 79h1M27 80h1M6 82h2M21 82h1M25 82h2M28 82h1M32 83h1M36 83h2M40 83h1M48 83h1M53 83h1M55 83h1M22 84h1M22 85h1M33 85h1M39 85h1M6 86h1M42 86h1M47 86h3M16 87h1M18 87h2M41 87h1M56 87h1M10 89h1M25 89h1M45 89h1M50 90h1M56 90h1M10 91h1M22 91h1M25 91h1M34 91h1M48 91h1M45 94h1M1 95h1M19 95h1M56 95h1M27 96h1M2 97h1M45 98h1M37 99h1M45 99h1M7 100h2M14 100h1M34 100h1M39 100h1M42 100h2M20 101h1M26 101h1M33 101h1M40 101h1M48 101h1M53 101h1M48 103h1M19 104h1M21 104h1M38 104h1M52 104h1M53 107h1M8 108h1M51 108h1M57 108h1M21 109h1M54 110h1M44 111h1M4 112h1M17 112h1M30 113h1M26 115h2M10 117h1M25 120h2M9 122h3M31 122h1M26 125h1M53 127h1M19 130h1M50 131h1M25 133h1M56 133h1M49 134h1M0 135h1M6 135h1M46 136h2M34 139h1M44 139h1M47 139h1M49 139h1M55 139h1M28 140h1M2 142h1M30 142h1M19 144h1M0 148h1M22 149h1M20 151h1M25 151h1M2 153h1M22 153h1M31 153h1M57 153h1M20 154h1M45 154h1M22 155h1M31 155h1M37 157h1M32 158h1M38 158h1M0 159h1M20 159h1M3 160h1M8 162h1M9 163h1M19 163h1M28 163h1M2 167h1M27 167h1M10 168h1M31 170h1M12 171h1M19 172h1M27 172h1M19 174h1M42 174h1M40 175h1M13 176h1M22 177h1M36 177h1M18 180h1M29 180h1M41 180h1M5 181h1M8 181h1M31 181h1M38 181h1M56 181h1M17 183h1M16 184h1M19 184h1M21 184h1M28 184h1M50 184h1M13 185h1M33 185h1M38 187h1M16 188h1M46 188h1M5 191h1M54 192h1M8 193h1M15 193h1M37 193h1M46 193h1M50 193h1M45 194h1M12 195h1M18 195h1M18 199h1M9 201h1M34 201h1M47 202h1M8 205h1M10 205h1M26 205h1M2 206h1M46 206h1M11 210h1M19 211h1M33 211h1M18 212h1M33 212h2M37 213h1M41 213h1M2 214h1M50 214h1M12 215h1M20 215h1M24 215h1M28 215h1M30 215h1M26 218h1M24 219h1M19 221h1M24 221h1M57 221h1M9 222h1M28 223h1M4 226h1M10 226h1M19 226h1M14 230h1M56 231h1M2 232h1M4 236h1M11 236h1M21 236h1M50 236h1M15 237h1M20 237h1M43 237h1M37 239h1M44 239h1M16 241h1M23 241h1M54 242h1M56 242h1M17 243h1M53 243h1M12 246h1M20 246h1M44 247h1M51 247h1M57 247h1M46 248h1M1 249h1M20 249h1M22 249h1M42 249h1M8 250h2M18 251h1M35 251h2M38 251h1M43 251h1M2 252h1M13 252h1M50 252h2M2 253h1M16 253h1M46 253h1M20 254h1M22 254h1M55 254h1M25 255h1M56 255h1M10 259h1M8 261h1M15 261h1M17 261h1M50 261h1M7 262h1M18 262h1M32 263h1M49 263h1M9 264h2M1 265h1M4 265h1M33 265h1M4 266h1M7 266h2M19 266h1M22 266h1M28 266h1M40 266h1M0 267h1M9 267h1M32 267h1M40 267h1M45 267h1M9 268h1M18 268h1M29 268h1M16 269h1M29 269h1M31 269h1M36 269h1M5 270h1M13 270h1M20 270h1M37 270h1M45 270h1M23 271h1M55 271h1M2 272h1M27 272h1M50 272h1M1 273h1M9 273h1M0 274h1M3 275h1M10 275h1M19 275h1M50 275h1M0 276h1M12 276h1M18 276h1M38 276h1M50 276h1M53 276h1M2 277h1M18 277h1M36 277h1M5 278h1M9 278h1M12 278h1M34 278h1M10 279h1M47 279h1M57 279h1M14 280h1M23 280h1M40 280h1M11 281h1M12 282h1M31 282h1M43 282h1M3 283h1M12 283h1M16 283h1M21 283h1M24 283h1M42 283h1M50 283h1M52 283h1M4 284h1M19 284h1M25 284h2M33 284h1M35 284h1M31 285h1M50 285h1M0 287h1M3 287h2M13 287h1M21 287h1M29 287h1M33 287h1M40 287h1M12 288h1M18 288h1M20 288h1M31 288h1M0 289h1M52 289h1M4 290h1M14 290h1M57 290h1M7 291h2M26 291h1M19 292h1M22 292h1M30 292h1M43 292h1M47 293h1M7 295h1M9 295h1M19 295h1M23 295h1M39 295h2M46 295h1M33 296h1M56 296h1M39 297h1M25 298h1M11 299h1M19 299h1M0 300h1M16 300h1M29 300h1M51 300h1M15 301h1M49 301h1M8 302h1M17 302h1M33 302h1M36 302h1M41 302h1M56 302h1M5 303h1M30 303h1M16 304h1M45 304h1M33 305h1M46 305h1M53 305h1M7 306h1M4 307h2M7 307h1M14 307h1M30 307h1M48 307h2M48 308h2M52 308h1M5 309h1M9 309h1M30 309h1M28 310h1M31 310h3M37 310h1M56 310h2M9 312h2M13 312h1M41 312h1M2 313h1M4 313h2M16 313h1M18 313h1M28 313h1M31 313h1M33 313h1M39 313h1M44 313h1M52 313h1M54 313h1M57 313h1M36 314h1M39 314h1M41 314h1M57 314h1M6 315h1M36 315h1M47 315h2M8 316h1M24 316h1M19 317h1M44 317h1M7 318h1M16 318h2M24 318h1M2 319h1M4 319h1M13 319h1M16 319h2M19 319h1M55 319h1M20 320h1M39 320h1M57 320h1M7 321h1M10 321h1M24 321h1M37 321h1M4 322h1M40 322h1M46 322h1M11 323h1M50 323h1M26 324h1M40 324h1M24 325h1M39 325h1M54 325h1M20 326h1M41 326h1M39 327h1"/><path stroke="#00c4ff" d="M45 1h1M49 5h1M57 11h1M10 12h1M2 15h1M34 15h1M37 15h1M41 15h1M28 16h1M18 17h1M53 21h1M50 23h1M2 24h1M34 24h1M6 26h1M16 26h3M33 26h1M53 26h1M57 26h1M22 30h1M45 33h1M49 33h1M14 34h1M52 34h1M57 35h1M12 37h1M21 38h1M34 38h1M22 40h1M48 40h1M53 40h1M3 42h1M28 45h1M22 46h1M44 46h1M17 48h1M52 48h1M10 52h1M14 52h1M39 52h1M47 52h1M14 53h1M12 55h1M20 55h1M22 56h1M38 57h1M7 58h1M2 59h1M46 59h1M55 61h1M28 62h1M30 62h1M57 62h1M3 64h1M6 67h1M26 67h1M36 67h1M48 67h1M52 67h1M6 70h1M25 70h1M12 71h1M21 71h1M11 72h1M27 73h1M30 74h1M17 75h1M45 78h1M53 78h1M3 79h1M37 79h1M41 80h1M2 82h1M29 82h1M33 83h1M51 83h1M36 84h1M45 86h1M1 87h1M10 87h1M13 87h1M20 87h1M46 87h1M29 88h1M0 90h1M18 91h1M20 91h1M31 94h1M7 99h5M39 99h1M56 99h2M38 100h1M41 100h1M46 100h1M14 101h1M19 101h1M42 101h1M11 104h1M5 105h1M21 105h1M34 105h1M27 108h1M49 108h1M20 110h1M52 110h1M39 112h1M41 113h1M57 115h1M18 119h1M57 120h1M2 121h1M36 122h1M21 123h1M19 125h1M57 130h1M22 133h1M2 135h1M41 135h1M6 139h1M40 139h1M45 139h2M34 142h1M55 142h1M21 145h1M45 145h1M49 147h1M53 148h1M21 149h1M24 151h1M16 156h1M39 157h1M2 162h1M8 163h1M47 163h2M2 166h1M11 167h1M41 168h2M29 169h1M52 172h1M36 174h1M22 175h1M46 176h1M2 177h1M13 177h1M51 177h1M26 179h1M42 180h2M41 181h1M6 182h1M16 182h1M28 183h1M38 183h1M7 188h1M55 188h1M8 191h1M10 191h1M9 193h1M34 193h1M15 195h1M48 198h1M30 199h1M43 200h1M13 204h1M40 204h1M7 205h1M18 206h1M2 212h2M51 212h1M36 213h1M21 214h1M18 218h1M28 218h1M14 219h1M0 221h1M18 222h1M2 223h1M28 229h1M11 230h1M21 230h1M47 230h1M15 234h1M13 236h1M17 236h1M31 236h1M34 236h1M3 237h1M14 237h1M9 239h1M14 239h1M30 239h1M50 239h1M0 240h1M37 242h1M48 242h1M51 242h1M9 246h1M15 247h1M17 247h1M39 247h1M50 247h1M9 248h1M0 249h1M21 249h1M37 249h1M57 249h1M37 251h1M39 251h1M22 252h1M43 252h1M44 253h1M50 253h1M42 255h1M11 256h1M28 256h1M27 257h1M38 257h1M31 261h1M49 261h1M12 262h1M14 262h1M28 262h1M22 264h1M55 264h1M2 265h1M9 265h1M31 265h1M57 265h1M18 266h1M20 266h1M27 266h1M29 266h1M14 267h2M18 267h1M21 267h2M31 267h1M28 268h1M48 268h1M17 269h1M19 269h1M27 269h1M39 269h1M44 272h2M54 272h1M4 273h1M11 273h1M14 273h1M56 273h1M2 275h1M49 275h1M2 276h1M4 276h1M7 276h1M15 276h1M21 276h1M28 276h1M33 278h1M51 278h1M20 280h1M28 280h1M56 280h1M45 281h1M36 282h1M45 282h1M19 283h1M25 283h1M40 283h2M48 283h1M2 284h1M5 284h1M20 284h1M29 284h1M34 284h1M53 284h1M15 285h1M30 285h1M33 285h1M19 287h1M30 287h1M42 287h1M7 288h1M27 289h1M1 291h1M6 291h1M10 291h1M21 291h1M25 291h1M7 292h1M33 292h1M16 293h2M22 293h1M26 293h1M43 293h1M53 293h1M6 294h1M2 295h1M8 295h1M30 295h1M43 295h2M5 296h1M52 296h1M3 298h1M18 298h1M18 299h1M25 299h1M37 299h1M45 299h1M17 300h2M17 301h1M19 302h1M28 302h1M55 302h1M41 303h1M44 303h1M8 304h1M19 304h1M3 305h1M21 305h1M45 305h1M2 306h1M6 306h1M8 306h1M25 306h1M12 307h1M52 307h1M18 308h1M54 308h1M1 309h1M3 309h1M16 309h2M26 309h1M49 309h1M35 310h1M5 311h1M14 311h1M30 311h1M36 311h1M49 311h1M52 311h1M54 311h1M57 311h1M12 312h1M14 313h1M19 313h1M24 313h1M7 314h1M14 314h1M47 314h1M16 315h1M21 315h3M29 315h1M44 315h1M46 315h1M54 315h1M57 315h1M17 316h1M31 316h1M13 317h1M56 317h1M8 318h2M13 318h1M21 318h1M25 318h1M30 318h2M27 319h1M53 320h1M2 321h1M13 321h1M56 321h1M26 322h1M28 322h1M37 322h1M45 322h1M1 323h1M24 323h1M23 324h1M2 325h1M28 325h1M51 325h1M48 326h1M35 327h1"/><path stroke="#00dcfe" d="M2 4h1M39 5h1M27 6h1M34 11h1M50 14h1M8 15h1M17 17h1M20 17h1M48 17h1M54 19h1M0 24h1M18 25h1M3 26h1M30 26h1M38 26h1M26 28h1M15 34h1M50 34h1M43 36h1M20 38h1M39 38h1M46 38h1M50 38h1M18 40h1M37 40h1M56 41h2M22 45h1M32 45h1M38 45h1M9 46h1M27 46h2M2 48h1M6 48h1M31 50h1M19 53h1M21 53h1M34 53h1M46 53h1M27 55h1M47 59h1M8 63h1M17 63h1M19 63h1M53 63h1M4 67h1M55 67h1M33 70h1M33 77h1M47 77h1M53 77h1M18 80h1M45 80h1M53 80h1M27 82h1M43 82h3M2 83h1M34 83h1M33 84h1M54 86h1M0 87h1M2 87h1M33 87h1M52 87h1M2 90h2M57 90h1M2 91h1M13 93h1M26 94h1M52 94h1M22 97h1M36 99h1M9 100h1M34 101h1M10 108h1M38 109h1M53 110h1M24 115h1M19 119h1M22 121h1M57 125h1M18 126h1M52 130h1M43 131h1M44 132h1M8 134h1M3 139h1M39 139h1M31 142h1M22 144h1M34 144h1M22 145h1M50 147h1M52 150h1M4 151h1M48 151h1M28 153h1M36 157h1M2 160h1M9 168h1M43 168h1M33 170h1M4 173h1M43 174h1M15 176h1M40 180h1M4 181h1M21 181h1M32 181h1M36 181h1M43 181h1M50 181h1M34 184h1M56 188h1M8 192h1M48 193h1M13 195h1M49 198h1M8 201h1M6 204h1M9 206h1M32 206h1M56 207h1M34 210h1M42 212h1M9 213h1M48 217h1M4 220h1M19 223h1M35 223h1M31 230h1M40 232h1M47 234h1M50 234h1M16 237h1M56 237h1M10 239h1M36 239h1M49 239h1M57 239h1M2 241h1M31 244h1M11 247h1M45 247h1M55 247h1M16 248h1M10 249h1M13 249h1M28 249h1M51 249h1M7 250h1M26 252h1M21 253h1M33 254h1M29 256h1M15 258h1M26 261h1M29 262h1M35 262h1M19 264h1M53 264h1M32 265h1M37 265h1M30 267h1M18 269h1M22 269h1M28 269h1M10 270h1M18 270h1M39 270h1M50 270h1M38 271h1M11 272h1M19 272h1M43 272h1M6 273h1M13 273h1M18 273h1M43 274h1M17 275h1M11 276h1M0 277h1M19 277h1M2 278h1M0 279h1M22 279h1M2 281h1M21 281h1M1 283h1M8 283h1M13 283h1M17 283h1M38 283h1M11 284h1M45 284h1M50 284h1M0 285h1M28 285h1M31 286h1M57 287h1M27 288h1M29 288h1M3 289h2M13 289h1M25 290h1M50 290h1M40 291h1M51 291h1M6 292h1M26 292h1M31 292h1M27 293h1M5 294h1M12 295h1M15 295h1M17 295h1M32 295h1M49 295h1M57 296h1M28 297h1M2 298h1M30 298h1M29 299h1M33 299h1M26 301h1M3 302h1M7 302h1M31 302h2M39 302h1M45 302h1M49 302h1M12 303h1M57 303h1M6 304h1M9 304h1M57 304h1M6 305h1M13 305h1M22 305h1M24 305h1M35 305h1M40 305h1M42 305h1M9 306h2M43 306h1M8 307h1M17 307h1M31 307h1M38 307h1M41 307h1M34 308h1M32 309h1M54 309h1M56 309h1M10 310h1M44 310h2M52 310h1M8 311h1M22 311h1M24 311h3M34 311h1M22 312h1M1 313h1M3 313h1M41 313h1M3 314h1M6 314h1M15 314h1M23 314h1M2 315h1M39 315h1M51 315h1M21 316h1M30 316h1M34 316h1M57 316h1M35 317h1M52 317h1M21 319h1M35 319h1M43 319h1M0 320h1M11 320h1M14 320h1M16 320h1M36 320h1M38 320h1M50 320h1M3 321h1M14 321h1M33 321h1M51 321h1M41 322h1M49 322h1M51 322h1M53 322h1M4 323h1M17 323h1M31 323h1M47 323h2M22 324h1M31 324h1M11 325h1M13 326h1M40 326h1M50 326h1"/><path stroke="#09f0ee" d="M52 5h1M52 8h1M26 11h1M3 12h1M11 12h1M50 12h1M16 14h1M49 14h1M7 15h1M56 17h1M54 18h1M57 18h1M43 19h2M20 23h1M26 23h1M46 23h1M48 23h1M51 23h2M22 27h1M8 33h1M57 37h1M39 41h1M19 44h1M30 44h1M52 45h1M46 46h1M38 48h1M30 50h1M4 55h1M45 57h1M28 63h1M15 67h1M37 67h1M10 78h1M37 78h1M13 82h1M40 82h2M15 83h1M49 83h1M3 87h1M9 87h1M47 90h1M19 91h1M14 93h1M32 94h1M9 97h1M6 101h1M21 101h1M36 101h1M52 101h1M9 108h1M18 109h1M10 110h1M3 120h1M23 121h1M11 133h1M45 135h1M48 139h1M52 139h1M35 144h1M27 154h1M6 160h1M22 163h1M11 169h1M3 177h1M29 181h1M37 181h1M39 181h1M17 184h1M49 193h1M37 204h1M49 204h1M11 206h1M56 206h1M17 212h1M22 215h1M26 215h1M13 220h1M10 221h2M38 221h1M17 225h1M3 226h1M18 226h1M19 230h1M22 230h1M15 236h1M33 236h1M52 243h1M30 244h1M8 247h1M2 249h1M7 249h1M40 249h1M22 253h1M18 254h1M14 256h2M23 259h1M1 262h1M15 262h1M17 262h1M26 262h1M30 262h1M43 262h1M57 262h1M0 263h1M57 263h1M15 264h1M52 264h1M57 264h1M26 265h1M2 266h1M14 269h1M36 270h1M35 271h1M20 272h1M16 276h1M27 276h1M21 278h1M28 279h1M50 280h1M29 281h1M3 282h1M19 282h1M24 282h1M35 282h1M15 283h1M34 283h1M16 284h1M47 284h1M34 285h1M1 287h1M43 287h1M1 289h1M33 289h1M35 289h1M3 291h1M22 291h1M8 292h1M50 292h1M4 293h1M31 293h1M1 295h1M25 295h1M34 295h1M52 295h1M9 296h1M12 296h1M21 296h1M5 297h1M12 297h1M20 297h2M16 299h1M38 299h1M40 299h1M11 301h1M27 302h1M44 302h1M46 302h1M51 302h1M23 303h1M28 303h1M49 303h1M10 305h1M26 305h1M29 306h1M56 306h1M20 307h1M24 307h1M26 307h1M46 307h1M12 309h1M21 309h1M3 310h1M30 310h1M54 310h2M9 311h1M13 311h1M28 311h1M50 311h1M55 311h1M2 312h1M19 312h1M6 313h1M30 313h1M46 313h1M53 313h1M25 314h1M27 314h1M32 314h1M8 315h1M19 315h2M45 315h1M3 316h1M11 316h1M40 316h2M2 317h1M5 317h2M28 318h1M34 318h1M5 319h1M7 319h1M29 319h1M31 319h1M54 319h1M19 320h1M26 320h1M8 321h1M17 321h2M28 321h1M45 321h1M49 321h1M10 322h1M34 322h1M44 322h1M52 322h1M10 323h1M35 323h1M37 323h1M54 323h1M57 323h1M42 324h1M4 325h1M23 325h1M25 325h1M44 325h1M17 326h1M19 326h1M26 326h1"/><path stroke="#1cffdb" d="M27 11h1M30 12h1M49 12h1M11 15h1M31 15h1M19 17h1M19 38h1M21 40h1M36 40h1M21 42h1M8 46h1M37 48h1M10 53h1M13 53h1M13 55h1M45 77h1M26 78h1M34 82h1M52 82h1M38 83h2M52 83h1M4 87h1M27 87h1M31 87h1M34 87h1M51 88h1M54 88h1M38 99h1M0 100h1M37 100h1M25 101h1M43 132h1M43 139h1M35 142h1M39 180h1M1 181h1M3 181h1M27 181h1M30 181h1M38 193h1M50 198h1M34 200h1M21 215h1M1 220h1M0 237h1M2 237h1M55 242h1M50 249h1M22 259h1M13 262h1M2 263h1M6 264h1M21 264h1M23 264h1M56 264h1M12 265h1M16 265h1M29 265h1M2 267h1M4 267h1M25 269h1M34 269h1M43 269h1M30 270h1M18 272h1M50 274h1M23 276h1M52 276h1M19 278h1M16 280h1M57 280h1M15 282h1M21 282h1M26 282h1M37 282h1M57 282h1M8 284h3M12 284h1M14 284h1M52 284h1M8 287h2M18 287h1M50 287h1M5 290h1M23 292h1M21 293h1M48 293h1M52 293h1M4 295h1M16 295h1M22 295h1M26 295h1M31 295h1M41 295h1M47 295h1M13 296h1M15 296h1M2 299h1M26 299h1M57 300h1M2 301h1M6 302h1M10 302h1M12 302h1M52 302h1M9 303h1M13 303h1M15 303h1M26 303h2M11 304h1M37 305h2M41 305h1M49 305h1M57 305h1M11 306h1M9 307h1M11 307h1M45 307h1M35 308h1M4 309h1M20 309h1M34 309h1M45 309h1M11 310h1M14 310h1M4 312h1M43 315h1M9 316h1M12 319h1M51 319h1M7 320h1M15 320h1M34 320h1M56 320h1M15 321h1M38 321h1M14 322h1M21 322h1M23 322h1M27 322h1M31 322h1M55 322h2M56 323h1M10 324h1M50 324h1M12 325h1M42 325h1M18 326h1M21 326h1M28 326h1M34 327h1M40 327h1"/><path stroke="#2cffca" d="M31 13h1M36 13h1M32 15h1M38 25h1M0 26h1M21 34h1M7 46h1M18 63h1M44 78h1M3 84h1M10 84h1M28 87h1M52 88h1M29 90h1M15 100h1M42 113h1M38 139h1M15 159h1M4 167h1M28 181h1M47 208h1M2 220h2M0 222h1M3 240h1M7 247h1M2 254h1M4 262h1M31 262h1M56 262h1M14 264h1M30 264h1M28 267h1M26 269h1M37 269h1M49 272h1M11 278h1M21 280h1M29 280h1M20 283h1M33 283h1M28 284h1M48 284h1M26 289h1M28 289h1M33 290h1M23 291h1M28 291h1M6 293h1M18 293h2M29 293h1M10 295h1M13 295h1M29 295h1M10 296h2M28 296h1M22 297h1M17 298h1M3 299h1M6 299h1M15 299h1M27 299h2M30 299h1M22 301h1M40 302h1M2 305h1M17 305h1M30 305h1M11 309h1M25 309h1M57 309h1M7 311h1M18 311h1M32 311h2M41 311h1M44 311h1M21 313h1M21 314h1M26 314h1M35 314h1M49 314h1M12 315h1M4 316h1M36 316h1M11 317h1M26 317h1M0 318h1M6 318h1M33 318h1M8 320h1M33 320h1M43 320h1M27 321h1M40 321h1M43 321h1M57 321h1M24 322h1M39 322h1M2 323h1M13 323h1M15 323h1M6 325h1M18 325h1M34 325h2M37 325h1M22 326h1"/><path stroke="#3cffba" d="M31 12h1M36 12h1M25 26h1M12 53h1M17 80h1M53 88h1M54 135h1M5 167h1M0 181h1M2 181h1M50 199h1M52 199h1M45 208h1M48 208h1M9 247h1M12 247h1M8 249h1M16 249h1M41 249h1M0 254h1M0 265h1M21 269h1M11 270h1M4 275h1M37 276h1M2 279h1M22 280h1M18 282h1M20 282h1M22 282h1M2 287h1M10 287h1M28 287h1M2 289h1M0 291h1M20 291h1M9 292h1M5 293h1M30 293h1M5 295h1M11 295h1M27 295h1M33 295h1M38 295h1M48 295h1M51 295h1M22 296h1M6 297h1M13 297h1M10 298h1M7 299h1M39 299h1M13 302h1M26 302h1M42 302h1M54 302h1M39 305h1M16 306h1M44 307h1M57 307h1M13 309h1M22 309h1M24 309h1M17 311h1M0 313h1M11 313h1M25 313h1M29 313h1M18 314h1M38 314h1M48 314h1M5 315h1M30 315h1M33 315h3M22 316h1M10 317h1M18 320h1M37 320h1M51 320h1M42 321h1M11 322h1M13 322h1M38 322h1M12 323h1M20 323h1M41 324h1M54 324h1M1 325h1M29 325h1M31 325h1M43 325h1M45 325h1M55 325h1M23 326h1M29 326h1M50 327h1"/><path stroke="#50ffa7" d="M4 85h2M44 128h2M52 135h1M15 158h1M18 158h1M16 159h1M51 199h1M44 208h1M46 208h1M13 247h1M10 265h1M30 265h1M21 266h1M57 270h1M8 276h1M14 276h1M20 278h1M21 292h1M20 293h1M28 293h1M3 295h1M21 295h1M39 301h1M50 302h1M7 305h1M18 305h1M12 306h1M2 307h1M18 307h1M2 309h1M46 309h2M10 311h1M45 311h1M26 312h1M9 313h1M27 313h1M2 314h1M11 315h1M0 316h2M13 316h1M25 316h2M14 318h1M36 319h1M27 320h1M45 320h1M22 321h1M29 321h1M46 321h1M5 322h1M7 322h1M17 322h2M25 322h1M0 323h1M7 325h1M27 325h1M12 326h1M14 326h2"/><path stroke="#60ff97" d="M44 131h1M46 131h1M53 135h1M17 159h1M12 173h1M14 173h1M43 208h1M12 242h1M2 262h1M38 269h1M2 273h1M18 278h1M3 279h1M13 282h1M25 282h1M7 284h1M11 287h1M2 291h1M34 299h1M2 302h1M11 302h1M36 305h1M10 307h1M0 309h1M41 309h3M3 311h2M27 311h1M8 314h1M50 315h1M14 316h1M5 318h1M15 318h1M28 320h1M32 320h1M9 321h1M21 321h1M31 321h1M47 321h1M32 323h1M36 323h1M46 323h1M51 323h1M5 324h1M7 324h1M32 324h1M49 324h1M5 325h1M9 325h1M14 325h1M45 326h1M15 327h1"/><path stroke="#73ff83" d="M9 249h1M29 267h1M13 284h1M27 287h1M6 295h1M17 303h1M8 305h1M27 309h1M11 311h1M43 311h1M12 313h2M43 313h1M3 315h1M17 315h1M50 319h1M30 320h1M6 322h1M1 324h1M8 324h2M17 324h1M16 325h1M33 325h1M52 325h1M49 326h1M14 327h1M28 327h1M43 327h1M47 327h1"/><path stroke="#83ff73" d="M46 126h1M45 127h1M49 127h1M45 131h1M46 132h1M56 171h2M13 173h1M0 186h1M15 242h1M12 243h1M21 273h1M4 291h1M50 295h1M16 303h1M8 309h1M53 310h1M15 311h1M46 311h1M3 312h1M26 313h1M0 315h1M4 315h1M10 315h1M13 315h1M52 315h1M44 321h1M52 321h1M0 322h2M22 322h1M35 322h1M3 323h1M6 323h1M16 323h1M36 324h1M43 324h1M8 325h1M16 326h1M30 326h1M43 326h1M53 326h2"/><path stroke="#97ff60" d="M16 158h2M39 208h1M42 208h1M13 242h1M15 243h1M0 295h1M0 302h1M22 307h1M47 307h1M23 309h1M6 311h1M4 314h1M9 315h1M6 320h1M31 320h1M16 321h1M30 321h1M9 322h1M32 322h1M57 322h1M8 323h1M25 323h1M29 323h1M52 323h1M27 324h1M37 324h1M37 326h1M41 327h1M49 327h1"/><path stroke="#a7ff50" d="M48 127h1M50 127h1M14 242h1M13 243h1M13 307h1M6 309h2M12 311h1M5 314h1M44 320h1M52 320h1M5 323h1M19 323h1M30 323h1M14 324h1M52 324h1M10 326h1M27 326h1M32 326h1M36 327h1"/><path stroke="#baff3c" d="M4 84h1M47 127h1M41 208h1M48 309h1M31 311h1M10 313h1M40 313h1M2 316h1M5 320h1M16 322h1M14 323h1M22 323h1M33 323h2M0 324h1M16 324h1M21 324h1M30 324h1M26 325h1M32 325h1M57 325h1M31 326h1M38 326h1"/><path stroke="#caff2c" d="M5 84h1M46 128h1M40 208h1M0 292h1M18 315h1M1 321h1M18 324h1M33 324h1M38 324h1M44 324h1M53 324h1M57 324h1M22 325h1M30 325h1M25 326h1M48 327h1"/><path stroke="#dbff1c" d="M46 127h1M0 305h1M16 311h1M42 311h1M9 320h1M15 322h1M28 323h1M12 324h1M19 324h2M45 324h1M0 325h1M38 325h1M34 326h1M31 327h1M46 327h1"/><path stroke="#eeff09" d="M13 320h1M3 322h1M33 322h1M36 322h1M21 323h1M15 325h1M9 326h1M33 326h1M12 327h1M24 327h1M33 327h1M44 327h1"/><path stroke="#feed00" d="M14 243h1M3 293h1M1 314h1M7 323h1M9 323h1M38 323h1M34 324h1M36 325h1M4 326h1M11 326h1M52 326h1M13 327h1M45 327h1"/><path stroke="#ffd700" d="M35 12h1M50 125h1M4 320h1M12 320h1M4 321h1M15 324h1M0 327h1M4 327h1M19 327h1M25 327h2M54 327h2"/><path stroke="#ffc400" d="M8 322h1M26 323h1M11 324h1M42 327h1M56 327h1"/><path stroke="#ffae00" d="M32 13h1M0 293h1M17 320h1M4 324h1M29 324h1M17 325h1M56 325h1M8 326h1M44 326h1M5 327h1M18 327h1M51 327h1"/><path stroke="#ff9c00" d="M32 12h1M43 133h1M0 321h1M27 323h1M55 324h1M5 326h2M35 326h1M51 326h1M29 327h1M38 327h1"/><path stroke="#ff8600" d="M46 133h1M2 322h1M13 324h1M42 326h1M9 327h1M27 327h1M37 327h1"/><path stroke="#ff7300" d="M2 324h1M36 326h1M56 326h1M23 327h1M32 327h1"/><path stroke="#ff6000" d="M35 13h1M2 326h2M55 326h1M1 327h1M6 327h1M21 327h1"/><path stroke="#ff4a00" d="M6 324h1"/><path stroke="#ff3800" d="M2 311h1M3 324h1M1 326h1M57 326h1M3 327h1M7 327h1M16 327h1M22 327h1M30 327h1"/><path stroke="#ff2200" d="M50 126h1M51 324h1M2 327h1"/><path stroke="#fa0f00" d="M2 293h1M2 310h1M1 320h1M7 326h1M52 327h1"/><path stroke="#df0000" d="M34 13h1M1 311h1M11 327h1M57 327h1"/><path stroke="#c80000" d="M35 324h1"/><path stroke="#ad0000" d="M34 12h1M33 13h1M49 126h1M44 133h2M0 311h1M3 320h1"/><path stroke="#960000" d="M33 12h1M47 126h2M1 293h1M0 310h2M2 320h1M56 324h1M0 326h1M8 327h1M17 327h1"/><path stroke="#800000" d="M24 326h1M10 327h1M20 327h1M53 327h1"/></g></g><linearGradient id="cbg" x1="0" y1="1" x2="0" y2="0"><stop offset="0.0000" stop-color="#000080"/><stop offset="0.0156" stop-color="#000092"/><stop offset="0.0312" stop-color="#0000a4"/><stop offset="0.0469" stop-color="#0000b6"/><stop offset="0.0625" stop-color="#0000c8"/><stop offset="0.0781" stop-color="#0000da"/><stop offset="0.0938" stop-color="#0000ed"/><stop offset="0.1094" stop-color="#0000ff"/><stop offset="0.1250" stop-color="#0000ff"/><stop offset="0.1406" stop-color="#0010ff"/><stop offset="0.1562" stop-color="#0020ff"/><stop offset="0.1719" stop-color="#0030ff"/><stop offset="0.1875" stop-color="#0040ff"/><stop offset="0.2031" stop-color="#0050ff"/><stop offset="0.2188" stop-color="#0060ff"/><stop offset="0.2344" stop-color="#0070ff"/><stop offset="0.2500" stop-color="#0080ff"/><stop offset="0.2656" stop-color="#0090ff"/><stop offset="0.2812" stop-color="#00a0ff"/><stop offset="0.2969" stop-color="#00b0ff"/><stop offset="0.3125" stop-color="#00c0ff"/><stop offset="0.3281" stop-color="#00d0ff"/><stop offset="0.3438" stop-color="#00e0fb"/><stop offset="0.3594" stop-color="#09f0ee"/><stop offset="0.3750" stop-color="#16ffe1"/><stop offset="0.3906" stop-color="#23ffd4"/><stop offset="0.4062" stop-color="#30ffc7"/><stop offset="0.4219" stop-color="#3cffba"/><stop offset="0.4375" stop-color="#49ffad"/><stop offset="0.4531" stop-color="#56ffa0"/><stop offset="0.4688" stop-color="#63ff94"/><stop offset="0.4844" stop-color="#70ff87"/><stop offset="0.5000" stop-color="#7dff7a"/><stop offset="0.5156" stop-color="#8aff6d"/><stop offset="0.5312" stop-color="#97ff60"/><stop offset="0.5469" stop-color="#a4ff53"/><stop offset="0.5625" stop-color="#b1ff46"/><stop offset="0.5781" stop-color="#beff39"/><stop offset="0.5938" stop-color="#caff2c"/><stop offset="0.6094" stop-color="#d7ff1f"/><stop offset="0.6250" stop-color="#e4ff13"/><stop offset="0.6406" stop-color="#f1fc06"/><stop offset="0.6562" stop-color="#feed00"/><stop offset="0.6719" stop-color="#ffde00"/><stop offset="0.6875" stop-color="#ffd000"/><stop offset="0.7031" stop-color="#ffc100"/><stop offset="0.7188" stop-color="#ffb200"/><stop offset="0.7344" stop-color="#ffa300"/><stop offset="0.7500" stop-color="#ff9400"/><stop offset="0.7656" stop-color="#ff8600"/><stop offset="0.7812" stop-color="#ff7700"/><stop offset="0.7969" stop-color="#ff6800"/><stop offset="0.8125" stop-color="#ff5900"/><stop offset="0.8281" stop-color="#ff4a00"/><stop offset="0.8438" stop-color="#ff3b00"/><stop offset="0.8594" stop-color="#ff2d00"/><stop offset="0.8750" stop-color="#ff1e00"/><stop offset="0.8906" stop-color="#fa0f00"/><stop offset="0.9062" stop-color="#e80000"/><stop offset="0.9219" stop-color="#d60000"/><stop offset="0.9375" stop-color="#c40000"/><stop offset="0.9531" stop-color="#b20000"/><stop offset="0.9688" stop-color="#9f0000"/><stop offset="0.9844" stop-color="#8d0000"/><stop offset="1.0000" stop-color="#800000"/></linearGradient><rect x="641.5" y="194.5" width="14" height="458" fill="url(#cbg)"/><g fill="none" stroke="#1f77b4" stroke-width="1"><path stroke-opacity="0.200" d="M73.5 747V803M74.5 747V819M75.5 760V814M76.5 745V815M77.5 752V820M78.5 743V811M79.5 752V806M80.5 739V816M81.5 748V815M82.5 742V804M83.5 740V812M84.5 741V815M85.5 759V823M86.5 758V810M87.5 754V808M88.5 750V816M89.5 759V810M90.5 749V831M91.5 747V816M92.5 766V839M93.5 755V829M94.5 742V814M95.5 758V823M96.5 745V823M97.5 749V823M98.5 742V815M99.5 733V820M100.5 733V844M101.5 742V822M102.5 736V807M103.5 749V807M104.5 755V817M105.5 752V814M106.5 748V806M107.5 751V812M108.5 739V801M109.5 749V811M110.5 753V810M111.5 747V821M112.5 754V809M113.5 745V796M114.5 750V795M115.5 754V800M116.5 752V791M117.5 735V794M118.5 750V809M119.5 742V800M120.5 749V802M121.5 752V804M122.5 748V796M123.5 750V802M124.5 757V819M125.5 758V794M126.5 751V811M127.5 747V815M128.5 743V803M129.5 758V803M130.5 756V830M131.5 749V810M132.5 753V813M133.5 743V832M134.5 748V817M135.5 739V807M136.5 738V807M137.5 760V816M138.5 744V806M139.5 751V794M140.5 751V810M141.5 743V814M142.5 755V805M143.5 728V800M144.5 739V817M145.5 753V800M146.5 743V807M147.5 758V801M148.5 753V810M149.5 755V814M150.5 754V800M151.5 753V811M152.5 758V812M153.5 748V814M154.5 730V814M155.5 753V814M156.5 756V802M157.5 765V810M158.5 757V814M159.5 761V830M160.5 747V830M161.5 753V808M162.5 748V807M163.5 750V808M164.5 735V797M165.5 747V810M166.5 734V803M167.5 726V802M168.5 737V813M169.5 751V812M170.5 752V800M171.5 754V809M172.5 742V813M173.5 745V804M174.5 751V814M175.5 749V844M176.5 749V808M177.5 746V829M178.5 746V804M179.5 746V802M180.5 747V822M181.5 747V807M182.5 746V819M183.5 754V819M184.5 753V807M185.5 745V823M186.5 749V802M187.5 741V805M188.5 747V801M189.5 744V785M190.5 753V811M191.5 734V801M192.5 742V807M193.5 737V812M194.5 733V800M195.5 736V803M196.5 725V797M197.5 735V794M198.5 747V796M199.5 749V800M200.5 742V800M201.5 738V811M202.5 736V797M203.5 745V797M204.5 735V806M205.5 743V806M206.5 740V804M207.5 736V794M208.5 748V800M209.5 752V806M210.5 751V802M211.5 750V826M212.5 752V804M213.5 741V811M214.5 744V806M215.5 744V791M216.5 741V811M217.5 745V791M218.5 745V801M219.5 733V795M220.5 733V797M221.5 741V792M222.5 742V791M223.5 746V788M224.5 751V803M225.5 748V798M226.5 747V797M227.5 741V797M228.5 751V828M229.5 754V819M230.5 750V822M231.5 750V832M232.5 753V828M233.5 759V818M234.5 764V820M235.5 760V814M236.5 756V824M237.5 758V815M238.5 764V817M239.5 748V813M240.5 755V817M241.5 756V824M242.5 749V812M243.5 754V831M244.5 757V835M245.5 747V820M246.5 743V817M247.5 756V820M248.5 761V807M249.5 744V811M250.5 754V824M251.5 747V820M252.5 764V814M253.5 752V818M254.5 749V825M255.5 750V820M256.5 757V817M257.5 752V810M258.5 750V802M259.5 759V800M260.5 743V819M261.5 732V806M262.5 746V832M263.5 756V810M264.5 750V828M265.5 737V807M266.5 739V818M267.5 751V812M268.5 754V803M269.5 748V804M270.5 753V800M271.5 753V807M272.5 760V819M273.5 752V827M274.5 756V812M275.5 756V812M276.5 755V810M277.5 758V816M278.5 759V812M279.5 736V804M280.5 747V819M281.5 748V820M282.5 759V825M283.5 744V814M284.5 748V817M285.5 731V820M286.5 757V804M287.5 744V830M288.5 751V803M289.5 749V816M290.5 756V803M291.5 747V803M292.5 758V807M293.5 753V816M294.5 744V818M295.5 750V802M296.5 751V799M297.5 750V819M298.5 745V804M299.5 755V812M300.5 737V814M301.5 744V799M302.5 735V804M303.5 750V807M304.5 752V807M305.5 752V810M306.5 761V816M307.5 755V812M308.5 752V824M309.5 741V814M310.5 742V803M311.5 747V810M312.5 750V811M313.5 756V814M314.5 756V806M315.5 752V798M316.5 753V818M317.5 750V803M318.5 753V801M319.5 753V811M320.5 762V812M321.5 743V802M322.5 734V822M323.5 751V804M324.5 747V808M325.5 753V809M326.5 751V799M327.5 754V795M328.5 748V795M329.5 757V812M330.5 746V800M331.5 745V804M332.5 759V802M333.5 752V818M334.5 744V808M335.5 744V808M336.5 754V812M337.5 750V811M338.5 751V806M339.5 745V815M340.5 755V810M341.5 752V817M342.5 739V814M343.5 752V820M344.5 743V816M345.5 750V810M346.5 746V797M347.5 755V819M348.5 733V812M349.5 753V809M350.5 760V809M351.5 756V812M352.5 749V816M353.5 758V801M354.5 746V806M355.5 746V819M356.5 748V816M357.5 737V808M358.5 753V830M359.5 747V816M360.5 741V815M361.5 752V812M362.5 749V819M363.5 745V809M364.5 746V810M365.5 758V827M366.5 756V831M367.5 731V811M368.5 750V826M369.5 739V809M370.5 746V825M371.5 750V802M372.5 749V814M373.5 742V816M374.5 752V829M375.5 751V818M376.5 760V817M377.5 759V821M378.5 764V816M379.5 769V843M380.5 744V814M381.5 767V855M382.5 763V808M383.5 753V815M384.5 747V810M385.5 769V813M386.5 763V815M387.5 770V819M388.5 765V831M389.5 757V825M390.5 751V805M391.5 751V814M392.5 762V814M393.5 753V809M394.5 734V813M395.5 750V837M396.5 759V811M397.5 759V828M398.5 762V814M399.5 748V814M400.5 748V810M401.5 745V812M402.5 741V813M403.5 739V798M404.5 748V810M405.5 748V812M406.5 759V810M407.5 749V813M408.5 750V799M409.5 754V804M410.5 754V819M411.5 743V812M412.5 754V801M413.5 737V801M414.5 750V815M415.5 757V802M416.5 756V813M417.5 758V796M418.5 745V794M419.5 739V796M420.5 753V807M421.5 738V814M422.5 755V802M423.5 751V808M424.5 754V799M425.5 748V810M426.5 752V811M427.5 747V803M428.5 749V794M429.5 748V812M430.5 757V818M431.5 763V798M432.5 755V806M433.5 750V796M434.5 751V796M435.5 752V802M436.5 750V800M437.5 753V816M438.5 753V808M439.5 740V805M440.5 758V801M441.5 752V810M442.5 733V794M443.5 747V802M444.5 748V799M445.5 742V807M446.5 747V799M447.5 751V809M448.5 748V802M449.5 752V799M450.5 743V791M451.5 747V795M452.5 749V797M453.5 739V810M454.5 751V796M455.5 746V804M456.5 736V794M457.5 728V797M458.5 751V815M459.5 749V796M460.5 748V814M461.5 742V810M462.5 734V798M463.5 751V803M464.5 750V790M465.5 736V807M466.5 755V818M467.5 746V797M468.5 755V803M469.5 739V806M470.5 752V804M471.5 752V797M472.5 752V805M473.5 749V802M474.5 751V808M475.5 745V806M476.5 753V799M477.5 751V796M478.5 748V786M479.5 751V817M480.5 741V805M481.5 748V805M482.5 747V791M483.5 746V795M484.5 742V840M485.5 746V797M486.5 743V791M487.5 726V791M488.5 747V791M489.5 742V779M490.5 746V803M491.5 737V790M492.5 743V793M493.5 742V797M494.5 741V805M495.5 752V807M496.5 735V790M497.5 737V802M498.5 752V791M499.5 748V807M500.5 744V790M501.5 735V792M502.5 754V806M503.5 744V804M504.5 745V801M505.5 760V816M506.5 734V816M507.5 747V803M508.5 748V800M509.5 751V811M510.5 756V799M511.5 750V800M512.5 751V810M513.5 732V809M514.5 750V795M515.5 751V822M516.5 732V808M517.5 740V803M518.5 752V816M519.5 751V794M520.5 757V807M521.5 758V810M522.5 756V812M523.5 748V802M524.5 749V800M525.5 757V807M526.5 741V812M527.5 761V816M528.5 761V812M529.5 744V800M530.5 750V807M531.5 756V805M532.5 743V799M533.5 760V799M534.5 758V809M535.5 748V804M536.5 758V807M537.5 761V803M538.5 750V807M539.5 751V809M540.5 754V806M541.5 756V811M542.5 766V814M543.5 749V805M544.5 732V802M545.5 760V813M546.5 754V806M547.5 763V815M548.5 747V815M549.5 759V803M550.5 742V820M551.5 755V820M552.5 753V802M553.5 764V817M554.5 768V825M555.5 762V817M556.5 756V804M557.5 757V813M558.5 770V820M559.5 755V823M560.5 776V834M561.5 764V835M562.5 777V842M563.5 780V846M564.5 776V837M565.5 771V836M566.5 776V833M567.5 760V849M568.5 766V819M569.5 767V829M570.5 753V827M571.5 767V831M572.5 768V831M573.5 755V818M574.5 745V814M575.5 753V814M576.5 761V814M577.5 764V815M578.5 761V812M579.5 757V833M580.5 753V819M581.5 753V815M582.5 746V810M583.5 758V815M584.5 752V807M585.5 743V798M586.5 741V807M587.5 741V798M588.5 741V812M589.5 737V789M590.5 740V803M591.5 747V785M592.5 739V835M593.5 740V795M594.5 730V803M595.5 747V792M596.5 734V802M597.5 725V787M598.5 725V778M599.5 727V787M600.5 730V788M601.5 732V781M602.5 736V778M603.5 739V787M604.5 732V776M605.5 740V782M606.5 733V776M607.5 730V787M608.5 734V788M609.5 738V803M610.5 743V788M611.5 745V778M612.5 745V794M613.5 742V787M614.5 727V792M615.5 746V788M616.5 748V786M617.5 742V795M618.5 752V801M619.5 760V815M620.5 759V806M621.5 767V812M622.5 764V808M623.5 768V830M624.5 770V808M625.5 769V817"/><path stroke-opacity="0.275" d="M73.5 754V801M74.5 751V816M75.5 765V811M76.5 753V814M77.5 760V819M78.5 752V799M79.5 756V801M80.5 754V798M81.5 757V790M82.5 748V800M83.5 757V803M84.5 759V807M85.5 763V808M86.5 759V808M87.5 760V807M88.5 757V813M89.5 760V807M90.5 754V813M91.5 765V815M92.5 767V819M93.5 759V829M94.5 748V806M95.5 759V822M96.5 758V812M97.5 750V803M98.5 744V799M99.5 738V809M100.5 751V803M101.5 742V795M102.5 749V802M103.5 749V803M104.5 757V797M105.5 753V808M106.5 749V799M107.5 756V808M108.5 752V800M109.5 752V798M110.5 754V802M111.5 757V805M112.5 755V796M113.5 752V793M114.5 750V794M115.5 757V799M116.5 752V788M117.5 742V793M118.5 751V800M119.5 746V796M120.5 750V793M121.5 754V789M122.5 750V796M123.5 751V798M124.5 760V806M125.5 758V793M126.5 751V802M127.5 756V814M128.5 759V801M129.5 759V800M130.5 760V798M131.5 753V794M132.5 755V804M133.5 748V799M134.5 751V806M135.5 750V803M136.5 751V803M137.5 760V805M138.5 745V805M139.5 757V792M140.5 755V803M141.5 751V806M142.5 762V800M143.5 755V799M144.5 759V807M145.5 756V800M146.5 751V806M147.5 764V799M148.5 757V809M149.5 761V810M150.5 757V799M151.5 766V806M152.5 760V812M153.5 760V814M154.5 755V808M155.5 755V810M156.5 756V795M157.5 768V807M158.5 757V808M159.5 762V823M160.5 750V802M161.5 759V795M162.5 755V801M163.5 756V806M164.5 741V796M165.5 755V795M166.5 753V797M167.5 759V802M168.5 752V795M169.5 762V795M170.5 757V798M171.5 756V797M172.5 752V797M173.5 746V795M174.5 764V807M175.5 753V807M176.5 752V806M177.5 748V803M178.5 755V803M179.5 749V797M180.5 755V809M181.5 750V805M182.5 752V795M183.5 758V802M184.5 754V798M185.5 756V802M186.5 750V797M187.5 745V800M188.5 748V791M189.5 748V785M190.5 754V794M191.5 735V798M192.5 748V790M193.5 741V807M194.5 741V798M195.5 738V802M196.5 733V795M197.5 741V791M198.5 752V793M199.5 750V798M200.5 747V788M201.5 743V793M202.5 738V788M203.5 749V795M204.5 736V790M205.5 744V798M206.5 742V800M207.5 746V789M208.5 749V796M209.5 761V802M210.5 760V800M211.5 763V802M212.5 755V802M213.5 746V795M214.5 752V797M215.5 750V788M216.5 748V807M217.5 747V788M218.5 745V792M219.5 744V793M220.5 745V796M221.5 748V791M222.5 754V787M223.5 748V787M224.5 751V791M225.5 749V792M226.5 749V793M227.5 745V792M228.5 752V791M229.5 758V815M230.5 750V801M231.5 750V820M232.5 761V826M233.5 763V803M234.5 764V810M235.5 763V813M236.5 759V810M237.5 760V810M238.5 765V816M239.5 755V810M240.5 762V814M241.5 756V820M242.5 751V799M243.5 759V814M244.5 760V816M245.5 755V807M246.5 751V817M247.5 761V811M248.5 764V803M249.5 760V804M250.5 759V823M251.5 750V815M252.5 766V812M253.5 752V812M254.5 751V820M255.5 757V809M256.5 758V811M257.5 755V802M258.5 752V793M259.5 760V796M260.5 752V815M261.5 746V798M262.5 756V813M263.5 757V804M264.5 755V810M265.5 756V803M266.5 747V815M267.5 757V801M268.5 756V797M269.5 756V804M270.5 762V799M271.5 756V797M272.5 760V816M273.5 753V809M274.5 759V807M275.5 759V803M276.5 756V804M277.5 762V810M278.5 760V802M279.5 754V799M280.5 749V819M281.5 751V817M282.5 760V816M283.5 754V803M284.5 749V807M285.5 755V818M286.5 757V800M287.5 759V820M288.5 755V798M289.5 755V814M290.5 757V800M291.5 750V800M292.5 762V806M293.5 761V815M294.5 752V807M295.5 755V797M296.5 751V789M297.5 756V799M298.5 748V789M299.5 757V802M300.5 742V802M301.5 750V798M302.5 757V801M303.5 757V801M304.5 760V805M305.5 754V806M306.5 762V813M307.5 759V803M308.5 754V820M309.5 754V811M310.5 754V800M311.5 756V803M312.5 757V810M313.5 760V804M314.5 758V803M315.5 752V797M316.5 758V812M317.5 758V801M318.5 754V799M319.5 753V804M320.5 762V807M321.5 757V799M322.5 756V804M323.5 760V801M324.5 753V804M325.5 754V797M326.5 752V797M327.5 756V792M328.5 749V794M329.5 758V795M330.5 748V798M331.5 747V797M332.5 760V800M333.5 756V800M334.5 755V805M335.5 757V806M336.5 755V794M337.5 760V808M338.5 757V805M339.5 748V809M340.5 758V810M341.5 754V812M342.5 741V808M343.5 759V816M344.5 747V815M345.5 755V806M346.5 755V796M347.5 759V811M348.5 750V804M349.5 755V807M350.5 760V803M351.5 759V808M352.5 752V816M353.5 759V800M354.5 753V804M355.5 758V806M356.5 751V803M357.5 747V807M358.5 758V820M359.5 759V808M360.5 752V809M361.5 755V811M362.5 755V805M363.5 752V796M364.5 754V804M365.5 758V820M366.5 756V809M367.5 747V809M368.5 751V824M369.5 745V807M370.5 750V815M371.5 752V799M372.5 754V809M373.5 753V804M374.5 761V817M375.5 766V817M376.5 766V815M377.5 773V814M378.5 771V816M379.5 771V831M380.5 771V811M381.5 768V820M382.5 768V807M383.5 757V808M384.5 758V809M385.5 770V811M386.5 766V814M387.5 773V817M388.5 776V823M389.5 763V817M390.5 762V800M391.5 751V804M392.5 763V805M393.5 756V808M394.5 759V811M395.5 757V811M396.5 761V803M397.5 762V823M398.5 765V806M399.5 757V801M400.5 749V799M401.5 750V809M402.5 744V808M403.5 742V795M404.5 748V806M405.5 762V804M406.5 760V804M407.5 755V809M408.5 754V799M409.5 755V796M410.5 756V808M411.5 747V801M412.5 760V789M413.5 753V792M414.5 756V799M415.5 763V801M416.5 756V799M417.5 759V796M418.5 748V794M419.5 740V788M420.5 760V793M421.5 751V807M422.5 758V799M423.5 752V803M424.5 759V797M425.5 750V808M426.5 758V793M427.5 754V801M428.5 754V793M429.5 756V798M430.5 758V807M431.5 765V795M432.5 757V806M433.5 752V792M434.5 752V791M435.5 753V800M436.5 757V797M437.5 755V813M438.5 753V799M439.5 756V804M440.5 758V799M441.5 756V798M442.5 734V793M443.5 757V801M444.5 749V798M445.5 758V795M446.5 748V798M447.5 751V799M448.5 752V798M449.5 752V789M450.5 749V789M451.5 750V795M452.5 751V795M453.5 752V805M454.5 751V794M455.5 750V797M456.5 742V791M457.5 752V792M458.5 753V799M459.5 752V795M460.5 748V797M461.5 748V807M462.5 753V794M463.5 763V801M464.5 752V788M465.5 759V805M466.5 755V793M467.5 749V789M468.5 758V800M469.5 747V802M470.5 755V800M471.5 752V795M472.5 759V800M473.5 750V797M474.5 753V807M475.5 749V794M476.5 754V795M477.5 754V792M478.5 748V786M479.5 751V791M480.5 753V793M481.5 753V803M482.5 747V786M483.5 748V794M484.5 745V792M485.5 750V796M486.5 744V786M487.5 738V788M488.5 748V783M489.5 742V778M490.5 748V795M491.5 745V787M492.5 743V784M493.5 746V793M494.5 744V801M495.5 752V791M496.5 746V789M497.5 745V785M498.5 753V790M499.5 749V794M500.5 746V790M501.5 755V790M502.5 761V800M503.5 751V789M504.5 755V801M505.5 762V801M506.5 753V793M507.5 756V798M508.5 751V800M509.5 754V808M510.5 756V794M511.5 750V797M512.5 752V804M513.5 750V792M514.5 752V792M515.5 752V808M516.5 747V803M517.5 745V794M518.5 752V804M519.5 759V793M520.5 764V801M521.5 760V802M522.5 757V800M523.5 750V802M524.5 749V800M525.5 758V804M526.5 761V803M527.5 764V812M528.5 762V804M529.5 750V796M530.5 752V798M531.5 764V800M532.5 755V795M533.5 760V798M534.5 758V801M535.5 759V802M536.5 759V807M537.5 762V797M538.5 751V799M539.5 753V800M540.5 754V803M541.5 760V801M542.5 766V803M543.5 753V804M544.5 755V797M545.5 763V812M546.5 757V804M547.5 766V802M548.5 766V812M549.5 765V799M550.5 746V806M551.5 758V794M552.5 756V801M553.5 767V801M554.5 769V824M555.5 768V812M556.5 760V803M557.5 763V812M558.5 771V816M559.5 769V819M560.5 777V823M561.5 778V829M562.5 777V826M563.5 780V846M564.5 779V831M565.5 772V828M566.5 778V821M567.5 774V826M568.5 782V817M569.5 769V829M570.5 766V826M571.5 771V828M572.5 768V826M573.5 756V815M574.5 770V810M575.5 761V813M576.5 762V809M577.5 770V806M578.5 765V810M579.5 758V806M580.5 755V813M581.5 758V808M582.5 760V803M583.5 760V811M584.5 760V801M585.5 749V794M586.5 747V791M587.5 746V790M588.5 748V799M589.5 740V787M590.5 746V796M591.5 748V778M592.5 743V805M593.5 743V788M594.5 738V784M595.5 747V789M596.5 741V798M597.5 738V786M598.5 729V777M599.5 730V783M600.5 738V782M601.5 733V779M602.5 739V773M603.5 744V782M604.5 737V771M605.5 740V780M606.5 734V774M607.5 737V781M608.5 740V783M609.5 743V780M610.5 749V786M611.5 746V777M612.5 748V791M613.5 743V784M614.5 742V791M615.5 747V785M616.5 753V779M617.5 743V786M618.5 762V798M619.5 765V802M620.5 760V805M621.5 770V811M622.5 764V805M623.5 768V814M624.5 772V807M625.5 776V812"/><path stroke-opacity="0.483" d="M73.5 757V797M74.5 760V803M75.5 765V805M76.5 763V798M77.5 762V813M78.5 754V798M79.5 759V797M80.5 761V796M81.5 760V789M82.5 756V796M83.5 759V802M84.5 765V805M85.5 766V799M86.5 759V806M87.5 761V802M88.5 759V807M89.5 767V804M90.5 758V808M91.5 767V812M92.5 767V811M93.5 760V810M94.5 762V805M95.5 764V805M96.5 760V800M97.5 751V801M98.5 761V794M99.5 748V805M100.5 761V799M101.5 750V793M102.5 759V801M103.5 759V798M104.5 757V789M105.5 755V806M106.5 761V793M107.5 757V806M108.5 761V798M109.5 758V798M110.5 762V799M111.5 760V796M112.5 758V796M113.5 757V793M114.5 754V789M115.5 758V799M116.5 754V784M117.5 748V784M118.5 753V799M119.5 748V795M120.5 752V785M121.5 754V784M122.5 751V796M123.5 758V795M124.5 761V804M125.5 760V793M126.5 758V795M127.5 759V807M128.5 762V794M129.5 761V798M130.5 765V797M131.5 759V794M132.5 758V801M133.5 749V793M134.5 751V799M135.5 750V797M136.5 756V800M137.5 763V793M138.5 752V796M139.5 757V790M140.5 762V802M141.5 754V797M142.5 764V796M143.5 766V792M144.5 760V804M145.5 758V797M146.5 758V805M147.5 767V796M148.5 758V808M149.5 764V803M150.5 758V798M151.5 767V798M152.5 760V801M153.5 762V812M154.5 772V801M155.5 762V801M156.5 758V794M157.5 771V802M158.5 760V804M159.5 764V804M160.5 758V799M161.5 761V792M162.5 764V796M163.5 760V803M164.5 752V786M165.5 758V788M166.5 758V790M167.5 767V796M168.5 762V792M169.5 765V794M170.5 761V798M171.5 757V795M172.5 753V793M173.5 757V791M174.5 765V804M175.5 755V805M176.5 756V803M177.5 761V799M178.5 762V794M179.5 750V795M180.5 762V807M181.5 755V804M182.5 753V790M183.5 758V798M184.5 763V794M185.5 761V797M186.5 752V793M187.5 746V793M188.5 749V791M189.5 750V783M190.5 755V794M191.5 753V798M192.5 748V788M193.5 749V793M194.5 743V792M195.5 754V797M196.5 746V785M197.5 741V790M198.5 754V793M199.5 757V788M200.5 747V786M201.5 746V789M202.5 740V787M203.5 751V792M204.5 740V788M205.5 744V785M206.5 744V800M207.5 749V788M208.5 756V794M209.5 762V800M210.5 761V797M211.5 764V795M212.5 756V799M213.5 752V792M214.5 759V795M215.5 754V787M216.5 749V792M217.5 749V787M218.5 749V789M219.5 756V791M220.5 746V796M221.5 752V788M222.5 754V785M223.5 755V785M224.5 755V789M225.5 757V789M226.5 756V783M227.5 751V791M228.5 753V789M229.5 762V796M230.5 764V800M231.5 759V809M232.5 765V821M233.5 767V803M234.5 769V803M235.5 766V811M236.5 759V806M237.5 770V809M238.5 770V814M239.5 761V807M240.5 764V808M241.5 756V815M242.5 757V798M243.5 759V809M244.5 760V805M245.5 762V803M246.5 756V807M247.5 766V808M248.5 764V799M249.5 764V801M250.5 764V818M251.5 753V812M252.5 767V809M253.5 759V809M254.5 759V820M255.5 757V799M256.5 758V803M257.5 766V802M258.5 759V791M259.5 763V795M260.5 760V795M261.5 762V795M262.5 767V811M263.5 760V798M264.5 757V803M265.5 760V799M266.5 756V813M267.5 758V796M268.5 760V795M269.5 759V795M270.5 764V798M271.5 759V797M272.5 764V812M273.5 755V801M274.5 759V801M275.5 762V799M276.5 759V804M277.5 769V809M278.5 761V797M279.5 759V795M280.5 761V798M281.5 757V807M282.5 760V802M283.5 757V801M284.5 756V799M285.5 756V810M286.5 759V797M287.5 765V819M288.5 758V794M289.5 768V800M290.5 767V799M291.5 753V798M292.5 764V795M293.5 763V809M294.5 758V805M295.5 760V794M296.5 754V784M297.5 758V798M298.5 751V788M299.5 758V799M300.5 746V800M301.5 754V796M302.5 760V788M303.5 760V794M304.5 768V804M305.5 754V800M306.5 763V811M307.5 763V799M308.5 759V799M309.5 756V809M310.5 754V798M311.5 762V791M312.5 764V798M313.5 761V801M314.5 759V796M315.5 758V788M316.5 759V799M317.5 759V792M318.5 755V797M319.5 758V802M320.5 768V803M321.5 761V796M322.5 762V797M323.5 762V795M324.5 757V800M325.5 756V795M326.5 752V791M327.5 757V791M328.5 754V792M329.5 762V793M330.5 760V796M331.5 753V797M332.5 764V795M333.5 758V795M334.5 756V804M335.5 758V805M336.5 757V792M337.5 760V806M338.5 758V795M339.5 755V803M340.5 763V808M341.5 759V807M342.5 755V805M343.5 765V813M344.5 755V809M345.5 756V804M346.5 763V794M347.5 762V811M348.5 756V801M349.5 757V800M350.5 761V801M351.5 766V796M352.5 756V809M353.5 763V799M354.5 758V799M355.5 764V804M356.5 758V794M357.5 749V806M358.5 759V802M359.5 767V806M360.5 762V806M361.5 760V809M362.5 760V797M363.5 758V796M364.5 754V803M365.5 759V803M366.5 760V802M367.5 748V799M368.5 753V804M369.5 750V802M370.5 751V810M371.5 758V799M372.5 756V806M373.5 759V802M374.5 762V816M375.5 767V817M376.5 774V814M377.5 773V810M378.5 775V812M379.5 774V818M380.5 772V805M381.5 773V812M382.5 772V807M383.5 762V806M384.5 765V809M385.5 774V809M386.5 767V813M387.5 774V812M388.5 779V815M389.5 770V816M390.5 768V799M391.5 758V800M392.5 764V804M393.5 766V803M394.5 762V809M395.5 760V806M396.5 765V800M397.5 764V815M398.5 766V802M399.5 762V794M400.5 753V797M401.5 754V796M402.5 761V794M403.5 760V794M404.5 756V798M405.5 764V804M406.5 762V801M407.5 762V800M408.5 763V796M409.5 757V790M410.5 766V803M411.5 748V795M412.5 761V789M413.5 756V788M414.5 759V799M415.5 763V795M416.5 756V792M417.5 761V792M418.5 750V792M419.5 756V787M420.5 761V790M421.5 751V803M422.5 759V795M423.5 756V797M424.5 760V791M425.5 755V799M426.5 759V789M427.5 755V793M428.5 757V789M429.5 760V789M430.5 765V790M431.5 767V793M432.5 757V795M433.5 756V790M434.5 757V789M435.5 753V798M436.5 759V796M437.5 758V794M438.5 760V797M439.5 756V799M440.5 760V797M441.5 756V798M442.5 747V793M443.5 757V800M444.5 753V795M445.5 759V789M446.5 749V793M447.5 753V797M448.5 756V792M449.5 755V788M450.5 750V787M451.5 753V792M452.5 762V793M453.5 758V798M454.5 751V792M455.5 751V796M456.5 750V787M457.5 755V789M458.5 753V797M459.5 753V793M460.5 756V786M461.5 751V804M462.5 755V793M463.5 764V798M464.5 754V787M465.5 761V799M466.5 756V788M467.5 755V786M468.5 760V796M469.5 750V789M470.5 756V795M471.5 753V791M472.5 765V800M473.5 758V793M474.5 755V802M475.5 750V789M476.5 758V790M477.5 755V788M478.5 755V785M479.5 752V784M480.5 755V789M481.5 758V786M482.5 748V783M483.5 748V791M484.5 750V787M485.5 751V790M486.5 749V780M487.5 742V781M488.5 750V778M489.5 744V773M490.5 751V785M491.5 748V781M492.5 744V775M493.5 749V785M494.5 751V795M495.5 752V786M496.5 746V785M497.5 751V782M498.5 756V790M499.5 754V793M500.5 749V788M501.5 757V788M502.5 763V795M503.5 758V786M504.5 759V792M505.5 762V789M506.5 756V790M507.5 758V795M508.5 755V785M509.5 760V797M510.5 756V792M511.5 751V796M512.5 754V794M513.5 757V786M514.5 757V790M515.5 761V807M516.5 749V801M517.5 753V791M518.5 753V803M519.5 762V792M520.5 764V800M521.5 762V801M522.5 761V798M523.5 754V801M524.5 758V794M525.5 761V802M526.5 764V797M527.5 765V811M528.5 763V803M529.5 756V794M530.5 761V798M531.5 765V798M532.5 757V792M533.5 760V797M534.5 761V797M535.5 762V801M536.5 763V802M537.5 765V796M538.5 756V793M539.5 763V795M540.5 755V795M541.5 762V796M542.5 767V802M543.5 761V802M544.5 761V794M545.5 764V809M546.5 766V800M547.5 767V798M548.5 766V806M549.5 767V797M550.5 758V793M551.5 758V789M552.5 764V801M553.5 770V797M554.5 769V815M555.5 768V803M556.5 767V803M557.5 773V812M558.5 776V812M559.5 769V819M560.5 777V823M561.5 779V823M562.5 779V818M563.5 782V828M564.5 780V831M565.5 778V826M566.5 782V819M567.5 776V823M568.5 785V812M569.5 775V823M570.5 768V817M571.5 773V827M572.5 768V818M573.5 774V812M574.5 770V809M575.5 762V812M576.5 769V808M577.5 771V802M578.5 771V809M579.5 762V805M580.5 757V798M581.5 759V808M582.5 763V799M583.5 761V808M584.5 762V798M585.5 750V787M586.5 752V789M587.5 751V788M588.5 751V790M589.5 743V785M590.5 752V795M591.5 749V774M592.5 750V786M593.5 745V775M594.5 740V782M595.5 749V788M596.5 741V787M597.5 740V786M598.5 735V775M599.5 733V770M600.5 742V776M601.5 734V779M602.5 744V772M603.5 749V782M604.5 738V771M605.5 741V773M606.5 740V773M607.5 738V776M608.5 741V773M609.5 743V779M610.5 752V784M611.5 748V775M612.5 751V784M613.5 744V781M614.5 749V789M615.5 751V782M616.5 754V778M617.5 747V786M618.5 765V790M619.5 767V801M620.5 762V804M621.5 772V810M622.5 767V803M623.5 772V811M624.5 773V805M625.5 777V809"/><path stroke-opacity="0.867" d="M73.5 763V797M74.5 767V799M75.5 771V803M76.5 763V794M77.5 764V801M78.5 760V794M79.5 764V788M80.5 765V789M81.5 763V788M82.5 762V787M83.5 764V801M84.5 768V799M85.5 771V796M86.5 766V802M87.5 762V796M88.5 763V799M89.5 768V801M90.5 764V804M91.5 775V807M92.5 769V805M93.5 775V804M94.5 765V797M95.5 765V803M96.5 768V796M97.5 759V794M98.5 764V791M99.5 760V799M100.5 762V795M101.5 752V789M102.5 763V793M103.5 763V792M104.5 760V788M105.5 763V799M106.5 766V785M107.5 767V802M108.5 768V797M109.5 761V792M110.5 765V795M111.5 764V794M112.5 761V792M113.5 759V787M114.5 758V777M115.5 764V796M116.5 755V782M117.5 752V781M118.5 757V785M119.5 749V781M120.5 755V784M121.5 755V784M122.5 757V787M123.5 768V787M124.5 764V789M125.5 762V791M126.5 765V795M127.5 761V803M128.5 766V791M129.5 763V796M130.5 768V794M131.5 762V791M132.5 760V792M133.5 761V787M134.5 762V795M135.5 756V790M136.5 759V790M137.5 769V787M138.5 759V792M139.5 762V786M140.5 765V793M141.5 759V788M142.5 767V793M143.5 768V789M144.5 767V794M145.5 759V792M146.5 767V798M147.5 769V794M148.5 770V806M149.5 765V801M150.5 760V793M151.5 768V792M152.5 765V796M153.5 764V796M154.5 774V799M155.5 768V797M156.5 762V792M157.5 774V798M158.5 762V798M159.5 765V794M160.5 764V796M161.5 765V790M162.5 768V784M163.5 762V794M164.5 759V783M165.5 763V784M166.5 761V787M167.5 768V793M168.5 766V787M169.5 768V792M170.5 766V797M171.5 760V792M172.5 765V790M173.5 763V784M174.5 769V789M175.5 760V797M176.5 761V800M177.5 766V796M178.5 765V789M179.5 756V791M180.5 764V805M181.5 764V795M182.5 753V787M183.5 761V793M184.5 765V790M185.5 762V792M186.5 764V789M187.5 749V785M188.5 751V787M189.5 753V779M190.5 759V790M191.5 757V791M192.5 754V787M193.5 750V785M194.5 756V783M195.5 757V793M196.5 751V783M197.5 754V784M198.5 755V779M199.5 757V787M200.5 751V783M201.5 749V784M202.5 754V779M203.5 752V777M204.5 747V783M205.5 748V784M206.5 749V793M207.5 756V783M208.5 761V787M209.5 766V786M210.5 763V791M211.5 767V792M212.5 760V795M213.5 763V782M214.5 759V793M215.5 759V782M216.5 752V784M217.5 753V785M218.5 759V785M219.5 759V782M220.5 751V783M221.5 755V776M222.5 757V784M223.5 757V783M224.5 756V786M225.5 759V785M226.5 758V781M227.5 757V783M228.5 759V786M229.5 767V790M230.5 770V798M231.5 766V801M232.5 766V809M233.5 768V800M234.5 772V800M235.5 772V807M236.5 767V797M237.5 775V803M238.5 773V809M239.5 770V805M240.5 772V800M241.5 764V800M242.5 767V797M243.5 763V805M244.5 762V803M245.5 764V803M246.5 767V803M247.5 770V806M248.5 766V793M249.5 767V798M250.5 767V796M251.5 754V806M252.5 772V800M253.5 763V807M254.5 767V803M255.5 767V793M256.5 763V794M257.5 768V800M258.5 762V789M259.5 766V793M260.5 764V791M261.5 766V793M262.5 770V800M263.5 762V796M264.5 762V795M265.5 766V797M266.5 768V810M267.5 764V793M268.5 764V793M269.5 761V793M270.5 768V792M271.5 766V794M272.5 772V805M273.5 758V798M274.5 763V798M275.5 764V793M276.5 766V795M277.5 770V801M278.5 767V794M279.5 767V791M280.5 768V794M281.5 764V803M282.5 771V799M283.5 764V796M284.5 759V798M285.5 764V793M286.5 765V792M287.5 768V801M288.5 761V793M289.5 770V794M290.5 772V797M291.5 759V791M292.5 765V792M293.5 773V806M294.5 761V805M295.5 766V792M296.5 757V780M297.5 763V797M298.5 756V786M299.5 762V791M300.5 753V790M301.5 756V788M302.5 763V787M303.5 764V790M304.5 772V794M305.5 760V797M306.5 768V807M307.5 765V798M308.5 764V795M309.5 763V791M310.5 766V794M311.5 767V789M312.5 769V796M313.5 765V795M314.5 762V792M315.5 764V785M316.5 760V796M317.5 766V790M318.5 759V789M319.5 762V791M320.5 770V801M321.5 768V792M322.5 765V790M323.5 764V794M324.5 761V792M325.5 759V794M326.5 759V787M327.5 765V785M328.5 757V788M329.5 763V789M330.5 761V784M331.5 758V790M332.5 768V793M333.5 762V793M334.5 763V796M335.5 765V799M336.5 759V790M337.5 768V798M338.5 766V790M339.5 765V798M340.5 770V798M341.5 764V802M342.5 765V790M343.5 769V812M344.5 766V799M345.5 765V788M346.5 763V790M347.5 764V800M348.5 757V795M349.5 761V794M350.5 766V796M351.5 768V788M352.5 763V803M353.5 767V793M354.5 764V796M355.5 766V797M356.5 762V790M357.5 754V798M358.5 765V787M359.5 773V795M360.5 770V800M361.5 767V806M362.5 765V795M363.5 763V792M364.5 756V799M365.5 767V795M366.5 767V801M367.5 759V791M368.5 755V799M369.5 759V797M370.5 756V792M371.5 765V798M372.5 758V794M373.5 767V798M374.5 766V801M375.5 767V813M376.5 781V808M377.5 777V807M378.5 777V804M379.5 777V811M380.5 776V804M381.5 777V801M382.5 781V802M383.5 768V798M384.5 769V805M385.5 777V808M386.5 772V807M387.5 776V807M388.5 781V815M389.5 778V814M390.5 770V798M391.5 764V797M392.5 767V803M393.5 767V801M394.5 767V803M395.5 765V801M396.5 766V791M397.5 766V804M398.5 773V797M399.5 763V792M400.5 768V790M401.5 756V793M402.5 764V787M403.5 765V790M404.5 762V793M405.5 768V798M406.5 762V796M407.5 765V797M408.5 768V790M409.5 766V785M410.5 769V790M411.5 761V789M412.5 763V785M413.5 758V782M414.5 762V794M415.5 765V795M416.5 759V790M417.5 767V788M418.5 751V790M419.5 760V783M420.5 765V789M421.5 758V799M422.5 761V792M423.5 762V793M424.5 764V789M425.5 759V793M426.5 761V787M427.5 757V788M428.5 762V787M429.5 764V788M430.5 768V789M431.5 769V790M432.5 763V788M433.5 758V787M434.5 763V783M435.5 760V787M436.5 768V786M437.5 761V791M438.5 761V788M439.5 758V788M440.5 762V792M441.5 760V791M442.5 753V787M443.5 759V798M444.5 755V793M445.5 761V785M446.5 758V790M447.5 756V788M448.5 758V788M449.5 757V785M450.5 757V785M451.5 758V786M452.5 764V787M453.5 759V789M454.5 756V791M455.5 757V792M456.5 752V786M457.5 761V787M458.5 758V790M459.5 755V791M460.5 759V782M461.5 754V797M462.5 758V791M463.5 768V795M464.5 757V782M465.5 763V790M466.5 762V788M467.5 758V784M468.5 761V791M469.5 758V787M470.5 762V788M471.5 760V790M472.5 767V796M473.5 762V788M474.5 759V790M475.5 753V781M476.5 761V785M477.5 759V784M478.5 756V778M479.5 757V778M480.5 759V784M481.5 762V782M482.5 754V778M483.5 756V787M484.5 753V783M485.5 760V788M486.5 752V775M487.5 747V776M488.5 755V774M489.5 746V770M490.5 753V780M491.5 751V779M492.5 748V773M493.5 750V779M494.5 753V786M495.5 757V781M496.5 751V785M497.5 753V775M498.5 758V777M499.5 758V784M500.5 752V782M501.5 760V783M502.5 765V791M503.5 760V784M504.5 765V787M505.5 764V782M506.5 763V786M507.5 760V788M508.5 761V784M509.5 763V796M510.5 762V785M511.5 755V791M512.5 757V789M513.5 767V785M514.5 758V786M515.5 765V799M516.5 756V783M517.5 760V784M518.5 762V796M519.5 765V786M520.5 766V794M521.5 763V799M522.5 768V795M523.5 768V798M524.5 760V793M525.5 767V799M526.5 766V794M527.5 774V800M528.5 766V796M529.5 762V793M530.5 763V795M531.5 768V794M532.5 757V790M533.5 764V794M534.5 766V793M535.5 766V793M536.5 770V797M537.5 768V793M538.5 760V789M539.5 767V789M540.5 766V793M541.5 764V792M542.5 771V799M543.5 765V798M544.5 763V793M545.5 765V794M546.5 772V798M547.5 767V795M548.5 767V797M549.5 769V796M550.5 761V791M551.5 766V787M552.5 767V796M553.5 774V795M554.5 771V813M555.5 771V793M556.5 772V801M557.5 779V805M558.5 780V809M559.5 779V817M560.5 782V819M561.5 786V820M562.5 782V817M563.5 783V820M564.5 789V820M565.5 779V822M566.5 785V817M567.5 780V820M568.5 788V812M569.5 781V807M570.5 776V814M571.5 779V817M572.5 776V810M573.5 776V807M574.5 773V805M575.5 768V805M576.5 772V803M577.5 771V798M578.5 775V802M579.5 771V799M580.5 769V798M581.5 761V804M582.5 765V796M583.5 766V799M584.5 764V794M585.5 752V786M586.5 758V785M587.5 754V785M588.5 755V783M589.5 748V778M590.5 752V793M591.5 751V773M592.5 751V783M593.5 748V770M594.5 746V777M595.5 754V782M596.5 745V779M597.5 743V781M598.5 740V773M599.5 740V767M600.5 743V768M601.5 743V768M602.5 746V769M603.5 752V776M604.5 739V769M605.5 746V770M606.5 747V770M607.5 740V772M608.5 744V770M609.5 746V776M610.5 752V773M611.5 751V774M612.5 755V779M613.5 750V775M614.5 754V781M615.5 757V776M616.5 758V777M617.5 754V782M618.5 767V789M619.5 770V794M620.5 766V797M621.5 774V802M622.5 772V798M623.5 772V806M624.5 780V802M625.5 784V803"/></g><clipPath id="cw"><rect x="72.5" y="45.5" width="554" height="140"/></clipPath><path clip-path="url(#cw)" fill="none" stroke="#1f77b4" stroke-width="1" d="M71 158.5h3m-1.5-1.5v3M72 145.5h3m-1.5-1.5v3M72 172.5h3m-1.5-1.5v3M73 158.5h3m-1.5-1.5v3M73 172.5h3m-1.5-1.5v3M74 172.5h3m-1.5-1.5v3M75 158.5h3m-1.5-1.5v3M76 172.5h3m-1.5-1.5v3M77 158.5h3m-1.5-1.5v3M78 172.5h3m-1.5-1.5v3M79 172.5h3m-1.5-1.5v3M81 158.5h3m-1.5-1.5v3M81 172.5h3m-1.5-1.5v3M82 172.5h3m-1.5-1.5v3M83 158.5h3m-1.5-1.5v3M83 172.5h3m-1.5-1.5v3M85 158.5h3m-1.5-1.5v3M85 172.5h3m-1.5-1.5v3M87 158.5h3m-1.5-1.5v3M87 172.5h3m-1.5-1.5v3M88 158.5h3m-1.5-1.5v3M88 172.5h3m-1.5-1.5v3M89 158.5h3m-1.5-1.5v3M90 158.5h3m-1.5-1.5v3M90 172.5h3m-1.5-1.5v3M91 158.5h3m-1.5-1.5v3M92 158.5h3m-1.5-1.5v3M92 172.5h3m-1.5-1.5v3M93 145.5h3m-1.5-1.5v3M93 158.5h3m-1.5-1.5v3M95 145.5h3m-1.5-1.5v3M95 158.5h3m-1.5-1.5v3M95 172.5h3m-1.5-1.5v3M96 172.5h3m-1.5-1.5v3M97 145.5h3m-1.5-1.5v3M97 158.5h3m-1.5-1.5v3M98 172.5h3m-1.5-1.5v3M99 172.5h3m-1.5-1.5v3M100 158.5h3m-1.5-1.5v3M101 158.5h3m-1.5-1.5v3M101 172.5h3m-1.5-1.5v3M103 158.5h3m-1.5-1.5v3M103 172.5h3m-1.5-1.5v3M105 158.5h3m-1.5-1.5v3M105 172.5h3m-1.5-1.5v3M106 172.5h3m-1.5-1.5v3M107 145.5h3m-1.5-1.5v3M108 172.5h3m-1.5-1.5v3M109 158.5h3m-1.5-1.5v3M110 172.5h3m-1.5-1.5v3M111 158.5h3m-1.5-1.5v3M111 172.5h3m-1.5-1.5v3M112 158.5h3m-1.5-1.5v3M112 172.5h3m-1.5-1.5v3M113 172.5h3m-1.5-1.5v3M114 158.5h3m-1.5-1.5v3M115 158.5h3m-1.5-1.5v3M115 172.5h3m-1.5-1.5v3M116 158.5h3m-1.5-1.5v3M116 172.5h3m-1.5-1.5v3M118 158.5h3m-1.5-1.5v3M118 172.5h3m-1.5-1.5v3M120 158.5h3m-1.5-1.5v3M121 158.5h3m-1.5-1.5v3M121 172.5h3m-1.5-1.5v3M122 172.5h3m-1.5-1.5v3M123 158.5h3m-1.5-1.5v3M124 172.5h3m-1.5-1.5v3M125 158.5h3m-1.5-1.5v3M125 172.5h3m-1.5-1.5v3M126 158.5h3m-1.5-1.5v3M127 132.5h3m-1.5-1.5v3M127 145.5h3m-1.5-1.5v3M128 158.5h3m-1.5-1.5v3M129 172.5h3m-1.5-1.5v3M130 158.5h3m-1.5-1.5v3M130 172.5h3m-1.5-1.5v3M131 158.5h3m-1.5-1.5v3M131 172.5h3m-1.5-1.5v3M132 145.5h3m-1.5-1.5v3M132 172.5h3m-1.5-1.5v3M133 158.5h3m-1.5-1.5v3M134 145.5h3m-1.5-1.5v3M134 172.5h3m-1.5-1.5v3M135 158.5h3m-1.5-1.5v3M136 158.5h3m-1.5-1.5v3M136 172.5h3m-1.5-1.5v3M137 158.5h3m-1.5-1.5v3M137 172.5h3m-1.5-1.5v3M139 172.5h3m-1.5-1.5v3M140 172.5h3m-1.5-1.5v3M141 158.5h3m-1.5-1.5v3M141 172.5h3m-1.5-1.5v3M143 145.5h3m-1.5-1.5v3M143 158.5h3m-1.5-1.5v3M143 172.5h3m-1.5-1.5v3M144 172.5h3m-1.5-1.5v3M145 158.5h3m-1.5-1.5v3M146 172.5h3m-1.5-1.5v3M147 158.5h3m-1.5-1.5v3M147 172.5h3m-1.5-1.5v3M148 172.5h3m-1.5-1.5v3M149 158.5h3m-1.5-1.5v3M149 172.5h3m-1.5-1.5v3M150 172.5h3m-1.5-1.5v3M151 158.5h3m-1.5-1.5v3M151 172.5h3m-1.5-1.5v3M152 172.5h3m-1.5-1.5v3M154 158.5h3m-1.5-1.5v3M154 172.5h3m-1.5-1.5v3M156 158.5h3m-1.5-1.5v3M156 172.5h3m-1.5-1.5v3M158 172.5h3m-1.5-1.5v3M159 158.5h3m-1.5-1.5v3M160 172.5h3m-1.5-1.5v3M161 158.5h3m-1.5-1.5v3M162 172.5h3m-1.5-1.5v3M164 158.5h3m-1.5-1.5v3M164 172.5h3m-1.5-1.5v3M165 158.5h3m-1.5-1.5v3M167 158.5h3m-1.5-1.5v3M167 172.5h3m-1.5-1.5v3M168 158.5h3m-1.5-1.5v3M169 145.5h3m-1.5-1.5v3M170 145.5h3m-1.5-1.5v3M171 172.5h3m-1.5-1.5v3M172 172.5h3m-1.5-1.5v3M173 158.5h3m-1.5-1.5v3M174 158.5h3m-1.5-1.5v3M174 172.5h3m-1.5-1.5v3M175 158.5h3m-1.5-1.5v3M176 172.5h3m-1.5-1.5v3M177 158.5h3m-1.5-1.5v3M177 172.5h3m-1.5-1.5v3M178 158.5h3m-1.5-1.5v3M179 172.5h3m-1.5-1.5v3M180 158.5h3m-1.5-1.5v3M181 158.5h3m-1.5-1.5v3M181 172.5h3m-1.5-1.5v3M182 158.5h3m-1.5-1.5v3M182 172.5h3m-1.5-1.5v3M183 172.5h3m-1.5-1.5v3M184 158.5h3m-1.5-1.5v3M184 172.5h3m-1.5-1.5v3M185 158.5h3m-1.5-1.5v3M185 172.5h3m-1.5-1.5v3M186 172.5h3m-1.5-1.5v3M187 158.5h3m-1.5-1.5v3M187 172.5h3m-1.5-1.5v3M188 158.5h3m-1.5-1.5v3M189 172.5h3m-1.5-1.5v3M191 172.5h3m-1.5-1.5v3M192 145.5h3m-1.5-1.5v3M192 158.5h3m-1.5-1.5v3M192 172.5h3m-1.5-1.5v3M193 172.5h3m-1.5-1.5v3M195 172.5h3m-1.5-1.5v3M196 145.5h3m-1.5-1.5v3M196 158.5h3m-1.5-1.5v3M197 132.5h3m-1.5-1.5v3M197 145.5h3m-1.5-1.5v3M198 158.5h3m-1.5-1.5v3M199 145.5h3m-1.5-1.5v3M199 158.5h3m-1.5-1.5v3M199 172.5h3m-1.5-1.5v3M201 132.5h3m-1.5-1.5v3M202 145.5h3m-1.5-1.5v3M202 158.5h3m-1.5-1.5v3M203 158.5h3m-1.5-1.5v3M204 158.5h3m-1.5-1.5v3M205 145.5h3m-1.5-1.5v3M205 172.5h3m-1.5-1.5v3M206 158.5h3m-1.5-1.5v3M207 172.5h3m-1.5-1.5v3M208 158.5h3m-1.5-1.5v3M208 172.5h3m-1.5-1.5v3M209 132.5h3m-1.5-1.5v3M209 145.5h3m-1.5-1.5v3M210 158.5h3m-1.5-1.5v3M210 172.5h3m-1.5-1.5v3M211 145.5h3m-1.5-1.5v3M211 158.5h3m-1.5-1.5v3M212 132.5h3m-1.5-1.5v3M213 145.5h3m-1.5-1.5v3M213 158.5h3m-1.5-1.5v3M214 145.5h3m-1.5-1.5v3M214 172.5h3m-1.5-1.5v3M215 158.5h3m-1.5-1.5v3M216 145.5h3m-1.5-1.5v3M216 158.5h3m-1.5-1.5v3M217 145.5h3m-1.5-1.5v3M218 132.5h3m-1.5-1.5v3M218 145.5h3m-1.5-1.5v3M218 158.5h3m-1.5-1.5v3M219 132.5h3m-1.5-1.5v3M219 145.5h3m-1.5-1.5v3M219 158.5h3m-1.5-1.5v3M220 145.5h3m-1.5-1.5v3M220 172.5h3m-1.5-1.5v3M221 158.5h3m-1.5-1.5v3M221 172.5h3m-1.5-1.5v3M222 118.5h3m-1.5-1.5v3M222 132.5h3m-1.5-1.5v3M222 145.5h3m-1.5-1.5v3M222 158.5h3m-1.5-1.5v3M222 172.5h3m-1.5-1.5v3M223 132.5h3m-1.5-1.5v3M223 158.5h3m-1.5-1.5v3M223 172.5h3m-1.5-1.5v3M224 172.5h3m-1.5-1.5v3M225 158.5h3m-1.5-1.5v3M226 172.5h3m-1.5-1.5v3M227 158.5h3m-1.5-1.5v3M228 158.5h3m-1.5-1.5v3M228 172.5h3m-1.5-1.5v3M229 132.5h3m-1.5-1.5v3M229 145.5h3m-1.5-1.5v3M229 158.5h3m-1.5-1.5v3M231 172.5h3m-1.5-1.5v3M232 145.5h3m-1.5-1.5v3M232 158.5h3m-1.5-1.5v3M232 172.5h3m-1.5-1.5v3M233 145.5h3m-1.5-1.5v3M233 172.5h3m-1.5-1.5v3M234 145.5h3m-1.5-1.5v3M234 158.5h3m-1.5-1.5v3M234 172.5h3m-1.5-1.5v3M235 145.5h3m-1.5-1.5v3M236 158.5h3m-1.5-1.5v3M236 172.5h3m-1.5-1.5v3M237 132.5h3m-1.5-1.5v3M237 145.5h3m-1.5-1.5v3M237 158.5h3m-1.5-1.5v3M237 172.5h3m-1.5-1.5v3M238 145.5h3m-1.5-1.5v3M238 158.5h3m-1.5-1.5v3M239 105.5h3m-1.5-1.5v3M239 118.5h3m-1.5-1.5v3M239 132.5h3m-1.5-1.5v3M239 158.5h3m-1.5-1.5v3M240 132.5h3m-1.5-1.5v3M241 145.5h3m-1.5-1.5v3M241 158.5h3m-1.5-1.5v3M242 132.5h3m-1.5-1.5v3M242 158.5h3m-1.5-1.5v3M243 132.5h3m-1.5-1.5v3M243 145.5h3m-1.5-1.5v3M243 158.5h3m-1.5-1.5v3M244 145.5h3m-1.5-1.5v3M244 158.5h3m-1.5-1.5v3M245 118.5h3m-1.5-1.5v3M245 132.5h3m-1.5-1.5v3M245 172.5h3m-1.5-1.5v3M246 145.5h3m-1.5-1.5v3M246 158.5h3m-1.5-1.5v3M247 158.5h3m-1.5-1.5v3M248 145.5h3m-1.5-1.5v3M248 172.5h3m-1.5-1.5v3M249 132.5h3m-1.5-1.5v3M249 145.5h3m-1.5-1.5v3M249 158.5h3m-1.5-1.5v3M250 158.5h3m-1.5-1.5v3M251 118.5h3m-1.5-1.5v3M251 132.5h3m-1.5-1.5v3M251 145.5h3m-1.5-1.5v3M251 158.5h3m-1.5-1.5v3M251 172.5h3m-1.5-1.5v3M252 132.5h3m-1.5-1.5v3M252 145.5h3m-1.5-1.5v3M252 158.5h3m-1.5-1.5v3M253 132.5h3m-1.5-1.5v3M254 105.5h3m-1.5-1.5v3M254 132.5h3m-1.5-1.5v3M254 145.5h3m-1.5-1.5v3M254 158.5h3m-1.5-1.5v3M255 118.5h3m-1.5-1.5v3M255 132.5h3m-1.5-1.5v3M255 145.5h3m-1.5-1.5v3M256 158.5h3m-1.5-1.5v3M257 132.5h3m-1.5-1.5v3M257 145.5h3m-1.5-1.5v3M258 145.5h3m-1.5-1.5v3M259 132.5h3m-1.5-1.5v3M259 145.5h3m-1.5-1.5v3M259 158.5h3m-1.5-1.5v3M260 158.5h3m-1.5-1.5v3M261 132.5h3m-1.5-1.5v3M261 145.5h3m-1.5-1.5v3M261 158.5h3m-1.5-1.5v3M261 172.5h3m-1.5-1.5v3M262 132.5h3m-1.5-1.5v3M262 158.5h3m-1.5-1.5v3M263 105.5h3m-1.5-1.5v3M263 118.5h3m-1.5-1.5v3M263 145.5h3m-1.5-1.5v3M264 132.5h3m-1.5-1.5v3M265 118.5h3m-1.5-1.5v3M265 145.5h3m-1.5-1.5v3M266 132.5h3m-1.5-1.5v3M266 145.5h3m-1.5-1.5v3M267 158.5h3m-1.5-1.5v3M267 172.5h3m-1.5-1.5v3M268 132.5h3m-1.5-1.5v3M268 145.5h3m-1.5-1.5v3M269 132.5h3m-1.5-1.5v3M270 145.5h3m-1.5-1.5v3M270 158.5h3m-1.5-1.5v3M271 132.5h3m-1.5-1.5v3M272 118.5h3m-1.5-1.5v3M272 132.5h3m-1.5-1.5v3M272 145.5h3m-1.5-1.5v3M273 132.5h3m-1.5-1.5v3M273 145.5h3m-1.5-1.5v3M273 158.5h3m-1.5-1.5v3M273 172.5h3m-1.5-1.5v3M274 145.5h3m-1.5-1.5v3M275 132.5h3m-1.5-1.5v3M276 118.5h3m-1.5-1.5v3M276 145.5h3m-1.5-1.5v3M276 158.5h3m-1.5-1.5v3M277 118.5h3m-1.5-1.5v3M277 132.5h3m-1.5-1.5v3M278 132.5h3m-1.5-1.5v3M278 145.5h3m-1.5-1.5v3M278 158.5h3m-1.5-1.5v3M278 172.5h3m-1.5-1.5v3M279 145.5h3m-1.5-1.5v3M279 158.5h3m-1.5-1.5v3M279 172.5h3m-1.5-1.5v3M280 132.5h3m-1.5-1.5v3M281 132.5h3m-1.5-1.5v3M281 145.5h3m-1.5-1.5v3M281 158.5h3m-1.5-1.5v3M282 145.5h3m-1.5-1.5v3M282 158.5h3m-1.5-1.5v3M282 172.5h3m-1.5-1.5v3M283 145.5h3m-1.5-1.5v3M283 172.5h3m-1.5-1.5v3M284 145.5h3m-1.5-1.5v3M284 158.5h3m-1.5-1.5v3M285 132.5h3m-1.5-1.5v3M285 158.5h3m-1.5-1.5v3M286 145.5h3m-1.5-1.5v3M286 172.5h3m-1.5-1.5v3M287 145.5h3m-1.5-1.5v3M288 132.5h3m-1.5-1.5v3M288 158.5h3m-1.5-1.5v3M288 172.5h3m-1.5-1.5v3M289 158.5h3m-1.5-1.5v3M290 158.5h3m-1.5-1.5v3M291 145.5h3m-1.5-1.5v3M291 172.5h3m-1.5-1.5v3M292 132.5h3m-1.5-1.5v3M292 158.5h3m-1.5-1.5v3M292 172.5h3m-1.5-1.5v3M293 145.5h3m-1.5-1.5v3M294 145.5h3m-1.5-1.5v3M294 158.5h3m-1.5-1.5v3M295 158.5h3m-1.5-1.5v3M296 132.5h3m-1.5-1.5v3M296 145.5h3m-1.5-1.5v3M297 158.5h3m-1.5-1.5v3M298 118.5h3m-1.5-1.5v3M298 145.5h3m-1.5-1.5v3M298 158.5h3m-1.5-1.5v3M299 132.5h3m-1.5-1.5v3M299 145.5h3m-1.5-1.5v3M300 158.5h3m-1.5-1.5v3M301 78.5h3m-1.5-1.5v3M301 118.5h3m-1.5-1.5v3M301 145.5h3m-1.5-1.5v3M301 158.5h3m-1.5-1.5v3M301 172.5h3m-1.5-1.5v3M302 91.5h3m-1.5-1.5v3M302 105.5h3m-1.5-1.5v3M302 132.5h3m-1.5-1.5v3M302 158.5h3m-1.5-1.5v3M303 118.5h3m-1.5-1.5v3M303 145.5h3m-1.5-1.5v3M303 158.5h3m-1.5-1.5v3M304 145.5h3m-1.5-1.5v3M304 158.5h3m-1.5-1.5v3M306 145.5h3m-1.5-1.5v3M306 158.5h3m-1.5-1.5v3M307 132.5h3m-1.5-1.5v3M307 145.5h3m-1.5-1.5v3M307 172.5h3m-1.5-1.5v3M308 158.5h3m-1.5-1.5v3M309 118.5h3m-1.5-1.5v3M309 132.5h3m-1.5-1.5v3M309 145.5h3m-1.5-1.5v3M309 158.5h3m-1.5-1.5v3M310 132.5h3m-1.5-1.5v3M310 158.5h3m-1.5-1.5v3M311 145.5h3m-1.5-1.5v3M312 118.5h3m-1.5-1.5v3M312 132.5h3m-1.5-1.5v3M312 145.5h3m-1.5-1.5v3M312 158.5h3m-1.5-1.5v3M313 132.5h3m-1.5-1.5v3M314 132.5h3m-1.5-1.5v3M314 145.5h3m-1.5-1.5v3M315 118.5h3m-1.5-1.5v3M315 132.5h3m-1.5-1.5v3M315 145.5h3m-1.5-1.5v3M316 105.5h3m-1.5-1.5v3M316 118.5h3m-1.5-1.5v3M316 145.5h3m-1.5-1.5v3M317 132.5h3m-1.5-1.5v3M318 118.5h3m-1.5-1.5v3M318 132.5h3m-1.5-1.5v3M318 145.5h3m-1.5-1.5v3M319 158.5h3m-1.5-1.5v3M319 172.5h3m-1.5-1.5v3M320 132.5h3m-1.5-1.5v3M320 145.5h3m-1.5-1.5v3M321 132.5h3m-1.5-1.5v3M321 145.5h3m-1.5-1.5v3M322 132.5h3m-1.5-1.5v3M322 145.5h3m-1.5-1.5v3M323 118.5h3m-1.5-1.5v3M323 132.5h3m-1.5-1.5v3M323 145.5h3m-1.5-1.5v3M324 158.5h3m-1.5-1.5v3M325 132.5h3m-1.5-1.5v3M325 145.5h3m-1.5-1.5v3M326 132.5h3m-1.5-1.5v3M326 145.5h3m-1.5-1.5v3M326 158.5h3m-1.5-1.5v3M328 145.5h3m-1.5-1.5v3M328 158.5h3m-1.5-1.5v3M329 172.5h3m-1.5-1.5v3M330 145.5h3m-1.5-1.5v3M330 158.5h3m-1.5-1.5v3M331 145.5h3m-1.5-1.5v3M331 158.5h3m-1.5-1.5v3M331 172.5h3m-1.5-1.5v3M332 145.5h3m-1.5-1.5v3M333 145.5h3m-1.5-1.5v3M333 158.5h3m-1.5-1.5v3M333 172.5h3m-1.5-1.5v3M334 158.5h3m-1.5-1.5v3M335 145.5h3m-1.5-1.5v3M335 172.5h3m-1.5-1.5v3M336 158.5h3m-1.5-1.5v3M336 172.5h3m-1.5-1.5v3M337 145.5h3m-1.5-1.5v3M337 158.5h3m-1.5-1.5v3M337 172.5h3m-1.5-1.5v3M338 145.5h3m-1.5-1.5v3M338 172.5h3m-1.5-1.5v3M339 158.5h3m-1.5-1.5v3M340 145.5h3m-1.5-1.5v3M340 158.5h3m-1.5-1.5v3M340 172.5h3m-1.5-1.5v3M341 158.5h3m-1.5-1.5v3M342 145.5h3m-1.5-1.5v3M342 158.5h3m-1.5-1.5v3M344 145.5h3m-1.5-1.5v3M345 145.5h3m-1.5-1.5v3M345 158.5h3m-1.5-1.5v3M346 145.5h3m-1.5-1.5v3M346 158.5h3m-1.5-1.5v3M347 132.5h3m-1.5-1.5v3M347 158.5h3m-1.5-1.5v3M348 132.5h3m-1.5-1.5v3M348 145.5h3m-1.5-1.5v3M348 158.5h3m-1.5-1.5v3M349 132.5h3m-1.5-1.5v3M349 158.5h3m-1.5-1.5v3M350 118.5h3m-1.5-1.5v3M350 145.5h3m-1.5-1.5v3M351 118.5h3m-1.5-1.5v3M351 132.5h3m-1.5-1.5v3M351 145.5h3m-1.5-1.5v3M351 158.5h3m-1.5-1.5v3M352 132.5h3m-1.5-1.5v3M353 118.5h3m-1.5-1.5v3M353 145.5h3m-1.5-1.5v3M354 118.5h3m-1.5-1.5v3M354 132.5h3m-1.5-1.5v3M354 145.5h3m-1.5-1.5v3M355 118.5h3m-1.5-1.5v3M355 132.5h3m-1.5-1.5v3M355 145.5h3m-1.5-1.5v3M357 118.5h3m-1.5-1.5v3M357 132.5h3m-1.5-1.5v3M357 145.5h3m-1.5-1.5v3M359 118.5h3m-1.5-1.5v3M359 145.5h3m-1.5-1.5v3M359 158.5h3m-1.5-1.5v3M360 105.5h3m-1.5-1.5v3M360 118.5h3m-1.5-1.5v3M360 145.5h3m-1.5-1.5v3M361 132.5h3m-1.5-1.5v3M362 105.5h3m-1.5-1.5v3M362 118.5h3m-1.5-1.5v3M362 145.5h3m-1.5-1.5v3M363 91.5h3m-1.5-1.5v3M363 105.5h3m-1.5-1.5v3M363 118.5h3m-1.5-1.5v3M363 132.5h3m-1.5-1.5v3M363 145.5h3m-1.5-1.5v3M364 105.5h3m-1.5-1.5v3M364 118.5h3m-1.5-1.5v3M365 118.5h3m-1.5-1.5v3M365 132.5h3m-1.5-1.5v3M365 145.5h3m-1.5-1.5v3M366 105.5h3m-1.5-1.5v3M366 132.5h3m-1.5-1.5v3M367 118.5h3m-1.5-1.5v3M367 132.5h3m-1.5-1.5v3M367 145.5h3m-1.5-1.5v3M368 105.5h3m-1.5-1.5v3M368 118.5h3m-1.5-1.5v3M368 132.5h3m-1.5-1.5v3M369 132.5h3m-1.5-1.5v3M369 145.5h3m-1.5-1.5v3M369 158.5h3m-1.5-1.5v3M370 105.5h3m-1.5-1.5v3M370 118.5h3m-1.5-1.5v3M370 132.5h3m-1.5-1.5v3M371 91.5h3m-1.5-1.5v3M371 105.5h3m-1.5-1.5v3M371 132.5h3m-1.5-1.5v3M371 145.5h3m-1.5-1.5v3M372 105.5h3m-1.5-1.5v3M372 118.5h3m-1.5-1.5v3M372 145.5h3m-1.5-1.5v3M373 118.5h3m-1.5-1.5v3M374 118.5h3m-1.5-1.5v3M374 145.5h3m-1.5-1.5v3M374 158.5h3m-1.5-1.5v3M375 118.5h3m-1.5-1.5v3M375 172.5h3m-1.5-1.5v3M376 91.5h3m-1.5-1.5v3M376 105.5h3m-1.5-1.5v3M376 118.5h3m-1.5-1.5v3M376 145.5h3m-1.5-1.5v3M377 132.5h3m-1.5-1.5v3M378 118.5h3m-1.5-1.5v3M378 132.5h3m-1.5-1.5v3M378 145.5h3m-1.5-1.5v3M379 132.5h3m-1.5-1.5v3M379 145.5h3m-1.5-1.5v3M379 158.5h3m-1.5-1.5v3M380 91.5h3m-1.5-1.5v3M380 105.5h3m-1.5-1.5v3M380 118.5h3m-1.5-1.5v3M380 132.5h3m-1.5-1.5v3M381 145.5h3m-1.5-1.5v3M382 132.5h3m-1.5-1.5v3M382 145.5h3m-1.5-1.5v3M383 145.5h3m-1.5-1.5v3M384 132.5h3m-1.5-1.5v3M384 145.5h3m-1.5-1.5v3M384 158.5h3m-1.5-1.5v3M385 132.5h3m-1.5-1.5v3M385 172.5h3m-1.5-1.5v3M386 145.5h3m-1.5-1.5v3M386 158.5h3m-1.5-1.5v3M387 118.5h3m-1.5-1.5v3M387 132.5h3m-1.5-1.5v3M387 145.5h3m-1.5-1.5v3M388 145.5h3m-1.5-1.5v3M388 158.5h3m-1.5-1.5v3M389 145.5h3m-1.5-1.5v3M389 158.5h3m-1.5-1.5v3M391 158.5h3m-1.5-1.5v3M392 158.5h3m-1.5-1.5v3M392 172.5h3m-1.5-1.5v3M393 158.5h3m-1.5-1.5v3M394 172.5h3m-1.5-1.5v3M395 158.5h3m-1.5-1.5v3M396 158.5h3m-1.5-1.5v3M396 172.5h3m-1.5-1.5v3M397 145.5h3m-1.5-1.5v3M397 172.5h3m-1.5-1.5v3M398 158.5h3m-1.5-1.5v3M399 145.5h3m-1.5-1.5v3M400 132.5h3m-1.5-1.5v3M400 145.5h3m-1.5-1.5v3M400 158.5h3m-1.5-1.5v3M402 145.5h3m-1.5-1.5v3M402 158.5h3m-1.5-1.5v3M402 172.5h3m-1.5-1.5v3M404 145.5h3m-1.5-1.5v3M404 158.5h3m-1.5-1.5v3M405 145.5h3m-1.5-1.5v3M405 158.5h3m-1.5-1.5v3M406 145.5h3m-1.5-1.5v3M406 158.5h3m-1.5-1.5v3M407 132.5h3m-1.5-1.5v3M407 145.5h3m-1.5-1.5v3M407 172.5h3m-1.5-1.5v3M408 158.5h3m-1.5-1.5v3M409 118.5h3m-1.5-1.5v3M409 132.5h3m-1.5-1.5v3M409 145.5h3m-1.5-1.5v3M409 158.5h3m-1.5-1.5v3M410 132.5h3m-1.5-1.5v3M411 145.5h3m-1.5-1.5v3M411 158.5h3m-1.5-1.5v3M411 172.5h3m-1.5-1.5v3M412 145.5h3m-1.5-1.5v3M413 158.5h3m-1.5-1.5v3M414 132.5h3m-1.5-1.5v3M414 145.5h3m-1.5-1.5v3M415 145.5h3m-1.5-1.5v3M415 158.5h3m-1.5-1.5v3M416 145.5h3m-1.5-1.5v3M417 132.5h3m-1.5-1.5v3M418 145.5h3m-1.5-1.5v3M419 145.5h3m-1.5-1.5v3M420 158.5h3m-1.5-1.5v3M421 145.5h3m-1.5-1.5v3M421 158.5h3m-1.5-1.5v3M422 145.5h3m-1.5-1.5v3M422 158.5h3m-1.5-1.5v3M423 132.5h3m-1.5-1.5v3M423 158.5h3m-1.5-1.5v3M424 132.5h3m-1.5-1.5v3M424 145.5h3m-1.5-1.5v3M425 145.5h3m-1.5-1.5v3M426 132.5h3m-1.5-1.5v3M427 145.5h3m-1.5-1.5v3M428 132.5h3m-1.5-1.5v3M428 145.5h3m-1.5-1.5v3M430 118.5h3m-1.5-1.5v3M430 132.5h3m-1.5-1.5v3M430 145.5h3m-1.5-1.5v3M431 132.5h3m-1.5-1.5v3M432 118.5h3m-1.5-1.5v3M433 132.5h3m-1.5-1.5v3M434 118.5h3m-1.5-1.5v3M434 145.5h3m-1.5-1.5v3M435 118.5h3m-1.5-1.5v3M435 132.5h3m-1.5-1.5v3M435 145.5h3m-1.5-1.5v3M436 132.5h3m-1.5-1.5v3M437 132.5h3m-1.5-1.5v3M437 145.5h3m-1.5-1.5v3M438 158.5h3m-1.5-1.5v3M439 132.5h3m-1.5-1.5v3M439 145.5h3m-1.5-1.5v3M440 145.5h3m-1.5-1.5v3M440 158.5h3m-1.5-1.5v3M441 132.5h3m-1.5-1.5v3M441 145.5h3m-1.5-1.5v3M441 158.5h3m-1.5-1.5v3M442 145.5h3m-1.5-1.5v3M443 158.5h3m-1.5-1.5v3M444 145.5h3m-1.5-1.5v3M444 158.5h3m-1.5-1.5v3M446 158.5h3m-1.5-1.5v3M447 145.5h3m-1.5-1.5v3M448 158.5h3m-1.5-1.5v3M449 145.5h3m-1.5-1.5v3M449 158.5h3m-1.5-1.5v3M451 145.5h3m-1.5-1.5v3M451 158.5h3m-1.5-1.5v3M452 145.5h3m-1.5-1.5v3M452 158.5h3m-1.5-1.5v3M453 158.5h3m-1.5-1.5v3M454 145.5h3m-1.5-1.5v3M454 158.5h3m-1.5-1.5v3M455 145.5h3m-1.5-1.5v3M455 158.5h3m-1.5-1.5v3M456 145.5h3m-1.5-1.5v3M457 158.5h3m-1.5-1.5v3M458 145.5h3m-1.5-1.5v3M459 132.5h3m-1.5-1.5v3M459 145.5h3m-1.5-1.5v3M460 145.5h3m-1.5-1.5v3M461 132.5h3m-1.5-1.5v3M462 132.5h3m-1.5-1.5v3M462 145.5h3m-1.5-1.5v3M462 158.5h3m-1.5-1.5v3M463 145.5h3m-1.5-1.5v3M464 158.5h3m-1.5-1.5v3M465 145.5h3m-1.5-1.5v3M465 158.5h3m-1.5-1.5v3M467 145.5h3m-1.5-1.5v3M467 158.5h3m-1.5-1.5v3M468 132.5h3m-1.5-1.5v3M469 145.5h3m-1.5-1.5v3M469 158.5h3m-1.5-1.5v3M470 172.5h3m-1.5-1.5v3M471 145.5h3m-1.5-1.5v3M471 158.5h3m-1.5-1.5v3M472 145.5h3m-1.5-1.5v3M473 145.5h3m-1.5-1.5v3M473 158.5h3m-1.5-1.5v3M474 145.5h3m-1.5-1.5v3M474 158.5h3m-1.5-1.5v3M475 158.5h3m-1.5-1.5v3M475 172.5h3m-1.5-1.5v3M476 132.5h3m-1.5-1.5v3M476 145.5h3m-1.5-1.5v3M477 158.5h3m-1.5-1.5v3M478 105.5h3m-1.5-1.5v3M478 118.5h3m-1.5-1.5v3M478 132.5h3m-1.5-1.5v3M478 145.5h3m-1.5-1.5v3M479 158.5h3m-1.5-1.5v3M480 145.5h3m-1.5-1.5v3M481 145.5h3m-1.5-1.5v3M481 158.5h3m-1.5-1.5v3M482 158.5h3m-1.5-1.5v3M483 145.5h3m-1.5-1.5v3M483 158.5h3m-1.5-1.5v3M484 145.5h3m-1.5-1.5v3M484 158.5h3m-1.5-1.5v3M485 158.5h3m-1.5-1.5v3M485 172.5h3m-1.5-1.5v3M486 145.5h3m-1.5-1.5v3M486 158.5h3m-1.5-1.5v3M486 172.5h3m-1.5-1.5v3M487 132.5h3m-1.5-1.5v3M487 158.5h3m-1.5-1.5v3M488 145.5h3m-1.5-1.5v3M488 158.5h3m-1.5-1.5v3M489 145.5h3m-1.5-1.5v3M489 158.5h3m-1.5-1.5v3M490 145.5h3m-1.5-1.5v3M490 158.5h3m-1.5-1.5v3M491 145.5h3m-1.5-1.5v3M492 145.5h3m-1.5-1.5v3M492 158.5h3m-1.5-1.5v3M493 145.5h3m-1.5-1.5v3M493 158.5h3m-1.5-1.5v3M494 158.5h3m-1.5-1.5v3M495 145.5h3m-1.5-1.5v3M496 132.5h3m-1.5-1.5v3M496 145.5h3m-1.5-1.5v3M497 118.5h3m-1.5-1.5v3M497 132.5h3m-1.5-1.5v3M497 145.5h3m-1.5-1.5v3M498 158.5h3m-1.5-1.5v3M499 105.5h3m-1.5-1.5v3M499 118.5h3m-1.5-1.5v3M499 132.5h3m-1.5-1.5v3M500 145.5h3m-1.5-1.5v3M501 132.5h3m-1.5-1.5v3M501 145.5h3m-1.5-1.5v3M503 132.5h3m-1.5-1.5v3M503 145.5h3m-1.5-1.5v3M504 118.5h3m-1.5-1.5v3M504 132.5h3m-1.5-1.5v3M505 118.5h3m-1.5-1.5v3M505 145.5h3m-1.5-1.5v3M506 132.5h3m-1.5-1.5v3M506 145.5h3m-1.5-1.5v3M507 118.5h3m-1.5-1.5v3M507 132.5h3m-1.5-1.5v3M507 145.5h3m-1.5-1.5v3M509 118.5h3m-1.5-1.5v3M509 132.5h3m-1.5-1.5v3M509 145.5h3m-1.5-1.5v3M510 105.5h3m-1.5-1.5v3M510 118.5h3m-1.5-1.5v3M510 132.5h3m-1.5-1.5v3M511 91.5h3m-1.5-1.5v3M511 118.5h3m-1.5-1.5v3M511 132.5h3m-1.5-1.5v3M512 105.5h3m-1.5-1.5v3M512 118.5h3m-1.5-1.5v3M512 132.5h3m-1.5-1.5v3M513 91.5h3m-1.5-1.5v3M513 105.5h3m-1.5-1.5v3M513 118.5h3m-1.5-1.5v3M513 132.5h3m-1.5-1.5v3M514 105.5h3m-1.5-1.5v3M514 118.5h3m-1.5-1.5v3M515 118.5h3m-1.5-1.5v3M515 132.5h3m-1.5-1.5v3M515 145.5h3m-1.5-1.5v3M516 118.5h3m-1.5-1.5v3M516 132.5h3m-1.5-1.5v3M517 78.5h3m-1.5-1.5v3M517 105.5h3m-1.5-1.5v3M518 91.5h3m-1.5-1.5v3M518 105.5h3m-1.5-1.5v3M518 118.5h3m-1.5-1.5v3M518 132.5h3m-1.5-1.5v3M519 132.5h3m-1.5-1.5v3M520 105.5h3m-1.5-1.5v3M520 118.5h3m-1.5-1.5v3M520 145.5h3m-1.5-1.5v3M521 132.5h3m-1.5-1.5v3M522 105.5h3m-1.5-1.5v3M522 118.5h3m-1.5-1.5v3M522 145.5h3m-1.5-1.5v3M523 132.5h3m-1.5-1.5v3M524 78.5h3m-1.5-1.5v3M524 91.5h3m-1.5-1.5v3M524 118.5h3m-1.5-1.5v3M524 132.5h3m-1.5-1.5v3M525 105.5h3m-1.5-1.5v3M525 132.5h3m-1.5-1.5v3M526 91.5h3m-1.5-1.5v3M526 105.5h3m-1.5-1.5v3M526 118.5h3m-1.5-1.5v3M527 105.5h3m-1.5-1.5v3M527 118.5h3m-1.5-1.5v3M527 132.5h3m-1.5-1.5v3M527 145.5h3m-1.5-1.5v3M527 158.5h3m-1.5-1.5v3M528 105.5h3m-1.5-1.5v3M529 78.5h3m-1.5-1.5v3M529 91.5h3m-1.5-1.5v3M529 105.5h3m-1.5-1.5v3M529 118.5h3m-1.5-1.5v3M529 132.5h3m-1.5-1.5v3M530 105.5h3m-1.5-1.5v3M531 118.5h3m-1.5-1.5v3M532 105.5h3m-1.5-1.5v3M532 118.5h3m-1.5-1.5v3M533 118.5h3m-1.5-1.5v3M533 132.5h3m-1.5-1.5v3M533 145.5h3m-1.5-1.5v3M534 105.5h3m-1.5-1.5v3M535 91.5h3m-1.5-1.5v3M535 105.5h3m-1.5-1.5v3M535 118.5h3m-1.5-1.5v3M535 145.5h3m-1.5-1.5v3M536 105.5h3m-1.5-1.5v3M536 132.5h3m-1.5-1.5v3M537 105.5h3m-1.5-1.5v3M537 118.5h3m-1.5-1.5v3M538 118.5h3m-1.5-1.5v3M539 51.5h3m-1.5-1.5v3M539 65.5h3m-1.5-1.5v3M539 78.5h3m-1.5-1.5v3M539 105.5h3m-1.5-1.5v3M540 91.5h3m-1.5-1.5v3M540 118.5h3m-1.5-1.5v3M541 105.5h3m-1.5-1.5v3M541 118.5h3m-1.5-1.5v3M541 132.5h3m-1.5-1.5v3M542 78.5h3m-1.5-1.5v3M542 91.5h3m-1.5-1.5v3M542 105.5h3m-1.5-1.5v3M542 132.5h3m-1.5-1.5v3M543 118.5h3m-1.5-1.5v3M543 145.5h3m-1.5-1.5v3M544 132.5h3m-1.5-1.5v3M544 145.5h3m-1.5-1.5v3M545 118.5h3m-1.5-1.5v3M545 145.5h3m-1.5-1.5v3M546 91.5h3m-1.5-1.5v3M546 105.5h3m-1.5-1.5v3M546 132.5h3m-1.5-1.5v3M547 145.5h3m-1.5-1.5v3M547 158.5h3m-1.5-1.5v3M548 132.5h3m-1.5-1.5v3M548 145.5h3m-1.5-1.5v3M549 118.5h3m-1.5-1.5v3M550 118.5h3m-1.5-1.5v3M550 132.5h3m-1.5-1.5v3M551 91.5h3m-1.5-1.5v3M551 118.5h3m-1.5-1.5v3M552 78.5h3m-1.5-1.5v3M552 91.5h3m-1.5-1.5v3M552 132.5h3m-1.5-1.5v3M553 91.5h3m-1.5-1.5v3M553 105.5h3m-1.5-1.5v3M553 118.5h3m-1.5-1.5v3M554 91.5h3m-1.5-1.5v3M554 105.5h3m-1.5-1.5v3M555 91.5h3m-1.5-1.5v3M555 118.5h3m-1.5-1.5v3M555 132.5h3m-1.5-1.5v3M555 145.5h3m-1.5-1.5v3M556 91.5h3m-1.5-1.5v3M556 118.5h3m-1.5-1.5v3M556 132.5h3m-1.5-1.5v3M557 132.5h3m-1.5-1.5v3M558 91.5h3m-1.5-1.5v3M558 105.5h3m-1.5-1.5v3M558 118.5h3m-1.5-1.5v3M558 132.5h3m-1.5-1.5v3M558 145.5h3m-1.5-1.5v3M559 118.5h3m-1.5-1.5v3M559 132.5h3m-1.5-1.5v3M559 145.5h3m-1.5-1.5v3M559 158.5h3m-1.5-1.5v3M560 132.5h3m-1.5-1.5v3M560 145.5h3m-1.5-1.5v3M561 118.5h3m-1.5-1.5v3M561 132.5h3m-1.5-1.5v3M562 105.5h3m-1.5-1.5v3M562 118.5h3m-1.5-1.5v3M562 145.5h3m-1.5-1.5v3M563 118.5h3m-1.5-1.5v3M563 132.5h3m-1.5-1.5v3M563 145.5h3m-1.5-1.5v3M564 132.5h3m-1.5-1.5v3M564 158.5h3m-1.5-1.5v3M565 145.5h3m-1.5-1.5v3M566 132.5h3m-1.5-1.5v3M566 158.5h3m-1.5-1.5v3M567 132.5h3m-1.5-1.5v3M567 145.5h3m-1.5-1.5v3M567 158.5h3m-1.5-1.5v3M569 132.5h3m-1.5-1.5v3M569 145.5h3m-1.5-1.5v3M569 158.5h3m-1.5-1.5v3M569 172.5h3m-1.5-1.5v3M570 132.5h3m-1.5-1.5v3M570 145.5h3m-1.5-1.5v3M570 158.5h3m-1.5-1.5v3M571 145.5h3m-1.5-1.5v3M571 158.5h3m-1.5-1.5v3M572 118.5h3m-1.5-1.5v3M572 132.5h3m-1.5-1.5v3M573 145.5h3m-1.5-1.5v3M573 158.5h3m-1.5-1.5v3M573 172.5h3m-1.5-1.5v3M574 132.5h3m-1.5-1.5v3M575 145.5h3m-1.5-1.5v3M575 158.5h3m-1.5-1.5v3M576 132.5h3m-1.5-1.5v3M576 145.5h3m-1.5-1.5v3M577 132.5h3m-1.5-1.5v3M577 145.5h3m-1.5-1.5v3M577 158.5h3m-1.5-1.5v3M578 118.5h3m-1.5-1.5v3M578 132.5h3m-1.5-1.5v3M578 158.5h3m-1.5-1.5v3M579 145.5h3m-1.5-1.5v3M579 158.5h3m-1.5-1.5v3M580 132.5h3m-1.5-1.5v3M580 158.5h3m-1.5-1.5v3M581 145.5h3m-1.5-1.5v3M582 158.5h3m-1.5-1.5v3M582 172.5h3m-1.5-1.5v3M583 145.5h3m-1.5-1.5v3M584 158.5h3m-1.5-1.5v3M585 145.5h3m-1.5-1.5v3M585 158.5h3m-1.5-1.5v3M586 158.5h3m-1.5-1.5v3M587 132.5h3m-1.5-1.5v3M587 145.5h3m-1.5-1.5v3M587 158.5h3m-1.5-1.5v3M588 118.5h3m-1.5-1.5v3M588 145.5h3m-1.5-1.5v3M589 132.5h3m-1.5-1.5v3M590 118.5h3m-1.5-1.5v3M590 132.5h3m-1.5-1.5v3M591 105.5h3m-1.5-1.5v3M592 118.5h3m-1.5-1.5v3M592 132.5h3m-1.5-1.5v3M593 118.5h3m-1.5-1.5v3M593 145.5h3m-1.5-1.5v3M593 158.5h3m-1.5-1.5v3M594 145.5h3m-1.5-1.5v3M595 145.5h3m-1.5-1.5v3M595 158.5h3m-1.5-1.5v3M597 145.5h3m-1.5-1.5v3M597 158.5h3m-1.5-1.5v3M598 145.5h3m-1.5-1.5v3M598 158.5h3m-1.5-1.5v3M600 132.5h3m-1.5-1.5v3M600 145.5h3m-1.5-1.5v3M600 158.5h3m-1.5-1.5v3M601 145.5h3m-1.5-1.5v3M602 132.5h3m-1.5-1.5v3M602 145.5h3m-1.5-1.5v3M603 118.5h3m-1.5-1.5v3M604 118.5h3m-1.5-1.5v3M604 132.5h3m-1.5-1.5v3M604 145.5h3m-1.5-1.5v3M605 118.5h3m-1.5-1.5v3M605 132.5h3m-1.5-1.5v3M605 145.5h3m-1.5-1.5v3M606 132.5h3m-1.5-1.5v3M606 145.5h3m-1.5-1.5v3M606 158.5h3m-1.5-1.5v3M607 118.5h3m-1.5-1.5v3M607 158.5h3m-1.5-1.5v3M608 105.5h3m-1.5-1.5v3M608 118.5h3m-1.5-1.5v3M608 132.5h3m-1.5-1.5v3M608 145.5h3m-1.5-1.5v3M609 132.5h3m-1.5-1.5v3M609 158.5h3m-1.5-1.5v3M610 132.5h3m-1.5-1.5v3M610 145.5h3m-1.5-1.5v3M612 118.5h3m-1.5-1.5v3M612 132.5h3m-1.5-1.5v3M612 145.5h3m-1.5-1.5v3M613 132.5h3m-1.5-1.5v3M614 132.5h3m-1.5-1.5v3M614 145.5h3m-1.5-1.5v3M615 145.5h3m-1.5-1.5v3M616 132.5h3m-1.5-1.5v3M616 145.5h3m-1.5-1.5v3M617 132.5h3m-1.5-1.5v3M618 145.5h3m-1.5-1.5v3M618 158.5h3m-1.5-1.5v3M619 132.5h3m-1.5-1.5v3M619 145.5h3m-1.5-1.5v3M620 145.5h3m-1.5-1.5v3M620 158.5h3m-1.5-1.5v3M621 105.5h3m-1.5-1.5v3M621 132.5h3m-1.5-1.5v3M621 145.5h3m-1.5-1.5v3M622 118.5h3m-1.5-1.5v3M622 158.5h3m-1.5-1.5v3M623 132.5h3m-1.5-1.5v3M623 145.5h3m-1.5-1.5v3M623 158.5h3m-1.5-1.5v3M624 145.5h3m-1.5-1.5v3M624 158.5h3m-1.5-1.5v3M625 132.5h3m-1.5-1.5v3"/>
<rect x="72.5" y="45.5" width="554.0" height="140.0" stroke="#000" stroke-width="0.8" fill="none"/><line x1="69.0" y1="185.5" x2="72.5" y2="185.5" stroke="#000" stroke-width="0.8" fill="none"/><text x="66.8" y="191.00" text-anchor="end">0.0</text><line x1="69.0" y1="118.5" x2="72.5" y2="118.5" stroke="#000" stroke-width="0.8" fill="none"/><text x="66.8" y="124.00" text-anchor="end">0.5</text><line x1="69.0" y1="51.5" x2="72.5" y2="51.5" stroke="#000" stroke-width="0.8" fill="none"/><text x="66.8" y="57.00" text-anchor="end">1.0</text><line x1="72.5" y1="185.5" x2="72.5" y2="189.0" stroke="#000" stroke-width="0.8" fill="none"/><line x1="164.5" y1="185.5" x2="164.5" y2="189.0" stroke="#000" stroke-width="0.8" fill="none"/><line x1="257.5" y1="185.5" x2="257.5" y2="189.0" stroke="#000" stroke-width="0.8" fill="none"/><line x1="349.5" y1="185.5" x2="349.5" y2="189.0" stroke="#000" stroke-width="0.8" fill="none"/><line x1="441.5" y1="185.5" x2="441.5" y2="189.0" stroke="#000" stroke-width="0.8" fill="none"/><line x1="534.5" y1="185.5" x2="534.5" y2="189.0" stroke="#000" stroke-width="0.8" fill="none"/><line x1="626.5" y1="185.5" x2="626.5" y2="189.0" stroke="#000" stroke-width="0.8" fill="none"/><rect x="72.5" y="205.5" width="554.0" height="490.0" stroke="#000" stroke-width="0.8" fill="none"/><line x1="69.0" y1="695.5" x2="72.5" y2="695.5" stroke="#000" stroke-width="0.8" fill="none"/><text x="66.8" y="701.00" text-anchor="end">0</text><line x1="69.0" y1="634.5" x2="72.5" y2="634.5" stroke="#000" stroke-width="0.8" fill="none"/><text x="66.8" y="640.00" text-anchor="end">0.25</text><line x1="69.0" y1="573.5" x2="72.5" y2="573.5" stroke="#000" stroke-width="0.8" fill="none"/><text x="66.8" y="579.00" text-anchor="end">0.5</text><line x1="69.0" y1="511.5" x2="72.5" y2="511.5" stroke="#000" stroke-width="0.8" fill="none"/><text x="66.8" y="517.00" text-anchor="end">0.75</text><line x1="69.0" y1="450.5" x2="72.5" y2="450.5" stroke="#000" stroke-width="0.8" fill="none"/><text x="66.8" y="456.00" text-anchor="end">1</text><line x1="69.0" y1="389.5" x2="72.5" y2="389.5" stroke="#000" stroke-width="0.8" fill="none"/><text x="66.8" y="395.00" text-anchor="end">1.25</text><line x1="69.0" y1="328.5" x2="72.5" y2="328.5" stroke="#000" stroke-width="0.8" fill="none"/><text x="66.8" y="334.00" text-anchor="end">1.5</text><line x1="69.0" y1="266.5" x2="72.5" y2="266.5" stroke="#000" stroke-width="0.8" fill="none"/><text x="66.8" y="272.00" text-anchor="end">1.75</text><line x1="69.0" y1="205.5" x2="72.5" y2="205.5" stroke="#000" stroke-width="0.8" fill="none"/><text x="66.8" y="211.00" text-anchor="end">2</text><rect x="641.5" y="194.5" width="14.0" height="458.0" stroke="#000" stroke-width="0.8" fill="none"/><line x1="655.5" y1="652.5" x2="659.0" y2="652.5" stroke="#000" stroke-width="0.8" fill="none"/><text x="661.1" y="658.00" text-anchor="start">0.00</text><line x1="655.5" y1="595.5" x2="659.0" y2="595.5" stroke="#000" stroke-width="0.8" fill="none"/><text x="661.1" y="601.00" text-anchor="start">0.25</text><line x1="655.5" y1="538.5" x2="659.0" y2="538.5" stroke="#000" stroke-width="0.8" fill="none"/><text x="661.1" y="544.00" text-anchor="start">0.50</text><line x1="655.5" y1="480.5" x2="659.0" y2="480.5" stroke="#000" stroke-width="0.8" fill="none"/><text x="661.1" y="486.00" text-anchor="start">0.75</text><line x1="655.5" y1="423.5" x2="659.0" y2="423.5" stroke="#000" stroke-width="0.8" fill="none"/><text x="661.1" y="429.00" text-anchor="start">1.00</text><line x1="655.5" y1="366.5" x2="659.0" y2="366.5" stroke="#000" stroke-width="0.8" fill="none"/><text x="661.1" y="372.00" text-anchor="start">1.25</text><line x1="655.5" y1="309.5" x2="659.0" y2="309.5" stroke="#000" stroke-width="0.8" fill="none"/><text x="661.1" y="315.00" text-anchor="start">1.50</text><line x1="655.5" y1="251.5" x2="659.0" y2="251.5" stroke="#000" stroke-width="0.8" fill="none"/><text x="661.1" y="257.00" text-anchor="start">1.75</text><line x1="655.5" y1="194.5" x2="659.0" y2="194.5" stroke="#000" stroke-width="0.8" fill="none"/><text x="661.1" y="200.00" text-anchor="start">2.00</text><rect x="72.5" y="715.5" width="554.0" height="140.0" stroke="#000" stroke-width="0.8" fill="none"/><line x1="69.0" y1="818.5" x2="72.5" y2="818.5" stroke="#000" stroke-width="0.8" fill="none"/><text x="66.8" y="824.00" text-anchor="end">20</text><line x1="69.0" y1="753.5" x2="72.5" y2="753.5" stroke="#000" stroke-width="0.8" fill="none"/><text x="66.8" y="759.00" text-anchor="end">40</text><line x1="72.5" y1="855.5" x2="72.5" y2="859.0" stroke="#000" stroke-width="0.8" fill="none"/><text x="72.5" y="873.00" text-anchor="middle">0</text><line x1="164.5" y1="855.5" x2="164.5" y2="859.0" stroke="#000" stroke-width="0.8" fill="none"/><text x="164.83" y="873.00" text-anchor="middle">10</text><line x1="257.5" y1="855.5" x2="257.5" y2="859.0" stroke="#000" stroke-width="0.8" fill="none"/><text x="257.17" y="873.00" text-anchor="middle">20</text><line x1="349.5" y1="855.5" x2="349.5" y2="859.0" stroke="#000" stroke-width="0.8" fill="none"/><text x="349.5" y="873.00" text-anchor="middle">30</text><line x1="441.5" y1="855.5" x2="441.5" y2="859.0" stroke="#000" stroke-width="0.8" fill="none"/><text x="441.83" y="873.00" text-anchor="middle">40</text><line x1="534.5" y1="855.5" x2="534.5" y2="859.0" stroke="#000" stroke-width="0.8" fill="none"/><text x="534.17" y="873.00" text-anchor="middle">50</text><line x1="626.5" y1="855.5" x2="626.5" y2="859.0" stroke="#000" stroke-width="0.8" fill="none"/><text x="626.5" y="873.00" text-anchor="middle">60</text><text x="360" y="31.8" text-anchor="middle" font-size="18">2017-05-14 22:00-23:00 (50.00_Hz)</text><text transform="translate(36.2 115.5) rotate(-90)" text-anchor="middle">Wind [m/s]</text><text transform="translate(25.0 450.3) rotate(-90)" text-anchor="middle">FFT Frequenz [Hz]</text><text transform="translate(40.5 785.5) rotate(-90)" text-anchor="middle">SPL [dB]</text><text x="349.5" y="889.5" text-anchor="middle">time [min]</text>
</svg>
</body></html>
